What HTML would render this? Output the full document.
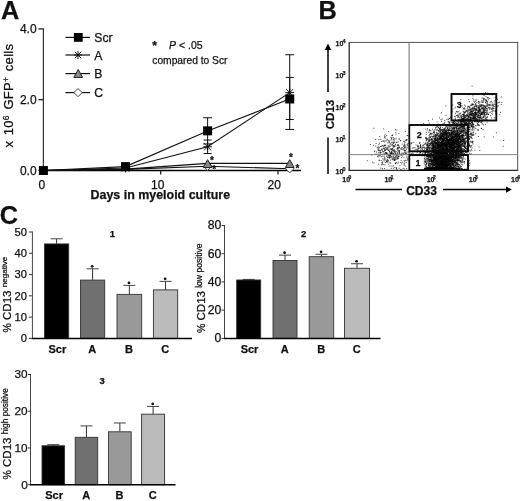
<!DOCTYPE html>
<html><head><meta charset="utf-8"><title>Figure</title>
<style>
html,body{margin:0;padding:0;background:#fff;}
body{width:520px;height:501px;overflow:hidden;font-family:"Liberation Sans",sans-serif;}
svg text{font-family:"Liberation Sans",sans-serif;stroke:#111;stroke-width:0.25px;}
</style></head><body>
<svg width="520" height="501" viewBox="0 0 520 501" font-family="Liberation Sans, sans-serif" style="display:block;filter:grayscale(1)">
<text x="1" y="19" font-size="25.3" font-weight="bold" fill="#111" stroke="#111" stroke-width="0.25" >A</text>
<line x1="43.4" y1="28.5" x2="43.4" y2="171.0" stroke="#333" stroke-width="1.2"/>
<line x1="42.9" y1="170.5" x2="301" y2="170.5" stroke="#000" stroke-width="1.5"/>
<line x1="38.4" y1="28.900000000000006" x2="43.4" y2="28.900000000000006" stroke="#111" stroke-width="1.2"/>
<text x="36.6" y="33.300000000000004" font-size="12" text-anchor="end" fill="#111" stroke="#111" stroke-width="0.25" >4.0</text>
<line x1="38.4" y1="99.7" x2="43.4" y2="99.7" stroke="#111" stroke-width="1.2"/>
<text x="36.6" y="104.10000000000001" font-size="12" text-anchor="end" fill="#111" stroke="#111" stroke-width="0.25" >2.0</text>
<line x1="38.4" y1="170.5" x2="43.4" y2="170.5" stroke="#111" stroke-width="1.2"/>
<text x="36.6" y="174.9" font-size="12" text-anchor="end" fill="#111" stroke="#111" stroke-width="0.25" >0.0</text>
<line x1="43.4" y1="170.5" x2="43.4" y2="174.5" stroke="#111" stroke-width="1.2"/>
<text x="41.9" y="188.8" font-size="12" text-anchor="middle" fill="#111" stroke="#111" stroke-width="0.25" >0</text>
<line x1="160.70000000000002" y1="170.5" x2="160.70000000000002" y2="174.5" stroke="#111" stroke-width="1.2"/>
<text x="157.70000000000002" y="188.8" font-size="12" text-anchor="middle" fill="#111" stroke="#111" stroke-width="0.25" >10</text>
<line x1="278.0" y1="170.5" x2="278.0" y2="174.5" stroke="#111" stroke-width="1.2"/>
<text x="274.2" y="188.8" font-size="12" text-anchor="middle" fill="#111" stroke="#111" stroke-width="0.25" >20</text>
<text x="160.3" y="198.7" font-size="12.45" font-weight="bold" text-anchor="middle" fill="#111" stroke="#111" stroke-width="0.25" >Days in myeloid culture</text>
<text transform="translate(13 147.5) rotate(-90)" font-size="13" letter-spacing="0.3" word-spacing="1.6" fill="#111">x 10<tspan dy="-4.5" font-size="8.5">6</tspan><tspan dy="4.5"> GFP</tspan><tspan dy="-4.5" font-size="8.5">+</tspan><tspan dy="4.5"> cells</tspan></text>
<line x1="65.4" y1="37.4" x2="90" y2="37.4" stroke="#111" stroke-width="1.2"/>
<rect x="73.89999999999999" y="33.0" width="8.8" height="8.8" fill="#000"/>
<text x="94.3" y="41.9" font-size="12.2" fill="#111" stroke="#111" stroke-width="0.25" >Scr</text>
<line x1="65.4" y1="55" x2="90" y2="55" stroke="#111" stroke-width="1.2"/>
<line x1="74" y1="55" x2="82" y2="55" stroke="#111" stroke-width="1"/>
<line x1="78" y1="51" x2="78" y2="59" stroke="#111" stroke-width="1"/>
<line x1="74.8" y1="51.8" x2="81.2" y2="58.2" stroke="#111" stroke-width="1"/>
<line x1="74.8" y1="58.2" x2="81.2" y2="51.8" stroke="#111" stroke-width="1"/>
<text x="94.3" y="59.5" font-size="12.2" fill="#111" stroke="#111" stroke-width="0.25" >A</text>
<line x1="65.4" y1="73.6" x2="90" y2="73.6" stroke="#111" stroke-width="1.2"/>
<polygon points="78.2,69.49999999999999 82.60000000000001,77.41999999999999 73.8,77.41999999999999" fill="#888" stroke="#222" stroke-width="1"/>
<text x="94.3" y="78.1" font-size="12.2" fill="#111" stroke="#111" stroke-width="0.25" >B</text>
<line x1="65.4" y1="92.6" x2="90" y2="92.6" stroke="#111" stroke-width="1.2"/>
<polygon points="78,88.46 82.14,92.6 78,96.74 73.86,92.6" fill="#fff" stroke="#444" stroke-width="1"/>
<text x="94.3" y="97.1" font-size="12.2" fill="#111" stroke="#111" stroke-width="0.25" >C</text>
<text x="152.3" y="50" font-size="12" font-weight="bold" fill="#111" stroke="#111" stroke-width="0.25" >*</text>
<text x="169" y="48.7" font-size="10.5" fill="#111"><tspan font-style="italic">P</tspan> &lt; .05</text>
<text x="152.3" y="63.7" font-size="10.25" fill="#111" stroke="#111" stroke-width="0.25" >compared to Scr</text>
<line x1="207.62" y1="117.754" x2="207.62" y2="143.95" stroke="#111" stroke-width="1"/>
<line x1="203.12" y1="117.754" x2="212.12" y2="117.754" stroke="#111" stroke-width="1"/>
<line x1="203.12" y1="143.95" x2="212.12" y2="143.95" stroke="#111" stroke-width="1"/>
<line x1="289.73" y1="54.742000000000004" x2="289.73" y2="129.436" stroke="#111" stroke-width="1"/>
<line x1="285.23" y1="54.742000000000004" x2="294.23" y2="54.742000000000004" stroke="#111" stroke-width="1"/>
<line x1="285.23" y1="129.436" x2="294.23" y2="129.436" stroke="#111" stroke-width="1"/>
<line x1="207.62" y1="140.056" x2="207.62" y2="153.508" stroke="#111" stroke-width="1"/>
<line x1="203.62" y1="140.056" x2="211.62" y2="140.056" stroke="#111" stroke-width="1"/>
<line x1="203.62" y1="153.508" x2="211.62" y2="153.508" stroke="#111" stroke-width="1"/>
<line x1="289.73" y1="77.39800000000001" x2="289.73" y2="119.524" stroke="#111" stroke-width="1"/>
<line x1="285.73" y1="77.39800000000001" x2="293.73" y2="77.39800000000001" stroke="#111" stroke-width="1"/>
<line x1="285.73" y1="119.524" x2="293.73" y2="119.524" stroke="#111" stroke-width="1"/>
<polyline points="43.4,170.5 125.5,169.4 207.6,166.3 289.7,168.7" fill="none" stroke="#111" stroke-width="1.1"/>
<polyline points="43.4,170.5 125.5,169.1 207.6,163.4 289.7,163.4" fill="none" stroke="#111" stroke-width="1.1"/>
<polyline points="43.4,170.5 125.5,168.0 207.6,146.8 289.7,92.6" fill="none" stroke="#111" stroke-width="1.1"/>
<polyline points="43.4,170.5 125.5,166.6 207.6,130.9 289.7,99.0" fill="none" stroke="#111" stroke-width="1.1"/>
<polygon points="207.62,162.11200000000002 211.76,166.252 207.62,170.392 203.48000000000002,166.252" fill="#fff" stroke="#444" stroke-width="1"/>
<polygon points="289.73,164.59 293.87,168.73 289.73,172.86999999999998 285.59000000000003,168.73" fill="#fff" stroke="#444" stroke-width="1"/>
<polygon points="207.62,159.61999999999998 212.02,167.54 203.22,167.54" fill="#888" stroke="#222" stroke-width="1"/>
<polygon points="289.73,159.61999999999998 294.13,167.54 285.33000000000004,167.54" fill="#888" stroke="#222" stroke-width="1"/>
<line x1="121.10999999999999" y1="168.022" x2="129.91" y2="168.022" stroke="#111" stroke-width="1"/>
<line x1="125.50999999999999" y1="163.62199999999999" x2="125.50999999999999" y2="172.422" stroke="#111" stroke-width="1"/>
<line x1="121.99" y1="164.50199999999998" x2="129.03" y2="171.542" stroke="#111" stroke-width="1"/>
<line x1="121.99" y1="171.542" x2="129.03" y2="164.50199999999998" stroke="#111" stroke-width="1"/>
<line x1="203.22" y1="146.782" x2="212.02" y2="146.782" stroke="#111" stroke-width="1"/>
<line x1="207.62" y1="142.382" x2="207.62" y2="151.18200000000002" stroke="#111" stroke-width="1"/>
<line x1="204.1" y1="143.262" x2="211.14000000000001" y2="150.30200000000002" stroke="#111" stroke-width="1"/>
<line x1="204.1" y1="150.30200000000002" x2="211.14000000000001" y2="143.262" stroke="#111" stroke-width="1"/>
<line x1="285.33000000000004" y1="92.61999999999999" x2="294.13" y2="92.61999999999999" stroke="#111" stroke-width="1"/>
<line x1="289.73" y1="88.21999999999998" x2="289.73" y2="97.02" stroke="#111" stroke-width="1"/>
<line x1="286.21000000000004" y1="89.1" x2="293.25" y2="96.13999999999999" stroke="#111" stroke-width="1"/>
<line x1="286.21000000000004" y1="96.13999999999999" x2="293.25" y2="89.1" stroke="#111" stroke-width="1"/>
<rect x="38.9" y="166.0" width="9.0" height="9.0" fill="#000"/>
<rect x="121.00999999999999" y="162.106" width="9.0" height="9.0" fill="#000"/>
<rect x="203.12" y="126.352" width="9.0" height="9.0" fill="#000"/>
<rect x="285.23" y="94.492" width="9.0" height="9.0" fill="#000"/>
<text x="211.92000000000002" y="164.3" font-size="10" font-weight="bold" text-anchor="middle" fill="#111" stroke="#111" stroke-width="0.25" >*</text>
<text x="214.12" y="172.5" font-size="10" font-weight="bold" text-anchor="middle" fill="#111" stroke="#111" stroke-width="0.25" >*</text>
<text x="291" y="161.2" font-size="10" font-weight="bold" text-anchor="middle" fill="#111" stroke="#111" stroke-width="0.25" >*</text>
<text x="297.5" y="171.7" font-size="10" font-weight="bold" text-anchor="middle" fill="#111" stroke="#111" stroke-width="0.25" >*</text>
<text x="318.6" y="19" font-size="25.3" font-weight="bold" fill="#111" stroke="#111" stroke-width="0.25" >B</text>
<path d="M439.7 166.0h1M440.0 158.1h1M433.6 159.4h1M452.0 164.5h1M451.3 162.9h1M445.6 162.6h1M427.0 168.7h1M446.6 165.5h1M426.8 145.3h1M434.0 157.0h1M444.7 160.4h1M446.7 154.7h1M444.8 164.6h1M436.0 168.7h1M447.0 169.2h1M436.4 154.3h1M438.9 160.2h1M447.7 163.1h1M438.0 152.1h1M437.3 169.9h1M434.7 163.7h1M445.8 146.7h1M442.4 168.9h1M423.9 158.9h1M441.0 153.3h1M446.5 160.2h1M428.8 169.8h1M448.0 169.5h1M455.0 163.8h1M443.1 148.6h1M447.5 154.9h1M437.9 149.2h1M433.3 156.4h1M453.6 141.1h1M428.9 164.0h1M455.0 165.8h1M424.9 138.0h1M445.2 153.8h1M431.9 168.2h1M451.9 162.0h1M444.2 165.0h1M456.3 166.1h1M446.7 166.0h1M427.9 169.6h1M450.6 165.6h1M424.2 155.9h1M449.6 143.4h1M440.3 168.1h1M430.2 169.7h1M447.0 159.3h1M444.9 167.0h1M443.1 169.9h1M436.0 157.4h1M451.4 160.8h1M434.1 169.9h1M455.2 156.1h1M429.6 160.4h1M440.7 158.2h1M454.6 150.6h1M453.3 148.4h1M434.9 167.4h1M452.2 168.6h1M445.1 162.2h1M443.4 166.4h1M440.4 163.7h1M447.2 160.7h1M448.9 166.0h1M460.1 163.1h1M438.2 157.7h1M441.9 168.3h1M439.0 164.8h1M458.5 135.8h1M431.9 163.8h1M445.6 163.1h1M438.1 167.4h1M444.5 155.9h1M463.9 163.2h1M437.0 160.3h1M440.0 160.5h1M417.4 157.7h1M451.1 149.4h1M441.4 168.2h1M449.7 169.5h1M426.7 158.5h1M438.9 167.1h1M451.8 135.0h1M451.8 146.7h1M448.1 146.5h1M443.6 169.3h1M440.7 162.9h1M449.2 162.0h1M441.2 169.3h1M451.4 157.7h1M466.7 148.8h1M450.2 158.0h1M443.2 167.6h1M444.0 167.0h1M428.3 147.4h1M447.5 151.6h1M432.8 147.5h1M453.4 167.5h1M455.3 151.4h1M442.0 150.2h1M448.9 168.7h1M434.0 169.4h1M450.9 158.8h1M424.3 169.1h1M441.1 155.3h1M445.6 164.7h1M455.5 150.6h1M452.2 168.7h1M455.1 158.6h1M435.3 169.4h1M443.0 162.1h1M454.8 157.8h1M421.3 158.4h1M425.3 169.7h1M444.9 155.1h1M441.9 168.9h1M442.7 168.7h1M441.4 168.7h1M455.4 170.0h1M436.0 169.1h1M425.1 151.6h1M424.3 168.3h1M430.9 161.5h1M440.3 160.8h1M436.7 163.5h1M458.1 160.6h1M446.8 168.8h1M440.2 149.1h1M437.0 168.6h1M427.2 156.1h1M451.1 168.0h1M442.1 168.6h1M443.5 149.7h1M427.9 155.7h1M450.3 155.2h1M433.9 154.1h1M428.2 160.6h1M431.4 165.0h1M420.8 165.2h1M436.2 142.9h1M448.5 158.0h1M421.9 153.8h1M444.6 156.5h1M449.0 167.7h1M448.0 163.8h1M454.0 166.6h1M446.1 141.0h1M450.1 168.0h1M439.3 156.7h1M459.5 143.4h1M446.2 169.6h1M433.7 168.0h1M459.0 159.0h1M447.1 169.3h1M433.8 160.6h1M444.6 168.7h1M441.7 159.2h1M432.9 158.1h1M450.0 161.5h1M434.3 153.4h1M466.0 169.2h1M447.7 136.1h1M447.6 165.3h1M457.2 164.3h1M441.4 166.0h1M424.5 169.7h1M444.9 154.2h1M453.9 168.2h1M429.4 155.3h1M444.6 162.6h1M438.4 151.9h1M461.1 168.8h1M431.3 148.8h1M457.3 168.3h1M458.4 167.8h1M434.2 163.9h1M422.6 154.9h1M441.5 166.0h1M435.5 160.2h1M446.1 164.4h1M447.7 162.7h1M439.1 168.6h1M442.4 153.1h1M436.4 161.3h1M441.0 162.5h1M442.0 162.7h1M440.8 149.1h1M445.8 168.7h1M445.9 159.0h1M446.0 151.6h1M424.9 162.5h1M433.6 168.5h1M432.2 136.6h1M432.6 169.3h1M438.6 148.2h1M435.1 166.3h1M446.5 162.4h1M455.4 167.0h1M441.8 166.7h1M456.9 169.4h1M451.2 150.2h1M440.7 168.0h1M439.3 168.6h1M447.4 169.3h1M440.1 169.5h1M453.2 158.4h1M442.8 169.0h1M438.9 169.5h1M450.8 160.6h1M431.5 163.3h1M445.2 168.7h1M449.0 160.9h1M449.7 165.7h1M443.9 161.4h1M439.8 167.6h1M432.5 155.5h1M442.0 147.1h1M438.1 142.1h1M435.9 166.7h1M447.1 160.2h1M439.9 147.7h1M458.5 165.0h1M451.8 152.1h1M440.3 143.8h1M449.0 168.4h1M424.9 161.4h1M447.7 144.0h1M425.6 151.8h1M436.3 148.0h1M442.3 163.4h1M447.7 167.4h1M455.5 169.5h1M430.2 156.8h1M432.5 151.3h1M441.3 161.1h1M446.4 145.7h1M430.9 161.4h1M440.2 158.1h1M441.4 153.8h1M448.3 164.0h1M441.2 154.7h1M440.4 135.3h1M433.2 161.8h1M428.5 163.6h1M443.3 147.9h1M439.7 158.1h1M446.1 166.6h1M441.7 152.9h1M440.7 160.4h1M448.6 163.4h1M435.5 148.5h1M438.6 154.2h1M432.0 160.4h1M437.6 162.2h1M446.7 156.8h1M462.9 156.8h1M451.9 161.6h1M452.0 137.9h1M435.2 163.7h1M447.4 168.5h1M444.9 168.9h1M448.9 168.7h1M446.6 159.3h1M446.6 150.5h1M452.6 150.8h1M444.2 169.8h1M440.0 161.3h1M452.5 160.7h1M434.7 163.8h1M447.2 167.5h1M435.0 168.9h1M457.0 160.4h1M444.4 156.8h1M454.7 153.6h1M448.1 156.1h1M435.8 168.1h1M454.0 160.3h1M435.9 169.0h1M441.6 164.0h1M455.7 169.8h1M437.3 168.7h1M442.0 168.5h1M436.2 160.9h1M426.3 168.4h1M454.3 148.8h1M428.5 146.3h1M452.6 156.1h1M441.5 158.1h1M440.9 150.7h1M442.2 147.3h1M441.4 164.0h1M446.2 158.6h1M433.9 162.9h1M437.6 169.2h1M448.9 159.5h1M437.8 154.6h1M433.6 158.1h1M444.7 165.8h1M447.1 169.1h1M435.7 161.5h1M467.2 142.0h1M437.3 162.9h1M443.4 164.8h1M439.9 164.6h1M442.5 168.3h1M425.0 153.5h1M442.0 151.2h1M432.6 167.5h1M436.2 167.3h1M448.7 163.6h1M446.6 159.8h1M429.3 161.4h1M446.1 155.8h1M441.1 168.2h1M434.1 167.5h1M458.8 154.9h1M443.3 159.5h1M455.9 163.3h1M450.1 154.0h1M441.9 160.9h1M426.0 168.8h1M450.1 144.0h1M448.7 159.4h1M446.0 164.3h1M428.5 159.7h1M455.4 154.8h1M432.8 148.6h1M431.0 164.8h1M457.2 164.3h1M444.2 168.9h1M437.3 154.9h1M446.8 166.0h1M432.9 150.4h1M444.6 163.2h1M430.2 159.7h1M437.1 165.6h1M440.9 160.2h1M438.8 168.0h1M454.5 156.9h1M449.6 153.4h1M442.6 168.1h1M455.6 156.7h1M441.3 162.9h1M428.5 161.9h1M435.9 164.8h1M431.8 142.8h1M442.3 163.5h1M437.1 168.3h1M439.5 155.4h1M446.3 145.9h1M435.9 161.1h1M449.6 159.1h1M444.8 154.6h1M444.7 168.6h1M435.8 169.3h1M436.2 161.5h1M443.6 169.9h1M430.9 141.7h1M447.5 168.3h1M447.6 168.6h1M443.8 163.3h1M450.4 164.1h1M457.0 148.5h1M438.6 128.5h1M449.3 157.1h1M450.3 169.6h1M441.9 158.6h1M437.5 153.3h1M436.3 167.4h1M442.3 161.6h1M440.4 168.6h1M446.4 159.4h1M448.0 159.2h1M431.6 168.7h1M446.2 151.7h1M451.7 163.8h1M427.9 168.3h1M445.0 169.3h1M443.8 159.5h1M428.1 169.9h1M442.3 158.3h1M445.2 161.6h1M448.1 157.2h1M441.7 140.7h1M438.2 167.6h1M454.0 156.9h1M440.9 169.0h1M439.1 168.1h1M457.1 160.6h1M453.0 153.7h1M443.9 160.2h1M443.0 169.3h1M463.5 153.6h1M436.8 166.0h1M432.5 166.2h1M447.1 158.1h1M446.8 146.0h1M448.8 146.0h1M435.7 156.1h1M438.4 169.3h1M442.7 157.2h1M446.9 169.3h1M442.1 164.5h1M453.2 163.0h1M430.4 169.5h1M461.9 141.1h1M441.6 165.0h1M450.7 166.9h1M439.6 151.1h1M442.9 168.3h1M432.2 151.8h1M441.8 142.6h1M439.7 157.0h1M446.1 154.1h1M434.1 157.7h1M441.6 154.7h1M442.1 168.1h1M452.7 169.1h1M434.9 157.4h1M419.7 168.9h1M435.5 161.0h1M446.7 147.9h1M446.2 160.5h1M425.6 164.6h1M452.8 142.7h1M449.3 162.6h1M446.3 165.0h1M453.7 158.3h1M449.9 156.7h1M448.6 152.9h1M441.0 169.8h1M446.0 159.3h1M431.7 154.0h1M443.7 168.9h1M445.8 165.8h1M441.6 168.7h1M438.5 156.0h1M450.0 161.2h1M439.5 155.7h1M439.7 167.0h1M445.2 149.4h1M445.8 162.5h1M433.0 168.8h1M439.5 158.0h1M449.2 169.8h1M435.8 165.5h1M434.1 169.3h1M437.6 169.5h1M436.2 169.0h1M462.0 135.8h1M438.1 166.0h1M441.2 154.7h1M461.4 160.7h1M427.2 168.9h1M426.5 169.8h1M436.8 162.6h1M453.3 161.5h1M429.5 145.6h1M452.6 167.5h1M434.7 168.0h1M446.5 166.9h1M421.7 159.2h1M450.1 167.5h1M449.9 137.3h1M443.5 165.6h1M465.0 150.7h1M439.0 161.5h1M450.0 156.4h1M452.3 153.0h1M444.4 155.9h1M443.4 154.4h1M427.6 169.2h1M444.7 155.6h1M443.8 168.1h1M433.2 160.4h1M446.9 165.7h1M439.0 141.2h1M453.2 163.5h1M442.1 158.4h1M444.4 156.8h1M432.8 154.5h1M436.6 155.5h1M431.6 167.6h1M430.2 167.9h1M432.9 164.8h1M454.4 162.3h1M435.4 161.8h1M443.3 144.5h1M436.5 162.8h1M437.8 162.0h1M448.6 167.9h1M450.2 166.2h1M439.4 161.0h1M439.6 158.2h1M440.4 144.7h1M439.0 160.9h1M433.2 161.2h1M446.6 159.2h1M460.7 135.3h1M440.1 143.8h1M450.8 169.9h1M419.5 163.4h1M446.7 157.9h1M447.0 139.5h1M449.7 164.1h1M442.2 155.4h1M447.7 156.1h1M444.0 156.1h1M421.8 161.8h1M443.8 168.1h1M434.1 161.1h1M447.6 162.1h1M453.2 168.5h1M433.8 143.2h1M449.7 168.2h1M450.3 168.3h1M436.4 154.5h1M450.0 151.9h1M425.7 152.4h1M464.4 169.1h1M435.8 154.4h1M444.1 153.8h1M453.8 159.6h1M432.2 169.3h1M436.8 163.4h1M441.9 158.0h1M444.9 154.3h1M425.4 140.9h1M430.6 154.4h1M441.8 161.5h1M447.0 161.9h1M434.9 154.7h1M422.9 160.4h1M446.4 165.8h1M440.9 159.4h1M450.4 160.7h1M448.6 166.2h1M443.9 168.8h1M436.8 157.9h1M434.7 153.8h1M456.0 169.4h1M442.2 166.4h1M452.6 168.1h1M452.8 148.4h1M436.2 165.6h1M454.9 161.3h1M434.3 158.0h1M436.1 153.2h1M455.5 154.4h1M442.2 169.5h1M452.7 163.6h1M436.5 165.2h1M456.6 166.1h1M453.4 161.3h1M446.6 158.8h1M445.8 168.2h1M429.1 161.1h1M444.2 155.5h1M439.2 168.6h1M460.0 166.0h1M444.9 146.1h1M459.3 160.8h1M441.7 150.4h1M441.5 150.6h1M442.6 165.4h1M442.3 163.6h1M434.3 168.7h1M436.1 144.1h1M440.3 153.8h1M432.9 158.1h1M444.6 149.6h1M440.8 169.0h1M448.1 159.2h1M443.1 159.8h1M441.6 168.0h1M441.2 138.2h1M441.8 152.6h1M447.9 154.9h1M443.3 169.1h1M432.6 150.8h1M429.3 138.9h1M425.1 165.4h1M436.3 143.6h1M428.7 167.6h1M435.0 157.9h1M445.0 168.4h1M459.5 168.5h1M443.3 162.7h1M458.2 169.4h1M439.2 165.5h1M444.6 161.4h1M437.5 148.7h1M437.2 146.6h1M453.0 165.5h1M431.1 169.4h1M450.0 142.5h1M458.6 167.8h1M460.6 148.3h1M446.8 164.8h1M443.8 162.5h1M451.5 146.3h1M430.8 148.4h1M437.0 155.5h1M445.3 163.4h1M442.3 154.6h1M438.0 169.2h1M448.9 161.6h1M439.1 169.9h1M436.7 167.4h1M452.4 157.9h1M449.4 150.0h1M451.1 162.4h1M427.7 168.1h1M434.0 169.2h1M435.9 159.8h1M444.5 157.7h1M444.3 155.6h1M448.0 160.7h1M443.9 134.8h1M452.5 160.8h1M426.0 162.8h1M446.2 169.8h1M432.3 168.7h1M440.6 169.3h1M440.7 167.5h1M438.7 150.6h1M451.9 169.1h1M455.8 168.4h1M436.8 145.5h1M436.1 154.9h1M434.7 166.9h1M445.0 158.3h1M443.6 159.5h1M443.9 168.0h1M450.6 154.0h1M428.4 169.3h1M443.0 169.6h1M427.2 158.6h1M442.2 147.3h1M437.4 168.1h1M451.7 169.5h1M434.2 148.1h1M446.7 169.5h1M443.7 148.6h1M449.0 168.1h1M447.0 156.1h1M444.7 168.4h1M437.0 143.8h1M445.0 165.4h1M442.1 169.4h1M436.7 160.5h1M439.3 166.6h1M456.4 157.9h1M460.5 168.2h1M449.1 166.2h1M457.9 158.4h1M441.0 151.0h1M446.3 169.1h1M446.8 164.8h1M440.2 162.7h1M429.2 168.9h1M438.3 150.7h1M435.2 153.5h1M449.7 169.4h1M429.8 168.1h1M450.0 155.1h1M428.6 154.6h1M436.3 164.6h1M438.8 141.9h1M444.1 146.3h1M450.1 149.1h1M435.8 153.2h1M437.1 168.8h1M449.7 166.3h1M444.9 146.2h1M437.3 156.0h1M433.2 166.3h1M435.3 154.6h1M432.6 142.0h1M447.4 169.7h1M443.6 151.7h1M417.7 163.9h1M452.9 163.2h1M450.3 168.6h1M452.1 156.3h1M451.5 167.9h1M428.2 157.9h1M429.2 160.6h1M447.2 150.6h1M423.5 170.0h1M445.4 168.0h1M430.1 168.5h1M460.7 169.6h1M440.1 163.7h1M440.6 169.1h1M451.3 161.3h1M429.8 168.7h1M437.8 167.2h1M444.4 168.2h1M452.2 156.2h1M445.1 168.5h1M437.2 165.4h1M452.7 168.4h1M446.7 148.2h1M430.7 163.9h1M445.5 168.8h1M434.2 169.6h1M448.9 144.8h1M434.6 163.0h1M437.6 159.8h1M446.2 153.1h1M446.2 154.7h1M437.1 166.4h1M436.8 164.0h1M456.4 160.5h1M440.7 168.0h1M438.7 168.7h1M430.5 167.5h1M437.4 153.7h1M457.9 152.1h1M457.8 166.4h1M455.1 151.0h1M452.8 168.8h1M441.0 159.8h1M464.1 161.5h1M438.2 155.2h1M446.0 163.9h1M443.6 169.7h1M439.0 165.6h1M455.1 150.8h1M451.3 169.9h1M429.8 151.2h1M432.7 144.0h1M446.1 143.2h1M446.5 168.9h1M427.5 158.8h1M424.7 169.3h1M435.4 158.8h1M442.5 166.1h1M438.9 161.3h1M437.1 162.3h1M431.4 162.2h1M424.6 157.3h1M459.2 160.8h1M430.7 164.0h1M433.2 145.8h1M435.4 168.3h1M445.5 159.9h1M433.7 151.2h1M454.1 162.7h1M433.4 141.4h1M429.7 168.2h1M431.7 160.8h1M443.9 159.4h1M439.5 148.1h1M432.5 169.3h1M435.2 169.4h1M426.8 159.2h1M444.3 168.7h1M431.9 167.2h1M445.5 153.8h1M446.3 152.3h1M434.8 161.2h1M417.6 161.2h1M433.0 147.6h1M438.2 168.4h1M438.4 169.8h1M431.6 149.1h1M456.0 164.0h1M450.5 152.7h1M449.2 163.1h1M447.8 160.9h1M452.9 154.3h1M433.3 147.4h1M452.4 153.4h1M432.6 152.6h1M438.0 149.1h1M439.4 155.2h1M437.0 152.2h1M442.3 156.6h1M443.0 163.3h1M445.1 140.1h1M437.2 153.7h1M449.0 145.7h1M435.6 158.6h1M439.0 168.2h1M438.0 168.2h1M428.8 144.5h1M453.0 164.6h1M446.4 161.9h1M446.4 149.2h1M450.5 155.5h1M450.9 161.4h1M424.2 149.7h1M452.1 159.2h1M438.4 163.5h1M438.2 156.0h1M442.9 162.3h1M455.7 160.7h1M458.9 169.4h1M457.4 168.6h1M443.2 162.2h1M440.7 154.1h1M441.4 155.0h1M456.8 165.3h1M438.0 143.0h1M441.5 157.1h1M432.2 150.7h1M421.7 167.5h1M441.4 168.5h1M441.7 159.6h1M455.0 161.6h1M443.5 157.4h1M436.6 169.1h1M451.0 168.2h1M438.9 161.5h1M434.1 169.9h1M429.5 167.0h1M451.9 169.4h1M433.5 169.8h1M435.6 154.2h1M430.1 168.3h1M456.8 154.6h1M435.2 158.1h1M464.6 169.3h1M437.1 144.2h1M435.9 168.5h1M458.8 157.6h1M435.8 156.5h1M425.0 169.5h1M432.2 168.7h1M426.6 149.8h1M444.6 153.6h1M449.0 160.7h1M431.4 167.5h1M449.6 142.4h1M458.4 164.8h1M448.8 143.0h1M435.5 158.0h1M451.7 146.6h1M434.0 142.2h1M439.8 164.4h1M426.8 156.2h1M446.6 169.0h1M448.0 157.8h1M431.4 152.7h1M436.0 162.7h1M441.6 168.9h1M444.6 150.7h1M455.9 169.3h1M442.9 154.1h1M425.2 152.2h1M450.2 152.9h1M430.1 163.5h1M444.2 166.6h1M447.9 169.2h1M434.4 168.9h1M433.1 168.1h1M443.6 163.2h1M450.7 160.4h1M452.0 168.8h1M443.2 155.6h1M435.2 156.4h1M440.2 160.9h1M468.8 165.6h1M448.9 152.5h1M435.6 158.3h1M443.7 151.1h1M456.5 154.9h1M451.7 138.3h1M441.9 163.6h1M443.7 166.6h1M444.5 162.4h1M425.0 155.1h1M420.9 168.1h1M444.8 159.0h1M434.6 155.9h1M458.6 168.9h1M441.5 169.4h1M427.7 143.4h1M437.7 152.9h1M437.0 163.1h1M469.2 153.3h1M442.4 163.6h1M441.7 169.3h1M458.0 148.4h1M443.5 158.4h1M445.2 146.3h1M426.2 139.9h1M446.7 162.6h1M442.7 138.5h1M438.6 154.0h1M429.3 153.0h1M448.3 165.8h1M441.8 165.9h1M436.6 162.0h1M442.4 166.2h1M441.4 159.7h1M440.8 154.9h1M462.1 164.8h1M445.9 169.7h1M454.6 145.6h1M448.3 168.6h1M459.0 168.7h1M448.9 149.5h1M434.2 164.0h1M446.5 151.1h1M438.5 157.4h1M442.5 164.2h1M439.4 149.4h1M453.2 168.4h1M441.0 169.5h1M446.0 167.0h1M446.3 153.5h1M447.2 168.8h1M433.9 169.2h1M460.8 169.6h1M459.9 167.1h1M439.0 155.5h1M434.7 162.5h1M441.7 167.4h1M423.8 169.9h1M462.5 159.7h1M448.1 165.2h1M444.5 158.9h1M440.9 153.2h1M443.6 160.7h1M444.9 152.7h1M442.4 161.4h1M447.4 150.6h1M445.8 169.9h1M447.4 157.2h1M437.6 159.0h1M448.6 168.5h1M440.6 155.0h1M445.4 162.8h1M433.8 154.4h1M441.1 167.4h1M431.3 151.9h1M446.5 149.1h1M443.0 164.3h1M441.0 151.4h1M441.5 157.9h1M445.0 152.9h1M451.8 144.6h1M440.4 161.2h1M450.7 154.8h1M446.9 155.4h1M448.6 169.7h1M438.4 165.4h1M433.7 169.4h1M452.9 160.8h1M431.8 165.4h1M452.3 169.0h1M449.3 143.2h1M435.9 169.6h1M431.0 168.8h1M458.9 167.3h1M452.1 157.3h1M431.0 160.6h1M440.2 160.6h1M448.3 159.3h1M443.7 164.9h1M442.0 169.1h1M446.0 161.6h1M440.1 155.2h1M454.1 161.8h1M432.3 156.2h1M440.8 156.8h1M451.8 149.5h1M446.4 162.1h1M431.4 162.0h1M441.2 165.8h1M437.9 164.1h1M427.0 151.5h1M449.1 169.6h1M441.9 155.3h1M451.7 140.6h1M434.8 167.8h1M447.9 150.9h1M425.0 168.6h1M443.4 152.4h1M442.5 168.7h1M418.7 168.1h1M448.7 140.9h1M448.9 143.7h1M452.3 164.2h1M462.3 154.1h1M442.0 169.3h1M436.2 154.6h1M438.7 160.5h1M432.3 166.1h1M446.9 161.4h1M457.3 157.1h1M453.8 155.2h1M448.8 142.3h1M443.8 159.2h1M437.5 155.4h1M438.9 154.3h1M422.3 156.4h1M437.1 156.3h1M432.5 160.2h1M449.1 158.3h1M437.6 168.4h1M450.8 169.3h1M452.4 157.3h1M440.8 168.8h1M437.0 160.1h1M445.4 164.4h1M439.5 168.9h1M440.4 168.0h1M451.6 166.7h1M448.6 149.6h1M430.2 155.8h1M446.3 169.9h1M431.0 164.5h1M434.3 154.5h1M439.5 167.7h1M443.9 169.4h1M433.1 169.1h1M450.4 161.2h1M446.3 155.4h1M432.2 157.7h1M436.2 169.9h1M437.6 169.8h1M443.8 163.9h1M448.7 153.3h1M450.2 164.1h1M428.4 167.4h1M447.0 165.0h1M456.3 156.3h1M446.6 167.9h1M433.9 168.4h1M428.9 149.4h1M446.7 150.4h1M441.0 145.4h1M442.6 150.2h1M445.1 146.3h1M446.0 158.3h1M442.6 160.3h1M443.2 148.4h1M418.9 162.5h1M433.6 157.1h1M445.8 142.0h1M435.1 155.6h1M432.5 164.6h1M440.7 153.3h1M433.1 169.1h1M436.1 166.9h1M446.0 142.8h1M432.2 161.5h1M445.1 168.2h1M449.2 169.8h1M438.6 159.2h1M449.0 156.6h1M451.5 145.4h1M447.9 159.0h1M424.3 168.9h1M444.8 161.1h1M432.3 157.1h1M455.6 152.4h1M410.8 154.5h1M431.2 160.3h1M438.5 152.5h1M434.4 169.5h1M429.0 168.9h1M437.1 150.9h1M449.1 166.0h1M432.6 168.6h1M425.4 153.1h1M452.1 158.0h1M430.3 166.5h1M450.3 160.4h1M425.7 158.6h1M445.8 168.1h1M458.7 157.7h1M437.7 160.9h1M452.9 151.5h1M453.7 134.3h1M449.2 154.2h1M446.1 167.3h1M431.4 160.7h1M444.2 166.5h1M433.6 152.0h1M424.7 169.2h1M440.3 159.0h1M428.5 169.5h1M437.2 169.1h1M449.7 160.8h1M448.5 150.1h1M439.1 155.7h1M430.6 161.8h1M440.7 169.4h1M411.8 156.2h1M433.7 157.0h1M445.8 164.6h1M442.3 156.5h1M446.5 164.2h1M425.4 159.4h1M429.6 150.4h1M443.3 161.5h1M443.0 152.6h1M440.2 152.4h1M445.4 167.4h1M457.8 168.1h1M434.8 157.0h1M433.6 164.3h1M459.8 166.8h1M422.2 150.1h1M430.4 166.5h1M442.0 163.8h1M458.0 152.3h1M434.4 169.1h1M445.1 153.4h1M423.7 147.5h1M420.0 162.8h1M442.4 169.7h1M440.7 154.5h1M435.3 168.5h1M426.1 163.5h1M442.2 166.8h1M438.4 165.9h1M449.3 159.2h1M437.9 159.4h1M433.3 159.5h1M439.3 163.1h1M454.0 169.7h1M438.0 166.9h1M444.7 168.1h1M442.2 163.5h1M437.8 153.8h1M449.8 168.5h1M448.0 164.8h1M444.4 156.6h1M426.0 168.1h1M443.8 155.6h1M433.3 168.4h1M425.8 168.2h1M447.8 169.0h1M435.5 161.1h1M437.4 162.7h1M440.1 154.0h1M451.7 153.0h1M437.4 166.5h1M437.2 157.1h1M445.2 157.3h1M430.8 160.6h1M440.0 168.5h1M432.1 168.4h1M434.9 158.0h1M439.1 163.7h1M449.8 168.4h1M436.3 168.8h1M451.0 168.2h1M435.2 168.2h1M441.0 164.4h1M439.6 167.4h1M452.0 168.5h1M440.2 169.2h1M455.1 151.4h1M455.3 147.6h1M446.9 166.4h1M455.3 162.9h1M437.7 153.7h1M430.7 168.9h1M439.9 154.3h1M446.8 153.5h1M438.1 156.9h1M456.9 169.3h1M440.6 146.2h1M444.5 161.6h1M445.1 166.2h1M439.1 168.3h1M449.5 162.6h1M438.3 156.6h1M448.2 150.2h1M440.6 154.0h1M429.5 167.4h1M441.8 161.4h1M449.9 146.4h1M441.4 163.8h1M449.5 150.3h1M448.4 162.7h1M454.2 168.1h1M446.9 169.2h1M442.0 157.0h1M438.9 152.2h1M441.7 143.2h1M441.2 165.1h1M450.9 157.2h1M454.5 154.2h1M440.8 143.2h1M435.1 153.9h1M455.1 165.2h1M432.3 166.5h1M446.2 158.6h1M442.2 158.2h1M437.2 144.8h1M441.2 168.2h1M454.6 157.8h1M435.4 159.4h1M449.9 163.8h1M436.9 164.6h1M440.2 165.9h1M438.4 147.6h1M442.5 168.0h1M432.3 160.5h1M449.7 157.1h1M436.3 168.4h1M449.3 168.6h1M433.7 169.3h1M427.5 157.0h1M448.5 169.4h1M433.9 155.3h1M443.7 143.1h1M447.6 165.9h1M438.1 166.2h1M448.8 163.5h1M446.6 169.4h1M437.8 162.7h1M437.4 168.6h1M438.4 165.6h1M443.2 161.5h1M457.0 159.4h1M454.4 167.9h1M453.5 158.9h1M450.1 167.5h1M436.7 163.8h1M440.9 160.7h1M453.3 153.8h1M427.4 145.8h1M438.1 155.3h1M442.1 166.2h1M457.3 163.0h1M446.0 154.1h1M447.0 169.1h1M453.6 142.5h1M449.7 169.6h1M449.2 146.9h1M439.3 166.5h1M445.6 153.4h1M434.3 169.7h1M430.4 168.4h1M442.2 163.7h1M430.4 156.2h1M448.0 147.2h1M459.9 147.2h1M431.4 162.0h1M446.2 167.5h1M438.8 159.3h1M440.0 155.9h1M419.7 169.6h1M444.2 162.3h1M436.6 163.6h1M441.9 160.3h1M451.6 144.8h1M444.2 151.2h1M439.3 169.7h1M432.6 160.6h1M436.9 168.9h1M433.5 146.1h1M446.4 157.5h1M439.2 169.9h1M434.3 158.0h1M443.3 164.7h1M437.5 169.2h1M461.4 156.3h1M458.2 140.9h1M454.2 157.2h1M443.2 157.8h1M436.5 149.6h1M438.6 169.6h1M451.9 157.3h1M437.4 154.8h1M431.6 168.3h1M447.7 161.8h1M437.8 151.9h1M453.4 167.5h1M433.8 168.9h1M432.4 167.4h1M433.7 157.7h1M446.3 164.7h1M450.7 152.9h1M455.6 169.0h1M441.9 165.2h1M435.3 160.0h1M430.6 162.4h1M443.7 169.1h1M450.2 168.0h1M438.9 159.1h1M439.1 163.2h1M425.3 168.9h1M428.5 157.0h1M442.2 156.3h1M456.4 159.4h1M455.6 170.0h1M437.7 164.9h1M453.2 157.4h1M442.8 155.9h1M442.5 157.8h1M442.7 168.3h1M454.0 161.6h1M443.7 168.7h1M439.5 151.5h1M451.6 152.0h1M450.0 151.8h1M457.8 150.7h1M449.3 168.1h1M433.7 170.0h1M434.9 145.3h1M448.2 167.1h1M440.2 138.1h1M441.5 158.2h1M438.7 158.5h1M426.5 156.7h1M457.6 168.9h1M438.9 154.7h1M445.4 168.4h1M448.2 150.0h1M443.4 162.2h1M454.4 168.3h1M446.5 168.1h1M438.6 168.2h1M438.3 164.8h1M449.9 152.3h1M435.9 145.3h1M443.4 160.4h1M439.2 165.7h1M423.7 161.8h1M442.8 158.5h1M448.9 168.2h1M438.1 152.6h1M436.8 162.1h1M447.1 152.9h1M450.6 151.2h1M449.1 164.5h1M446.0 169.7h1M439.7 159.6h1M446.1 168.6h1M430.4 164.1h1M435.6 167.1h1M453.8 160.8h1M441.1 162.7h1M416.5 169.4h1M446.8 162.2h1M438.6 154.5h1M440.5 168.0h1M441.1 168.0h1M419.8 158.0h1M444.4 160.8h1M427.7 155.7h1M452.8 148.7h1M433.4 151.5h1M437.2 167.1h1M447.1 142.2h1M454.6 154.9h1M436.9 168.7h1M441.3 149.7h1M436.5 154.7h1M433.3 158.4h1M449.6 163.8h1M430.1 168.2h1M433.4 162.5h1M442.3 167.9h1M439.2 165.3h1M460.2 160.9h1M432.6 164.5h1M435.1 158.0h1M443.6 164.0h1M439.5 168.9h1M440.3 149.2h1M449.6 157.3h1M452.5 154.5h1M446.9 163.6h1M418.7 148.6h1M432.3 169.5h1M425.7 169.1h1M451.4 165.0h1M447.8 156.2h1M441.9 163.1h1M445.6 167.2h1M440.2 154.7h1M437.1 165.0h1M427.6 150.3h1M438.4 156.2h1M439.7 136.9h1M439.1 158.9h1M448.7 142.6h1M439.4 165.5h1M446.2 169.8h1M451.1 151.0h1M447.5 157.7h1M435.1 169.1h1M436.6 153.5h1M438.5 153.4h1M450.7 164.0h1M454.1 164.1h1M436.7 168.0h1M436.3 157.1h1M440.5 161.4h1M452.3 154.9h1M445.0 160.6h1M431.1 151.6h1M440.1 164.8h1M444.8 165.2h1M442.4 156.9h1M445.7 151.6h1M430.4 158.6h1M429.6 157.0h1M435.5 156.3h1M441.6 153.7h1M438.3 145.6h1M443.3 152.9h1M445.5 135.0h1M435.0 163.6h1M420.8 158.8h1M442.8 161.9h1M429.0 163.8h1M443.3 152.0h1M448.5 160.2h1M442.2 156.9h1M446.8 161.6h1M451.9 164.6h1M436.6 159.2h1M450.0 157.2h1M445.3 165.6h1M440.4 139.7h1M443.1 162.9h1M443.2 154.0h1M452.5 159.2h1M436.6 154.7h1M445.1 150.8h1M433.3 168.6h1M453.4 169.1h1M453.9 165.8h1M427.3 169.4h1M452.8 164.9h1M425.0 169.6h1M453.9 155.9h1M443.1 168.1h1M441.3 169.1h1M442.7 167.3h1M442.7 147.4h1M433.3 169.4h1M444.4 169.0h1M451.9 168.9h1M446.8 155.3h1M442.2 143.3h1M440.4 169.4h1M423.1 163.8h1M449.2 169.2h1M433.9 155.4h1M425.6 152.5h1M446.7 168.8h1M432.0 169.2h1M445.7 156.2h1M461.2 136.8h1M441.4 163.0h1M460.6 169.0h1M461.8 161.2h1M450.6 169.0h1M446.5 164.1h1M440.4 157.3h1M431.3 168.3h1M438.1 142.0h1M444.3 160.6h1M443.5 168.2h1M441.1 158.6h1M435.5 161.1h1M438.2 163.1h1M469.3 163.2h1M434.5 168.8h1M449.6 168.1h1M448.3 168.2h1M447.9 168.5h1M450.8 169.4h1M437.6 161.2h1M435.6 169.7h1M449.3 156.3h1M447.1 169.4h1M452.8 150.1h1M441.2 166.9h1M441.7 164.6h1M452.3 163.5h1M432.4 168.1h1M441.1 162.1h1M437.0 148.5h1M431.1 158.3h1M432.6 136.4h1M452.1 149.7h1M435.6 166.2h1M420.9 169.7h1M435.3 167.5h1M437.8 164.0h1M442.9 160.9h1M426.0 148.3h1M441.6 168.5h1M437.2 166.2h1M443.4 165.4h1M450.7 146.7h1M444.4 159.2h1M439.3 153.3h1M435.1 151.8h1M432.4 168.2h1M456.9 160.3h1M448.5 151.6h1M417.6 145.4h1M443.2 168.7h1M441.6 151.8h1M439.9 151.9h1M429.8 159.5h1M438.5 153.7h1M434.2 152.8h1M444.1 169.6h1M440.2 169.7h1M427.8 164.3h1M431.9 160.0h1M442.9 166.1h1M451.9 155.3h1M431.1 159.8h1M444.6 154.4h1M449.8 168.5h1M429.5 165.0h1M450.9 142.8h1M443.8 158.8h1M429.5 168.9h1M443.9 156.5h1M445.9 166.7h1M448.7 166.0h1M445.6 149.9h1M438.3 162.4h1M417.7 169.7h1M438.7 151.4h1M426.0 164.1h1M442.3 155.6h1M438.3 153.0h1M435.4 160.4h1M436.4 167.6h1M440.7 162.3h1M445.6 168.0h1M447.3 162.8h1M440.6 153.6h1M439.0 167.5h1M444.0 157.3h1M430.3 147.4h1M444.8 168.5h1M445.3 148.1h1M440.1 163.2h1M433.9 164.6h1M440.2 153.4h1M431.1 169.1h1M445.1 152.6h1M433.1 168.1h1M447.2 157.9h1M456.0 157.6h1M432.7 168.0h1M440.3 164.3h1M442.3 151.7h1M431.6 159.8h1M454.3 151.1h1M453.9 162.4h1M432.3 164.0h1M447.0 152.4h1M423.3 165.3h1M432.3 165.6h1M425.3 160.6h1M434.9 147.7h1M439.9 162.7h1M437.1 150.4h1M443.9 144.8h1M446.7 165.3h1M456.7 168.4h1M445.1 163.3h1M442.2 148.8h1M454.8 165.2h1M439.5 150.6h1M455.0 165.2h1M431.6 167.7h1M458.6 159.9h1M445.5 157.0h1M436.5 168.4h1M468.9 160.7h1M440.9 168.4h1M439.3 167.9h1M449.2 151.3h1M432.6 160.8h1M449.3 163.2h1M452.8 147.7h1M446.3 155.0h1M442.9 163.9h1M433.5 159.3h1M431.8 164.0h1M434.6 156.8h1M443.9 154.9h1M452.0 154.6h1M449.4 163.2h1M433.0 159.5h1M434.7 158.1h1M439.6 168.1h1M438.3 168.1h1M445.9 148.8h1M421.8 168.3h1M424.6 168.5h1M451.0 164.1h1M440.2 158.8h1M444.3 158.1h1M437.3 157.8h1M452.2 154.8h1M445.3 150.2h1M435.8 148.7h1M440.3 167.4h1M444.7 156.3h1M447.3 157.5h1M445.2 163.3h1M446.7 138.0h1M430.7 168.7h1M441.1 169.7h1M440.0 156.0h1M455.0 165.4h1M458.5 164.8h1M440.2 167.7h1M435.1 157.3h1M437.2 159.2h1M448.8 156.2h1M444.8 156.3h1M449.7 135.3h1M440.2 162.6h1M432.6 169.3h1M443.9 168.9h1M450.4 166.4h1M440.7 151.1h1M440.1 156.9h1M444.2 156.6h1M468.6 144.9h1M452.2 156.2h1M439.9 168.7h1M442.0 149.9h1M445.6 159.0h1M424.1 163.8h1M432.8 154.7h1M446.2 163.5h1M439.5 169.7h1M445.6 155.2h1M444.1 159.8h1M422.8 147.6h1M429.9 169.5h1M440.4 158.6h1M437.1 168.5h1M442.2 168.1h1M448.8 169.0h1M441.0 164.5h1M438.2 159.7h1M427.0 156.5h1M433.7 155.5h1M452.6 162.8h1M452.6 168.3h1M450.0 168.1h1M436.7 168.6h1M439.2 156.3h1M452.4 168.2h1M433.5 168.2h1M449.2 152.9h1M444.4 164.3h1M445.3 157.6h1M430.9 161.9h1M449.5 167.8h1M447.7 169.6h1M433.4 161.1h1M445.0 169.2h1M443.4 165.7h1M443.2 168.7h1M423.1 161.8h1M463.5 162.0h1M426.1 163.1h1M429.6 155.4h1M443.9 168.4h1M446.0 166.9h1M450.8 162.4h1M434.6 160.5h1M444.9 158.3h1M436.2 158.0h1M429.0 152.3h1M441.2 157.7h1M442.3 168.3h1M444.6 160.6h1M431.8 151.7h1M445.3 152.9h1M445.7 151.0h1M443.2 160.3h1M450.6 157.0h1M438.8 163.4h1M442.5 169.8h1M439.8 156.2h1M439.2 165.5h1M444.0 167.2h1M430.0 168.6h1M457.9 159.9h1M431.5 163.0h1M445.6 140.4h1M442.1 147.5h1M446.0 169.9h1M451.0 146.8h1M454.0 168.6h1M438.9 165.7h1M455.1 157.3h1M441.9 155.9h1M452.0 140.8h1M454.3 151.5h1M450.0 145.7h1M433.9 156.0h1M449.2 145.8h1M447.2 154.9h1M452.8 157.6h1M446.2 159.2h1M457.5 156.9h1M441.8 169.4h1M442.7 167.2h1M435.6 163.2h1M422.4 163.0h1M436.4 147.6h1M429.7 169.9h1M445.7 147.0h1M457.7 153.8h1M438.8 163.4h1M432.2 146.8h1M435.5 169.0h1M450.2 146.1h1M452.4 160.8h1M446.3 161.2h1M445.6 151.7h1M434.1 155.0h1M438.8 166.8h1M431.5 169.7h1M436.5 155.9h1M448.1 164.6h1M439.1 151.4h1M433.3 146.9h1M451.9 168.7h1M458.2 164.7h1M444.9 167.8h1M450.2 158.2h1M445.1 169.2h1M427.3 148.9h1M433.7 168.3h1M452.3 157.4h1M447.8 160.3h1M444.6 155.9h1M441.8 161.0h1M451.8 168.4h1M426.3 166.7h1M442.0 169.4h1M451.2 167.6h1M449.0 152.0h1M427.2 168.0h1M452.5 151.7h1M453.2 166.5h1M420.7 169.8h1M433.4 169.8h1M436.1 154.5h1M428.6 159.7h1M450.8 154.4h1M425.9 169.0h1M458.0 166.5h1M437.3 150.2h1M427.8 166.9h1M453.3 150.7h1M442.0 158.5h1M439.8 165.7h1M460.1 154.2h1M449.4 169.0h1M439.5 159.8h1M430.4 168.3h1M437.4 155.3h1M442.6 153.1h1M433.0 158.8h1M454.9 158.4h1M446.6 147.3h1M425.1 169.9h1M438.5 147.1h1M441.1 166.6h1M427.0 153.7h1M444.3 152.4h1M448.9 169.4h1M445.8 156.9h1M441.6 155.2h1M440.9 164.0h1M439.4 169.6h1M464.5 154.8h1M445.0 168.4h1M447.6 158.5h1M437.8 169.5h1M447.4 165.4h1M435.0 167.2h1M448.9 158.9h1M447.6 169.1h1M425.7 167.4h1M431.8 149.0h1M440.0 166.1h1M442.5 150.3h1M429.5 156.6h1M442.1 153.4h1M428.9 168.4h1M434.7 160.0h1M437.2 155.9h1M442.3 158.2h1M447.4 149.8h1M429.1 168.7h1M441.3 168.1h1M452.3 165.5h1M442.3 146.7h1M428.1 169.5h1M447.9 165.9h1M427.5 142.2h1M432.8 150.6h1M443.4 151.5h1M455.8 154.6h1M437.1 169.2h1M444.9 152.6h1M449.2 169.2h1M431.3 159.3h1M432.6 143.6h1M447.5 167.1h1M450.5 164.5h1M424.4 161.7h1M436.2 150.5h1M432.3 168.6h1M439.4 168.5h1M446.1 143.2h1M449.8 168.9h1M442.3 149.8h1M457.5 148.1h1M441.3 143.5h1M431.0 145.9h1M451.5 169.8h1M438.5 148.7h1M441.5 164.5h1M428.6 151.0h1M441.1 167.5h1M442.7 165.1h1M431.1 138.6h1M444.7 152.4h1M440.9 157.6h1M446.2 153.6h1M454.7 160.6h1M446.6 166.6h1M451.1 164.3h1M426.6 156.0h1M458.4 164.5h1M446.9 165.1h1M436.4 155.0h1M436.3 169.3h1M445.2 170.0h1M446.4 169.1h1M446.0 149.8h1M457.3 163.3h1M452.5 162.4h1M439.1 162.7h1M432.1 150.4h1M434.2 156.5h1M430.0 160.7h1M444.7 169.5h1M458.2 159.7h1M449.8 158.5h1M445.5 160.5h1M437.2 162.0h1M428.9 165.8h1M439.4 151.0h1M438.8 166.3h1M436.0 165.7h1M447.0 169.4h1M432.4 160.5h1M446.5 169.3h1M444.3 167.9h1M429.0 156.2h1M456.7 157.6h1M461.2 153.2h1M439.5 146.2h1M447.6 163.2h1M459.9 161.6h1M439.8 147.9h1M441.3 168.3h1M448.6 169.8h1M449.7 160.2h1M447.4 162.3h1M430.2 169.8h1M445.3 151.0h1M445.4 163.5h1M450.9 169.7h1M415.0 167.6h1M455.6 151.4h1M425.5 164.5h1M445.0 164.1h1M432.1 157.1h1M443.7 167.9h1M461.5 162.7h1M436.6 139.1h1M451.6 159.3h1M441.0 151.8h1M448.5 143.8h1M443.0 162.1h1M444.7 169.1h1M441.1 161.9h1M449.6 146.0h1M439.4 161.8h1M450.5 153.0h1M449.2 164.2h1M428.7 147.8h1M429.2 163.0h1M443.8 167.7h1M449.3 155.4h1M451.6 168.2h1M446.2 165.3h1M430.5 165.0h1M432.8 150.3h1M438.9 162.5h1M441.5 157.9h1M433.1 163.2h1M435.4 148.1h1M442.8 169.1h1M438.4 151.2h1M454.4 168.1h1M439.4 159.1h1M443.9 168.5h1M443.2 169.5h1M446.0 143.6h1M432.1 149.9h1M445.9 161.8h1M458.0 157.6h1M444.8 161.6h1M443.2 169.7h1M444.6 168.9h1M453.6 154.6h1M448.1 157.1h1M443.0 162.4h1M442.2 156.6h1M456.0 157.8h1M448.3 168.3h1M447.6 169.6h1M454.5 168.5h1M457.4 146.7h1M459.6 160.3h1M426.3 155.8h1M429.5 161.5h1M428.6 152.2h1M444.7 162.3h1M434.8 159.2h1M441.1 161.8h1M441.9 158.9h1M449.9 145.4h1M437.6 162.5h1M438.4 156.0h1M438.1 163.2h1M453.2 158.7h1M439.6 164.5h1M439.8 142.8h1M444.4 157.3h1M436.9 167.2h1M442.4 155.6h1M422.4 145.7h1M442.1 159.9h1M445.9 162.9h1M437.7 149.2h1M432.2 160.2h1M431.7 168.7h1M430.1 144.6h1M440.3 144.3h1M456.6 150.8h1M441.5 158.7h1M434.6 144.6h1M425.3 169.3h1M451.2 168.1h1M428.8 167.0h1M441.9 169.0h1M437.4 168.1h1M450.1 166.3h1M455.0 158.7h1M455.9 153.6h1M457.0 134.1h1M442.1 153.4h1M442.0 168.1h1M448.5 161.6h1M457.3 146.2h1M434.7 169.7h1M445.0 141.2h1M445.1 149.6h1M455.3 168.4h1M437.1 168.8h1M434.5 169.2h1M447.2 159.5h1M429.2 159.0h1M421.4 156.7h1M425.3 169.0h1M433.3 138.4h1M447.3 164.2h1M437.4 168.2h1M449.0 161.3h1M436.2 133.3h1M446.3 169.0h1M436.7 147.9h1M441.6 145.2h1M442.1 168.3h1M455.6 162.8h1M443.8 168.0h1M454.6 157.3h1M430.9 154.1h1M430.7 153.2h1M440.9 164.3h1M443.4 161.6h1M438.8 165.2h1M450.0 167.8h1M455.5 157.5h1M439.7 168.9h1M443.8 164.8h1M439.0 169.0h1M438.4 151.6h1M441.5 156.8h1M449.5 157.0h1M443.1 158.9h1M445.1 154.9h1M451.9 147.0h1M438.5 154.5h1M447.8 161.1h1M446.4 157.6h1M435.5 150.7h1M439.0 156.1h1M444.5 164.2h1M450.8 159.5h1M435.3 151.3h1M442.6 164.4h1M459.5 161.8h1M457.8 170.0h1M432.6 168.5h1M452.2 169.8h1M441.9 168.2h1M437.7 160.6h1M442.2 170.0h1M440.1 168.9h1M442.6 154.2h1M444.2 167.1h1M435.6 167.4h1M435.6 153.0h1M444.0 158.7h1M433.2 146.0h1M442.2 163.3h1M437.9 163.0h1M428.3 165.5h1M445.7 163.4h1M436.5 162.0h1M443.2 169.5h1M444.5 163.3h1M435.5 168.6h1M452.6 155.8h1M447.7 163.6h1M441.6 148.8h1M457.8 142.5h1M444.7 157.3h1M452.3 156.4h1M442.4 166.8h1M446.1 155.9h1M448.1 164.4h1M450.9 155.7h1M441.6 157.3h1M434.5 163.8h1M445.7 168.7h1M439.1 164.8h1M452.3 159.4h1M442.6 162.2h1M435.8 152.0h1M452.0 162.1h1M441.3 149.3h1M443.1 168.5h1M431.7 153.1h1M452.0 168.4h1M455.9 155.0h1M447.4 153.6h1M446.7 157.3h1M443.8 168.0h1M445.0 158.6h1M442.5 163.5h1M437.4 163.2h1M447.4 169.8h1M423.5 150.7h1M430.9 169.5h1M463.8 161.7h1M443.1 169.0h1M420.2 160.5h1M414.1 163.9h1M437.5 156.7h1M445.0 155.3h1M451.9 160.4h1M445.4 168.1h1M438.0 169.2h1M434.6 169.6h1M450.6 161.9h1M450.9 169.0h1M454.3 160.4h1M441.5 169.4h1M428.9 156.0h1M446.3 166.1h1M458.6 169.8h1M444.9 165.0h1M430.2 159.9h1M444.3 158.8h1M442.5 166.7h1M433.5 156.1h1M426.2 168.4h1M432.6 145.5h1M448.9 158.6h1M450.6 157.1h1M460.9 166.7h1M443.3 162.0h1M440.2 168.7h1M459.8 156.1h1M432.3 167.1h1M451.5 146.5h1M435.8 152.0h1M447.0 165.5h1M435.5 150.8h1M448.1 141.4h1M447.7 159.2h1M459.1 169.4h1M436.9 158.7h1M439.5 154.3h1M442.7 169.1h1M428.6 159.6h1M455.3 167.2h1M434.8 153.8h1M434.4 146.4h1M452.2 161.1h1M435.8 147.9h1M438.6 156.4h1M457.3 155.9h1M443.0 168.3h1M447.9 159.0h1M422.7 169.8h1M447.3 156.7h1M441.2 152.1h1M434.0 147.6h1M446.4 165.6h1M443.5 168.2h1M446.7 161.9h1M434.2 166.9h1M452.5 166.3h1M453.0 156.0h1M433.3 169.3h1M436.8 163.5h1M440.3 161.3h1M439.6 156.1h1M426.2 169.8h1M443.8 143.0h1M434.0 150.9h1M435.4 137.6h1M447.1 168.3h1M439.8 168.0h1M447.3 149.1h1M452.8 144.7h1M436.9 157.9h1M453.1 161.5h1M440.9 153.6h1M442.8 161.4h1M448.4 169.1h1M448.5 160.8h1M440.7 168.8h1M443.8 160.8h1M457.8 169.9h1M447.0 159.7h1M436.4 169.1h1M438.0 169.2h1M435.1 162.3h1M445.5 162.2h1M444.1 164.4h1M432.1 151.2h1M440.7 168.6h1M440.9 152.5h1M436.2 161.6h1M452.4 155.2h1M446.9 162.5h1M438.9 152.4h1M440.7 154.4h1M446.7 144.4h1M451.9 167.5h1M447.1 169.5h1M447.3 144.9h1M442.5 165.1h1M436.0 150.8h1M445.8 165.5h1M438.3 159.0h1M437.5 156.0h1M441.5 168.0h1M427.9 158.6h1M456.2 163.2h1M443.4 168.7h1M433.2 150.3h1M427.4 148.3h1M444.2 168.7h1M438.3 154.9h1M445.5 166.5h1M444.3 143.3h1M437.2 137.8h1M444.1 153.0h1M436.2 169.3h1M453.6 164.8h1M444.4 162.5h1M436.9 160.8h1M458.8 152.0h1M436.2 162.8h1M449.8 168.3h1M433.5 160.2h1M439.7 149.7h1M442.7 156.5h1M450.1 164.6h1M435.2 162.1h1M438.9 155.3h1M437.7 169.0h1M438.4 145.4h1M435.2 168.8h1M460.8 150.3h1M438.9 158.1h1M429.7 165.4h1M441.6 163.6h1M461.6 157.5h1M448.9 168.3h1M436.4 155.8h1M455.6 166.9h1M443.3 150.8h1M449.7 165.5h1M461.2 169.1h1M449.0 163.1h1M442.5 155.9h1M444.7 163.1h1M447.7 169.3h1M444.7 155.8h1M449.1 169.9h1M434.7 165.3h1M446.8 165.7h1M446.4 159.9h1M441.1 169.9h1M457.2 147.3h1M419.8 166.2h1M436.1 156.5h1M428.1 165.0h1M441.5 156.1h1M449.9 168.2h1M454.9 168.0h1M438.4 167.3h1M441.7 168.8h1M447.1 160.4h1M446.8 154.1h1M448.9 169.7h1M438.8 166.3h1M427.4 169.6h1M449.7 151.2h1M457.2 161.2h1M426.9 149.2h1M449.6 158.1h1M451.7 146.2h1M441.1 169.4h1M436.1 167.6h1M438.9 164.3h1M444.8 169.9h1M431.2 168.8h1M453.5 150.0h1M442.7 169.3h1M451.2 133.2h1M439.9 145.4h1M444.7 154.2h1M437.1 153.5h1M444.6 156.6h1M434.1 159.3h1M445.6 152.9h1M451.7 145.2h1M445.6 157.2h1M455.8 154.3h1M436.2 148.9h1M459.4 165.8h1M432.5 158.4h1M433.6 169.4h1M445.7 142.0h1M443.8 169.3h1M442.0 165.4h1M441.0 163.0h1M443.9 154.4h1M445.0 162.4h1M441.7 154.7h1M433.1 163.7h1M449.2 138.3h1M437.3 169.3h1M450.0 154.0h1M453.8 151.3h1M435.1 168.3h1M438.2 159.2h1M427.6 152.4h1M431.7 160.3h1M425.9 168.9h1M438.9 155.6h1M436.5 168.2h1M455.4 156.5h1M456.1 168.0h1M453.7 163.1h1M429.0 167.9h1M438.4 163.0h1M425.5 159.3h1M444.0 152.2h1M444.6 169.4h1M444.0 154.6h1M462.9 140.0h1M433.9 165.2h1M436.8 140.1h1M444.3 168.6h1M435.0 169.9h1M446.4 168.5h1M428.6 161.7h1M456.0 168.5h1M453.6 160.4h1M443.6 155.1h1M451.6 154.1h1M443.1 141.9h1M428.8 168.4h1M442.5 163.0h1M422.7 161.7h1M460.2 146.2h1M421.1 160.6h1M437.3 159.3h1M431.0 149.0h1M431.2 167.5h1M441.6 168.6h1M432.5 167.0h1M438.1 162.0h1M450.2 160.9h1M438.9 145.7h1M442.6 168.2h1M436.4 160.7h1M426.4 149.4h1M445.5 169.3h1M439.3 145.6h1M438.7 146.7h1M439.6 168.4h1M444.6 159.4h1M451.1 157.0h1M444.9 162.7h1M445.9 147.1h1M448.3 168.9h1M421.9 136.8h1M434.1 169.8h1M442.2 167.3h1M446.9 169.0h1M436.4 155.8h1M445.3 166.5h1M447.1 163.9h1M437.7 168.6h1M446.2 168.6h1M419.5 168.9h1M420.4 164.1h1M436.1 162.4h1M437.8 158.3h1M443.7 164.1h1M434.9 137.7h1M435.1 166.4h1M434.5 165.4h1M438.7 152.4h1M452.4 168.8h1M441.1 160.6h1M450.5 148.1h1M434.3 169.1h1M450.0 156.0h1M435.1 164.6h1M429.5 157.0h1M439.9 138.0h1M447.3 167.9h1M451.5 147.0h1M430.6 154.0h1M430.4 169.1h1M433.3 158.5h1M443.8 165.2h1M454.9 150.1h1M449.8 162.0h1M431.6 163.0h1M429.5 169.0h1M435.5 168.8h1M453.6 154.6h1M434.0 162.7h1M432.6 168.3h1M443.6 153.7h1M435.9 168.2h1M429.0 169.3h1M435.0 159.5h1M433.7 168.9h1M449.4 169.2h1M447.8 161.5h1M457.2 166.5h1M445.9 166.2h1M448.6 163.3h1M440.5 146.0h1M460.4 147.7h1M422.7 155.3h1M459.3 169.7h1M436.6 163.8h1M441.8 142.2h1M439.0 163.9h1M452.5 149.1h1M421.8 147.2h1M445.0 161.6h1M443.3 162.3h1M438.7 148.2h1M446.1 164.4h1M447.2 168.6h1M430.9 139.4h1M426.0 170.0h1M433.8 165.2h1M441.9 167.9h1M470.9 154.6h1M440.5 155.4h1M444.2 165.8h1M433.3 168.2h1M452.3 164.7h1M441.0 158.8h1M427.2 168.0h1M433.2 156.7h1M451.0 151.8h1M437.3 169.4h1M458.7 153.6h1M451.9 154.3h1M445.5 165.4h1M431.8 169.9h1M458.2 160.6h1M444.4 149.8h1M458.1 160.7h1M430.5 168.9h1M428.8 155.2h1M422.8 169.7h1M461.9 153.9h1M436.1 155.8h1M436.9 166.5h1M455.1 150.7h1M446.0 143.7h1M455.7 159.4h1M435.7 168.5h1M441.0 169.1h1M451.7 169.4h1M434.8 161.9h1M445.3 159.0h1M455.7 153.5h1M451.0 169.0h1M424.4 152.7h1M433.9 156.2h1M445.5 159.2h1M442.7 156.6h1M441.3 165.6h1M448.7 153.2h1M441.0 153.8h1M440.4 147.5h1M450.6 166.9h1M440.9 154.6h1M437.9 154.9h1M428.1 168.1h1M471.6 147.8h1M431.5 167.0h1M447.5 145.8h1M424.7 167.1h1M424.1 168.7h1M437.5 162.0h1M442.0 155.7h1M440.7 158.2h1M453.2 159.5h1M441.7 156.0h1M436.3 154.3h1M442.1 169.3h1M452.0 162.7h1M457.0 168.1h1M443.9 159.3h1M432.1 163.9h1M439.2 146.1h1M430.4 169.5h1M443.9 165.6h1M443.8 156.5h1M446.2 169.8h1M439.2 166.0h1M451.2 155.9h1M443.5 153.9h1M447.4 157.2h1M452.3 153.2h1M457.2 157.3h1M434.4 152.8h1M448.0 152.6h1M458.2 168.5h1M446.7 147.3h1M441.8 154.1h1M425.7 165.9h1M461.8 154.9h1M449.3 168.4h1M433.4 158.2h1M444.4 165.4h1M431.7 163.6h1M441.0 168.4h1M427.6 156.4h1M437.5 158.2h1M448.5 154.7h1M466.6 153.0h1M449.6 169.2h1M450.7 158.6h1M434.5 159.0h1M448.0 161.8h1M447.2 166.2h1M434.0 152.5h1M455.0 155.7h1M427.7 168.6h1M434.5 152.5h1M450.7 149.8h1M434.2 169.6h1M434.6 169.5h1M442.9 168.1h1M443.2 161.5h1M436.2 159.2h1M437.5 161.0h1M448.9 148.6h1M433.7 141.6h1M455.5 159.6h1M441.9 160.5h1M451.0 163.6h1M449.7 159.0h1M440.9 160.5h1M425.2 168.3h1M427.8 152.3h1M448.0 161.2h1M449.3 168.1h1M458.8 168.9h1M440.0 168.6h1M434.1 160.6h1M451.0 158.5h1M440.9 157.7h1M454.3 136.9h1M453.5 169.3h1M441.3 166.4h1M433.3 169.2h1M469.5 150.8h1M454.6 159.8h1M439.0 156.5h1M440.3 149.2h1M429.8 168.1h1M441.8 166.3h1M444.8 165.4h1M428.3 152.7h1M447.7 168.5h1M431.7 156.1h1M432.4 167.7h1M445.1 161.1h1M436.2 164.6h1M442.3 153.9h1M445.0 154.5h1M450.6 166.5h1M435.8 166.9h1M442.6 154.3h1M433.8 145.7h1M431.8 164.8h1M452.9 154.5h1M443.4 164.2h1M449.0 164.8h1M453.0 167.7h1M435.1 165.1h1M420.9 160.4h1M442.2 166.5h1M439.3 169.0h1M453.9 152.4h1M437.1 163.7h1M446.4 162.1h1M449.5 149.4h1M449.0 168.1h1M452.0 164.5h1M439.9 164.9h1M441.3 146.0h1M436.6 160.9h1M437.4 152.4h1M439.9 157.6h1M442.6 160.5h1M443.5 169.7h1M443.2 164.8h1M431.0 133.6h1M438.4 167.6h1M438.9 155.2h1M430.8 169.2h1M437.3 163.6h1M452.2 165.5h1M462.2 158.7h1M450.6 167.1h1M436.1 161.8h1M436.9 151.5h1M444.7 153.5h1M457.1 153.2h1M437.1 162.1h1M437.3 161.8h1M436.5 147.8h1M420.3 149.9h1M455.7 164.5h1M443.4 156.5h1M440.7 163.9h1M429.5 154.1h1M434.0 168.2h1M432.5 168.1h1M437.8 168.4h1M441.3 161.3h1M454.2 168.7h1M450.5 150.4h1M452.2 168.2h1M441.1 156.5h1M432.2 169.5h1M444.6 160.9h1M430.9 168.6h1M449.9 160.4h1M455.3 151.3h1M449.9 151.1h1M454.7 157.7h1M453.0 156.5h1M445.6 169.8h1M433.9 162.3h1M434.5 169.5h1M436.6 157.7h1M440.2 169.1h1M432.6 161.3h1M439.0 155.9h1M434.9 159.9h1M443.8 146.2h1M444.1 149.7h1M442.1 170.0h1M433.3 160.8h1M439.7 169.1h1M437.7 144.3h1M427.5 163.4h1M444.3 169.6h1M437.2 167.6h1M432.4 169.2h1M441.4 154.6h1M443.6 168.7h1M434.4 149.6h1M432.9 150.5h1M441.5 164.4h1M440.5 162.9h1M452.7 157.7h1M430.7 139.9h1M444.2 154.4h1M439.8 165.0h1M446.2 145.9h1M433.4 162.2h1M440.7 168.6h1M437.5 141.6h1M452.5 144.9h1M433.3 165.2h1M432.5 168.2h1M444.1 166.0h1M438.1 168.1h1M446.9 153.9h1M453.3 144.4h1M436.7 164.0h1M443.2 151.8h1M456.2 169.4h1M433.6 165.0h1M436.3 157.2h1M450.9 161.7h1M441.0 162.0h1M431.4 169.3h1M435.2 169.2h1M437.9 156.9h1M455.4 162.1h1M436.2 156.2h1M447.4 169.5h1M447.5 157.0h1M431.9 155.2h1M440.9 163.4h1M436.1 168.3h1M433.4 154.7h1M446.5 165.3h1M438.5 168.4h1M429.3 168.7h1M461.7 168.7h1M443.1 169.4h1M442.5 169.4h1M440.2 162.9h1M446.7 144.2h1M440.1 168.5h1M415.7 166.0h1M450.3 163.7h1M443.8 169.8h1M445.0 142.9h1M433.5 158.6h1M443.3 156.7h1M441.1 168.0h1M415.6 169.7h1M450.4 166.3h1M442.1 161.6h1M445.3 163.1h1M435.5 168.8h1M434.6 161.0h1M438.8 150.3h1M447.4 160.1h1M431.5 160.8h1M429.6 169.6h1M446.6 168.5h1M436.9 168.0h1M433.3 153.4h1M441.2 164.9h1M450.3 158.0h1M451.9 168.2h1M434.1 159.7h1M433.8 169.7h1M437.1 168.1h1M450.2 158.2h1M437.6 164.5h1M435.0 149.4h1M433.3 164.7h1M443.7 169.0h1M425.6 166.6h1M431.7 169.8h1M448.2 161.9h1M455.2 156.8h1M437.3 151.3h1M436.1 162.4h1M448.0 168.9h1M439.6 154.2h1M439.0 157.1h1M437.8 157.4h1M434.2 160.9h1M437.4 159.6h1M429.6 163.0h1M447.1 166.8h1M437.1 150.5h1M430.4 150.6h1M436.3 158.4h1M426.1 168.1h1M428.2 155.3h1M435.6 169.1h1M458.4 156.8h1M439.6 157.4h1M440.2 159.5h1M464.0 149.6h1M441.0 153.6h1M445.2 155.9h1M447.1 150.6h1M460.8 162.0h1M426.2 168.4h1M437.8 150.4h1M445.9 155.9h1M448.6 155.5h1M450.0 162.0h1M445.2 162.3h1M438.8 157.8h1M446.0 167.4h1M438.4 169.5h1M457.1 149.5h1M451.7 159.8h1M444.1 153.5h1M456.7 152.5h1M441.3 154.3h1M459.2 168.7h1M430.3 157.4h1M445.2 156.8h1M438.9 151.1h1M444.2 150.7h1M449.4 168.7h1M439.1 168.3h1M445.3 154.6h1M438.9 152.2h1M443.0 167.5h1M450.3 158.0h1M431.4 160.9h1M456.9 162.9h1M441.4 141.7h1M438.2 166.3h1M433.6 168.2h1M437.0 153.2h1M436.9 160.4h1M450.9 155.3h1M426.2 161.1h1M446.6 168.3h1M432.0 168.7h1M448.0 164.9h1M435.2 153.2h1M433.5 168.5h1M443.9 168.3h1M458.1 160.4h1M441.6 168.3h1M430.4 157.5h1M438.7 157.7h1M443.3 153.2h1M452.3 147.8h1M434.8 145.7h1M429.6 167.2h1M447.6 158.9h1M449.5 166.4h1M436.9 160.9h1M445.3 169.0h1M438.1 164.7h1M446.8 168.1h1M445.8 168.1h1M432.6 159.1h1M424.9 161.5h1M462.6 162.2h1M442.8 163.5h1M443.3 148.7h1M435.9 159.8h1M443.5 153.0h1M441.1 154.3h1M430.3 155.6h1M434.9 169.2h1M453.9 165.8h1M440.1 156.0h1M428.1 156.9h1M455.8 169.6h1M444.0 158.7h1M442.0 165.0h1M441.9 165.0h1M435.2 161.8h1M438.9 169.6h1M431.0 168.8h1M441.2 156.4h1M442.2 162.2h1M439.9 165.1h1M436.9 145.7h1M448.2 160.5h1M456.7 163.9h1M424.3 168.9h1M435.9 166.5h1M461.6 169.2h1M432.3 160.7h1M427.8 168.0h1M447.0 151.3h1M446.0 169.0h1M449.1 154.5h1M435.9 151.0h1M430.6 164.6h1M442.4 169.6h1M444.4 158.0h1M429.4 169.2h1M443.5 160.7h1M433.1 151.9h1M447.6 151.8h1M447.2 166.6h1M438.6 146.3h1M445.6 168.8h1M434.7 149.8h1M451.6 161.9h1M436.5 168.5h1M439.6 165.4h1M438.4 154.3h1M443.9 153.1h1M426.3 156.9h1M452.9 168.6h1M461.2 169.2h1M456.3 162.6h1M438.2 165.6h1M433.6 168.3h1M438.0 163.7h1M434.5 160.3h1M450.7 158.6h1M436.1 164.0h1M449.8 159.0h1M431.7 147.3h1M430.2 169.8h1M441.2 165.5h1M451.5 163.2h1M446.3 156.2h1M427.8 167.6h1M441.2 166.4h1M432.6 160.3h1M459.8 152.4h1M442.9 169.6h1M440.0 162.4h1M423.2 169.2h1M438.1 169.0h1M441.2 157.7h1M445.8 158.7h1M437.5 168.5h1M450.7 161.7h1M449.1 168.3h1M447.1 161.3h1M442.6 164.8h1M447.0 164.1h1M437.1 160.7h1M446.0 151.9h1M441.9 168.0h1M443.5 158.4h1M441.8 156.7h1M450.7 157.2h1M427.3 150.9h1M444.6 162.9h1M437.8 149.4h1M440.7 153.5h1M436.2 161.4h1M435.2 164.3h1M435.5 157.2h1M440.0 169.4h1M455.9 169.0h1M435.5 161.5h1M450.1 168.1h1M427.7 161.4h1M435.5 168.3h1M447.6 156.0h1M460.9 157.6h1M463.5 158.5h1M441.3 168.5h1M437.4 157.1h1M455.0 160.1h1M446.2 149.5h1M457.8 169.2h1M445.1 167.4h1M437.6 157.1h1M428.2 165.2h1M452.9 168.3h1M450.1 167.2h1M433.9 149.8h1M447.6 162.4h1M450.7 158.2h1M434.2 165.6h1M437.1 146.6h1M436.6 153.5h1M432.2 156.7h1M450.4 169.5h1M457.2 156.6h1M452.1 160.0h1M445.5 154.8h1M441.3 146.0h1M457.8 153.4h1M447.2 155.6h1M444.4 150.4h1M438.7 169.4h1M447.2 143.3h1M449.5 148.9h1M444.5 165.7h1M436.3 158.6h1M439.8 164.9h1M450.1 168.3h1M444.9 169.6h1M433.7 168.3h1M439.7 168.2h1M440.9 162.0h1M433.9 165.1h1M459.8 161.6h1M441.8 161.2h1M448.3 159.0h1M442.0 163.1h1M453.5 169.1h1M432.7 156.0h1M442.2 168.8h1M450.5 158.8h1M460.7 158.7h1M454.4 168.9h1M456.1 162.2h1M447.1 147.1h1M426.3 156.5h1M448.3 169.9h1M441.1 169.1h1M447.1 168.9h1M428.0 154.4h1M433.6 152.2h1M456.5 152.1h1M434.7 158.0h1M449.8 156.6h1M448.5 165.8h1M436.4 140.2h1M433.9 150.3h1M456.4 153.9h1M432.6 165.0h1M442.5 152.7h1M451.7 168.9h1M444.5 154.2h1M434.3 143.1h1M445.4 164.5h1M433.9 161.8h1M470.9 149.4h1M426.9 167.4h1M438.2 156.9h1M447.5 159.7h1M450.8 165.3h1M452.2 161.7h1M423.0 169.8h1M427.0 169.3h1M444.2 148.5h1M442.6 169.0h1M433.0 162.0h1M435.5 152.4h1M436.6 169.0h1M448.1 160.5h1M441.3 162.3h1M444.5 162.6h1M426.8 169.1h1M434.4 138.0h1M448.2 149.9h1M440.7 160.3h1M436.8 166.2h1M439.6 158.7h1M433.6 159.0h1M432.8 162.0h1M453.7 168.2h1M445.8 148.6h1M451.1 169.1h1M460.2 139.8h1M442.1 158.1h1M451.6 150.8h1M438.6 169.2h1M455.3 125.9h1M445.2 155.6h1M438.6 150.0h1M446.0 131.6h1M438.5 154.5h1M457.2 137.4h1M456.6 136.6h1M447.6 143.6h1M432.1 148.5h1M441.0 121.3h1M436.4 138.0h1M436.4 136.9h1M437.9 124.2h1M454.2 143.5h1M447.6 141.5h1M445.7 141.8h1M433.7 132.6h1M445.8 152.6h1M447.4 157.4h1M430.9 143.6h1M438.6 155.3h1M462.5 137.4h1M452.6 141.0h1M434.7 144.4h1M434.2 158.6h1M451.1 153.4h1M448.7 122.9h1M453.3 143.8h1M420.4 148.1h1M455.4 157.2h1M434.4 152.1h1M448.4 142.1h1M442.1 148.9h1M451.0 148.9h1M440.8 133.4h1M458.6 153.3h1M439.2 144.5h1M453.3 128.0h1M450.2 164.0h1M447.8 137.7h1M466.1 141.4h1M447.2 140.1h1M446.9 128.5h1M431.8 133.2h1M454.3 142.0h1M456.9 125.1h1M438.8 157.2h1M436.8 129.2h1M437.3 142.1h1M444.9 155.1h1M458.7 155.5h1M451.0 139.0h1M439.9 132.1h1M458.1 153.0h1M445.9 136.3h1M452.0 147.3h1M446.6 133.9h1M447.5 138.9h1M452.6 148.1h1M449.5 139.8h1M460.7 148.6h1M458.1 149.5h1M451.8 146.5h1M434.0 129.9h1M435.3 150.5h1M454.4 144.4h1M445.9 159.6h1M440.9 129.3h1M429.0 143.3h1M452.2 149.4h1M442.7 151.3h1M444.5 137.9h1M441.1 151.0h1M454.8 133.2h1M434.8 146.4h1M466.9 131.2h1M432.1 149.2h1M450.2 138.1h1M444.7 148.2h1M427.0 146.1h1M451.2 151.1h1M457.0 141.9h1M430.2 157.4h1M452.9 137.6h1M455.7 151.5h1M443.6 124.1h1M440.2 138.2h1M436.4 144.4h1M433.9 148.8h1M464.4 131.4h1M455.7 138.1h1M450.6 142.2h1M458.2 136.2h1M452.5 136.4h1M447.4 143.6h1M456.2 129.1h1M431.1 157.7h1M449.0 158.0h1M434.4 147.2h1M451.2 158.3h1M444.5 140.3h1M452.4 142.2h1M437.3 151.5h1M425.4 137.9h1M459.0 137.9h1M441.7 147.6h1M456.5 147.0h1M435.1 140.4h1M455.8 141.6h1M438.5 152.3h1M456.7 161.1h1M434.0 139.4h1M437.9 147.9h1M440.1 154.1h1M417.4 155.8h1M438.4 142.5h1M450.8 145.0h1M434.6 158.1h1M450.9 139.0h1M447.1 134.3h1M432.4 143.1h1M448.7 144.4h1M437.1 133.2h1M427.8 159.8h1M448.8 136.7h1M457.2 147.0h1M440.8 139.3h1M456.7 145.3h1M461.8 144.9h1M439.0 139.7h1M437.8 147.1h1M447.6 148.8h1M449.6 134.4h1M442.9 136.2h1M449.9 132.1h1M439.1 137.4h1M438.7 142.6h1M460.5 139.8h1M430.3 143.3h1M452.7 147.7h1M447.5 160.7h1M456.4 143.3h1M457.4 131.0h1M443.3 136.8h1M446.8 157.6h1M439.9 158.2h1M434.6 157.5h1M427.7 139.0h1M455.2 141.9h1M446.5 143.7h1M446.9 142.2h1M435.0 142.8h1M446.1 136.2h1M449.8 158.4h1M428.2 141.5h1M442.1 144.5h1M446.0 137.7h1M444.7 144.1h1M444.1 157.3h1M446.3 131.2h1M429.0 151.1h1M441.5 139.2h1M431.2 143.1h1M444.1 138.3h1M441.4 152.0h1M453.0 147.6h1M443.2 132.6h1M452.9 155.8h1M458.0 152.3h1M447.8 146.8h1M444.9 154.7h1M442.3 162.7h1M452.9 140.2h1M445.0 130.3h1M437.5 142.4h1M470.0 133.8h1M454.4 143.5h1M442.0 149.7h1M424.7 154.7h1M464.7 144.0h1M444.4 145.5h1M451.8 138.9h1M446.2 148.1h1M441.4 147.8h1M448.4 149.7h1M434.9 140.7h1M440.7 154.8h1M447.5 129.6h1M432.0 162.2h1M448.5 132.5h1M435.7 146.4h1M459.5 156.0h1M441.3 141.9h1M464.6 133.1h1M460.9 144.8h1M446.0 154.9h1M449.9 136.2h1M429.5 146.1h1M450.2 155.0h1M418.4 158.9h1M451.3 156.1h1M453.1 144.8h1M449.4 146.8h1M438.6 143.9h1M446.3 140.0h1M430.1 133.6h1M450.1 147.8h1M446.1 133.9h1M453.7 139.5h1M423.8 160.1h1M429.8 165.2h1M450.4 139.5h1M421.0 141.1h1M460.1 153.7h1M447.6 129.0h1M441.1 142.1h1M449.7 142.3h1M448.5 129.6h1M438.4 157.2h1M430.2 153.8h1M468.5 146.5h1M430.8 156.5h1M426.1 149.3h1M440.8 155.1h1M457.0 144.1h1M463.3 150.1h1M440.1 136.2h1M470.1 137.3h1M449.2 142.5h1M440.2 130.9h1M443.5 143.2h1M455.0 138.3h1M429.1 136.9h1M444.6 146.2h1M452.4 139.8h1M450.5 144.5h1M462.2 141.3h1M446.5 148.7h1M457.4 134.5h1M440.2 142.3h1M423.3 158.0h1M455.9 142.8h1M479.3 150.5h1M465.6 154.8h1M454.2 130.7h1M460.6 145.6h1M432.8 146.0h1M452.7 151.4h1M446.8 139.3h1M452.8 136.5h1M444.2 150.6h1M430.3 149.1h1M425.0 138.6h1M432.4 144.8h1M452.3 142.6h1M454.3 143.6h1M442.9 148.5h1M442.6 145.5h1M455.6 137.7h1M456.8 133.0h1M442.8 129.4h1M439.6 158.3h1M448.6 154.4h1M430.0 137.3h1M449.8 150.5h1M453.5 128.5h1M450.2 142.7h1M446.2 147.9h1M442.1 129.8h1M434.1 133.0h1M431.6 144.6h1M458.3 136.2h1M437.2 135.1h1M427.4 146.8h1M440.0 142.6h1M435.2 149.4h1M432.7 150.3h1M438.2 151.6h1M435.9 149.0h1M449.5 142.7h1M461.7 143.4h1M435.9 151.1h1M436.6 140.4h1M445.1 145.5h1M462.4 126.8h1M442.4 154.0h1M443.4 147.0h1M460.6 131.4h1M445.5 150.8h1M439.0 129.7h1M434.8 147.0h1M446.9 159.6h1M458.6 129.0h1M455.6 150.5h1M461.6 140.6h1M439.3 146.0h1M460.8 147.3h1M462.4 148.5h1M439.0 136.1h1M463.9 128.5h1M441.4 141.7h1M435.7 140.3h1M445.1 164.4h1M444.3 139.6h1M446.3 151.9h1M436.7 141.6h1M427.1 152.3h1M452.0 156.0h1M432.7 164.3h1M453.9 140.5h1M441.0 141.8h1M432.6 152.2h1M438.8 138.6h1M450.3 144.3h1M439.0 142.7h1M440.0 156.2h1M455.3 136.4h1M444.6 155.9h1M442.1 159.7h1M449.6 149.2h1M423.7 154.0h1M448.5 148.6h1M449.9 147.9h1M439.8 152.4h1M445.6 134.9h1M434.6 146.7h1M448.4 124.6h1M423.9 155.8h1M444.9 168.6h1M429.3 143.9h1M438.9 149.6h1M459.4 156.0h1M434.7 156.0h1M432.5 148.3h1M446.8 149.1h1M436.8 156.6h1M444.3 143.9h1M442.3 135.2h1M452.4 145.9h1M449.7 159.5h1M436.1 142.7h1M445.1 151.4h1M443.2 152.3h1M449.7 128.2h1M438.0 127.4h1M442.1 140.8h1M451.0 144.7h1M444.3 155.0h1M451.1 132.6h1M437.9 147.7h1M462.5 140.0h1M443.3 146.5h1M453.0 142.2h1M448.0 140.0h1M439.4 137.9h1M451.8 138.3h1M450.6 146.8h1M455.0 119.5h1M435.1 134.7h1M443.3 151.2h1M471.0 154.0h1M458.9 145.5h1M441.0 149.1h1M422.7 154.9h1M445.1 149.3h1M434.4 135.9h1M438.4 144.5h1M448.6 140.5h1M448.6 149.4h1M433.1 144.7h1M429.0 141.3h1M454.3 136.6h1M464.1 145.9h1M454.1 143.7h1M453.9 152.3h1M446.1 139.3h1M439.4 161.4h1M443.1 140.3h1M437.7 130.4h1M439.9 147.5h1M440.0 138.1h1M449.2 147.4h1M440.5 147.2h1M435.0 152.7h1M434.9 142.4h1M446.4 140.2h1M433.3 163.7h1M460.6 126.9h1M446.2 132.9h1M448.2 132.3h1M451.0 147.8h1M462.5 152.2h1M440.3 152.8h1M440.3 143.6h1M439.9 129.4h1M451.2 125.6h1M442.6 148.9h1M446.2 130.2h1M438.3 150.8h1M456.3 156.4h1M426.4 150.4h1M440.1 151.3h1M427.7 145.0h1M452.3 137.5h1M441.3 136.0h1M456.4 131.0h1M435.6 142.3h1M441.8 162.7h1M447.8 136.4h1M451.0 146.2h1M447.9 143.1h1M449.7 133.2h1M432.7 141.9h1M433.7 151.5h1M464.9 152.2h1M449.6 146.3h1M438.0 133.6h1M450.6 130.5h1M448.1 142.4h1M452.7 143.4h1M446.1 138.8h1M427.3 143.3h1M452.1 152.1h1M459.1 133.6h1M435.4 151.3h1M440.3 166.9h1M448.2 130.4h1M439.3 158.3h1M426.3 147.7h1M430.8 159.7h1M440.4 135.7h1M427.5 140.1h1M418.8 143.3h1M467.4 142.0h1M442.3 134.3h1M448.5 139.5h1M436.3 157.1h1M449.5 135.7h1M460.2 141.6h1M450.2 144.6h1M457.1 147.8h1M441.4 150.7h1M441.0 145.7h1M461.8 132.6h1M434.4 141.9h1M439.9 155.9h1M428.7 166.0h1M461.3 138.0h1M446.9 140.6h1M451.9 148.9h1M452.7 149.6h1M464.8 140.0h1M452.2 141.5h1M445.4 145.9h1M444.5 147.1h1M436.3 143.8h1M438.8 134.7h1M437.7 140.6h1M443.5 130.7h1M442.4 134.5h1M436.6 146.7h1M456.4 145.0h1M440.0 140.8h1M458.8 128.1h1M456.7 129.5h1M438.5 145.2h1M442.7 158.7h1M450.1 142.9h1M454.8 143.1h1M436.7 154.8h1M460.4 153.1h1M432.9 162.1h1M440.7 151.2h1M457.3 163.1h1M428.4 137.3h1M457.1 146.7h1M441.8 119.0h1M449.5 141.8h1M418.2 168.2h1M419.3 142.5h1M444.9 146.0h1M452.8 140.7h1M435.8 142.1h1M423.4 137.1h1M465.3 135.4h1M444.2 160.6h1M455.8 143.7h1M452.6 140.7h1M435.7 153.9h1M446.4 157.7h1M442.3 141.1h1M448.5 141.9h1M441.8 136.6h1M447.6 146.5h1M463.8 141.4h1M426.9 150.4h1M468.6 137.1h1M436.8 143.6h1M415.6 144.9h1M443.1 131.1h1M450.9 135.6h1M426.0 140.2h1M451.5 159.9h1M457.9 144.0h1M439.7 142.4h1M455.0 138.2h1M449.3 151.9h1M435.7 140.1h1M449.6 143.5h1M443.7 139.6h1M444.3 160.2h1M459.0 128.2h1M445.5 144.7h1M445.4 131.9h1M443.7 145.5h1M438.0 147.6h1M419.9 134.1h1M446.0 147.3h1M443.3 140.2h1M446.9 153.2h1M454.3 142.1h1M440.2 153.9h1M450.6 151.0h1M442.1 136.9h1M446.9 138.3h1M456.8 149.9h1M422.5 152.7h1M458.7 151.3h1M440.1 137.1h1M455.0 151.5h1M445.6 133.9h1M429.3 148.4h1M436.5 139.2h1M449.6 152.6h1M423.7 140.9h1M458.4 141.9h1M441.5 150.0h1M433.3 134.9h1M445.2 157.6h1M455.5 142.6h1M455.4 139.1h1M432.8 131.0h1M447.8 151.5h1M448.8 143.2h1M440.9 154.0h1M444.5 131.5h1M459.1 136.5h1M449.0 143.5h1M455.9 144.8h1M457.6 144.2h1M440.3 140.2h1M451.7 135.9h1M454.6 140.7h1M435.4 137.6h1M443.5 159.6h1M453.0 143.1h1M435.7 161.8h1M442.1 144.4h1M440.6 156.2h1M446.8 139.8h1M446.9 135.0h1M434.1 144.0h1M415.3 158.1h1M465.5 131.7h1M443.5 130.4h1M446.8 145.6h1M452.6 131.4h1M438.8 139.2h1M442.5 164.3h1M442.9 143.9h1M439.8 151.6h1M471.4 150.7h1M460.8 132.6h1M455.9 142.8h1M457.9 151.6h1M451.8 128.5h1M446.4 139.5h1M449.6 143.7h1M455.8 128.6h1M437.4 144.3h1M448.3 140.0h1M444.7 144.5h1M455.8 141.6h1M447.5 127.8h1M418.0 134.7h1M448.7 123.4h1M449.2 142.6h1M445.0 137.6h1M440.7 151.8h1M448.7 143.3h1M440.0 146.5h1M457.3 142.3h1M441.2 134.2h1M446.0 135.9h1M430.2 153.5h1M438.6 127.0h1M437.6 161.0h1M443.9 132.6h1M433.6 151.7h1M449.2 145.3h1M443.0 148.5h1M460.9 146.2h1M443.3 132.0h1M449.6 157.1h1M451.7 132.2h1M446.9 155.1h1M438.4 149.2h1M457.5 156.7h1M428.6 130.8h1M448.9 149.7h1M441.3 144.3h1M440.8 155.0h1M422.1 149.2h1M431.8 139.8h1M429.2 138.1h1M444.8 144.3h1M463.5 139.7h1M448.6 146.6h1M447.7 156.5h1M446.4 145.1h1M443.8 144.2h1M444.4 152.8h1M445.2 144.6h1M444.5 150.7h1M440.1 152.9h1M439.1 150.8h1M464.9 143.5h1M444.1 133.8h1M452.7 143.1h1M454.4 137.0h1M450.4 159.1h1M449.2 140.6h1M431.5 145.7h1M451.8 148.4h1M433.4 136.5h1M434.9 136.4h1M442.1 146.7h1M464.9 143.2h1M460.1 127.6h1M461.0 149.0h1M449.6 150.6h1M451.4 160.0h1M453.3 127.7h1M426.9 160.5h1M444.1 155.7h1M441.5 138.7h1M441.4 147.2h1M446.9 138.3h1M450.6 148.7h1M435.5 135.4h1M424.7 143.9h1M445.1 137.9h1M438.8 143.6h1M445.3 149.0h1M453.6 146.7h1M456.6 134.0h1M451.3 146.5h1M434.2 139.4h1M449.6 144.1h1M432.0 140.8h1M460.8 149.4h1M445.8 155.7h1M435.6 143.7h1M454.9 139.8h1M433.4 150.6h1M461.6 119.6h1M446.6 132.8h1M441.9 132.0h1M472.0 134.6h1M445.5 137.7h1M434.7 141.3h1M447.2 159.1h1M448.0 157.4h1M433.9 146.1h1M440.5 130.8h1M483.7 136.9h1M447.5 137.0h1M439.0 135.7h1M455.6 139.1h1M443.5 145.8h1M432.3 147.7h1M443.2 148.1h1M441.0 144.9h1M450.4 151.8h1M437.8 153.5h1M434.8 143.7h1M446.4 145.1h1M419.1 138.7h1M443.1 152.4h1M437.7 158.2h1M426.3 147.1h1M450.6 143.4h1M447.7 151.9h1M436.6 150.3h1M456.0 140.5h1M421.0 136.6h1M436.1 135.8h1M449.5 136.3h1M470.7 145.7h1M431.5 143.2h1M460.9 147.9h1M434.4 154.5h1M440.1 164.1h1M439.3 150.0h1M450.9 139.3h1M443.4 154.4h1M450.2 142.8h1M449.6 158.8h1M454.7 146.9h1M448.4 129.8h1M446.4 139.5h1M452.6 137.7h1M449.7 134.2h1M454.3 136.4h1M444.7 149.1h1M441.6 144.5h1M456.0 158.1h1M426.3 138.5h1M452.0 151.4h1M440.1 145.5h1M443.0 164.3h1M442.9 133.8h1M428.9 134.8h1M458.5 138.8h1M465.2 147.0h1M449.0 149.2h1M453.2 151.0h1M434.9 140.4h1M439.3 145.6h1M442.4 133.5h1M437.8 160.6h1M467.0 133.6h1M449.0 143.2h1M436.2 151.4h1M444.3 158.8h1M449.7 140.7h1M417.5 146.6h1M453.8 136.6h1M454.2 148.8h1M426.7 144.6h1M448.3 150.2h1M446.6 143.7h1M441.4 141.9h1M445.0 134.7h1M451.7 140.3h1M450.4 138.9h1M449.3 144.6h1M454.2 146.9h1M454.7 141.3h1M444.4 141.8h1M432.0 144.6h1M456.3 149.3h1M436.2 147.8h1M452.8 131.1h1M448.6 146.4h1M452.8 145.3h1M426.9 128.6h1M465.6 137.9h1M458.2 153.4h1M445.9 133.8h1M459.2 141.8h1M450.4 147.5h1M454.9 151.6h1M430.3 133.5h1M446.5 143.9h1M453.1 141.8h1M443.1 162.0h1M459.3 152.3h1M455.8 135.7h1M444.1 143.5h1M433.6 137.8h1M446.7 133.1h1M450.6 147.4h1M442.6 141.3h1M451.2 147.4h1M448.8 132.8h1M428.2 164.1h1M438.2 141.7h1M426.1 139.4h1M437.4 152.0h1M417.6 135.2h1M440.7 140.2h1M437.0 141.2h1M428.6 148.4h1M457.4 143.7h1M439.4 155.8h1M450.1 134.3h1M439.1 139.4h1M444.5 154.7h1M437.7 143.7h1M446.2 133.4h1M440.1 150.0h1M456.7 126.1h1M452.3 140.5h1M458.4 147.7h1M465.4 144.1h1M440.9 137.2h1M430.2 150.8h1M450.4 150.5h1M448.6 130.4h1M440.8 142.4h1M446.7 150.5h1M459.7 144.6h1M423.6 137.8h1M422.9 140.2h1M432.6 147.7h1M442.7 154.0h1M456.2 138.6h1M454.8 142.9h1M449.7 155.2h1M433.1 144.9h1M461.0 135.3h1M447.2 144.9h1M440.7 133.1h1M437.9 136.3h1M456.2 144.7h1M452.3 132.7h1M450.2 144.6h1M455.9 136.3h1M453.4 154.9h1M463.7 133.5h1M433.4 132.7h1M455.0 147.9h1M448.5 136.0h1M458.0 156.3h1M444.6 143.0h1M457.3 146.8h1M459.0 138.7h1M448.5 140.6h1M439.1 142.2h1M442.1 148.8h1M441.9 145.0h1M436.6 134.4h1M459.8 133.5h1M463.8 149.8h1M421.3 141.5h1M440.7 144.7h1M443.2 139.0h1M458.0 141.2h1M455.0 136.7h1M437.9 156.5h1M442.1 134.8h1M443.2 153.4h1M443.3 138.0h1M451.6 151.7h1M442.9 141.5h1M441.2 168.0h1M443.1 159.5h1M443.5 147.7h1M423.9 148.3h1M445.6 141.2h1M440.8 132.7h1M429.6 147.4h1M438.4 144.1h1M443.1 139.8h1M437.5 161.1h1M433.6 141.0h1M442.0 134.4h1M435.1 152.8h1M454.7 143.9h1M478.6 146.9h1M457.8 135.3h1M456.3 157.2h1M441.1 160.2h1M436.7 135.2h1M444.6 137.0h1M451.6 133.5h1M445.9 126.9h1M444.7 153.2h1M442.3 147.1h1M456.3 133.0h1M431.8 146.4h1M447.9 141.3h1M435.0 155.8h1M433.0 143.3h1M444.6 150.4h1M440.4 137.5h1M465.9 134.0h1M453.3 141.6h1M440.1 144.3h1M442.4 147.0h1M418.7 147.2h1M445.8 135.5h1M441.0 164.8h1M464.2 147.1h1M447.4 141.0h1M459.4 138.3h1M436.5 151.1h1M435.0 138.4h1M460.0 128.1h1M444.4 145.1h1M447.7 131.0h1M442.7 141.4h1M465.0 150.2h1M437.2 152.6h1M451.8 142.1h1M442.5 141.9h1M429.1 140.6h1M454.7 155.3h1M464.3 138.3h1M451.4 122.3h1M442.3 133.4h1M453.6 128.5h1M434.2 135.8h1M449.2 150.7h1M435.5 160.9h1M446.7 136.5h1M448.7 143.4h1M453.7 145.9h1M467.7 151.2h1M438.4 151.7h1M452.9 134.3h1M437.3 138.0h1M419.5 152.8h1M442.8 155.0h1M439.3 145.4h1M452.6 151.4h1M448.4 134.5h1M467.9 148.6h1M459.2 156.2h1M459.6 145.7h1M450.0 148.9h1M429.5 153.1h1M435.0 149.0h1M434.6 151.6h1M440.0 166.2h1M447.0 148.2h1M435.7 142.7h1M444.5 141.6h1M440.6 137.0h1M453.0 139.7h1M436.6 148.3h1M436.7 143.6h1M439.8 136.7h1M442.7 137.2h1M432.1 148.7h1M442.0 131.7h1M441.0 146.1h1M449.5 146.7h1M447.7 148.8h1M440.0 137.7h1M451.4 139.6h1M445.2 149.6h1M454.8 153.4h1M438.0 141.7h1M450.8 130.8h1M432.1 150.9h1M438.7 136.8h1M453.4 147.5h1M454.6 139.9h1M442.1 141.4h1M448.2 126.0h1M437.9 151.1h1M437.0 144.5h1M446.4 148.3h1M440.2 134.8h1M470.9 134.5h1M462.8 126.5h1M446.2 142.2h1M464.7 159.1h1M455.2 133.9h1M436.8 138.6h1M439.8 146.9h1M437.0 142.9h1M460.3 154.5h1M425.9 138.2h1M441.2 155.7h1M441.7 161.0h1M448.9 155.9h1M436.2 142.5h1M455.6 147.6h1M425.8 144.1h1M447.0 149.2h1M438.5 159.9h1M446.7 156.3h1M449.3 144.2h1M441.8 134.3h1M454.0 149.4h1M454.7 139.5h1M434.7 142.1h1M441.9 144.3h1M455.2 134.8h1M440.1 150.6h1M454.4 161.9h1M450.5 136.0h1M434.4 138.6h1M445.8 146.1h1M444.4 138.8h1M443.2 143.6h1M451.2 143.9h1M436.8 135.0h1M460.4 141.3h1M443.3 144.0h1M456.7 139.8h1M446.9 141.7h1M451.1 134.5h1M447.2 152.6h1M457.3 147.8h1M448.2 157.2h1M452.4 155.1h1M432.8 136.1h1M453.4 140.6h1M440.7 136.4h1M460.4 131.7h1M446.2 131.8h1M443.3 163.6h1M470.2 136.5h1M434.7 159.4h1M436.3 129.8h1M448.7 134.2h1M430.2 155.6h1M437.6 135.8h1M446.9 142.1h1M456.7 143.3h1M461.5 151.7h1M463.5 151.3h1M445.9 148.6h1M445.4 130.6h1M433.0 151.9h1M420.8 140.0h1M431.9 145.2h1M434.5 147.5h1M443.1 140.2h1M436.4 126.0h1M445.9 132.8h1M442.1 147.6h1M455.9 148.7h1M460.4 129.8h1M452.1 156.6h1M449.2 133.9h1M449.2 139.0h1M438.5 154.0h1M443.3 134.6h1M438.2 161.8h1M436.5 150.9h1M447.0 153.8h1M442.3 136.2h1M438.6 136.0h1M471.8 142.2h1M441.9 155.3h1M451.9 141.6h1M451.6 145.5h1M456.7 156.7h1M441.9 144.1h1M443.3 154.8h1M449.1 150.2h1M454.4 137.3h1M446.5 155.7h1M454.7 149.8h1M442.3 141.3h1M436.4 142.8h1M444.5 131.8h1M457.1 135.9h1M447.7 148.8h1M439.5 129.2h1M455.1 146.2h1M442.6 154.1h1M454.4 134.6h1M444.3 129.0h1M442.5 156.5h1M436.6 152.2h1M429.7 143.5h1M454.8 157.5h1M449.8 149.9h1M462.8 120.7h1M427.7 162.5h1M470.5 145.9h1M445.8 146.2h1M445.5 138.7h1M445.0 142.9h1M452.0 149.0h1M455.2 147.8h1M435.2 157.3h1M417.8 148.5h1M448.6 139.0h1M464.3 132.1h1M433.2 141.2h1M449.5 150.3h1M446.3 149.6h1M438.0 139.7h1M446.5 132.3h1M447.1 140.4h1M452.2 134.4h1M439.8 139.8h1M441.4 135.9h1M442.5 132.7h1M450.7 149.1h1M445.0 142.4h1M436.1 136.9h1M442.9 136.5h1M433.2 147.0h1M445.0 140.5h1M436.9 144.6h1M438.1 141.2h1M447.1 149.9h1M452.9 137.8h1M457.5 132.5h1M443.4 155.4h1M469.4 142.0h1M441.5 141.3h1M432.8 144.3h1M440.9 138.1h1M457.4 135.7h1M462.4 149.0h1M451.7 138.1h1M440.0 127.5h1M448.0 141.3h1M449.1 137.7h1M450.1 130.5h1M422.9 150.9h1M456.1 115.5h1M458.2 139.3h1M443.5 131.0h1M435.0 151.4h1M437.7 144.6h1M443.6 161.3h1M454.2 131.5h1M440.3 134.8h1M431.1 139.9h1M456.4 143.0h1M452.0 142.0h1M440.9 145.3h1M444.4 160.7h1M463.4 144.9h1M451.3 126.1h1M443.9 164.7h1M437.0 152.0h1M457.5 139.0h1M442.9 140.4h1M453.2 143.2h1M460.4 152.2h1M445.0 166.4h1M442.0 139.2h1M442.8 136.7h1M440.9 143.9h1M454.2 129.2h1M430.9 139.2h1M442.1 148.3h1M437.2 158.0h1M439.8 142.8h1M445.7 154.0h1M448.2 143.8h1M439.6 146.2h1M449.2 140.5h1M444.9 128.2h1M439.8 154.9h1M459.5 141.5h1M423.2 162.6h1M443.4 166.4h1M441.0 153.2h1M438.9 156.6h1M456.9 133.3h1M458.2 167.0h1M442.9 133.9h1M447.9 140.2h1M430.0 136.9h1M447.6 130.5h1M456.1 146.5h1M443.3 156.3h1M435.8 151.1h1M431.4 143.0h1M451.6 138.5h1M444.0 149.7h1M460.5 153.2h1M449.8 141.2h1M430.5 160.7h1M464.1 123.0h1M453.9 142.5h1M452.3 145.8h1M443.2 144.2h1M444.7 154.1h1M442.5 139.6h1M451.7 148.7h1M449.5 145.9h1M460.0 151.7h1M447.3 141.9h1M451.8 127.0h1M439.8 138.6h1M446.8 140.4h1M470.0 147.2h1M449.2 162.9h1M445.1 141.2h1M457.6 149.6h1M454.5 153.2h1M441.4 138.8h1M437.8 145.8h1M455.2 133.6h1M439.7 133.1h1M465.3 148.3h1M447.3 133.2h1M434.7 139.7h1M445.4 133.0h1M442.8 154.8h1M445.2 144.8h1M424.0 144.4h1M443.6 138.2h1M431.1 145.2h1M434.8 140.6h1M429.0 145.3h1M454.3 135.5h1M448.4 130.4h1M450.9 147.9h1M441.2 152.2h1M436.2 145.5h1M462.1 141.6h1M433.8 155.4h1M450.5 140.9h1M426.8 130.0h1M429.8 158.8h1M448.1 136.2h1M456.7 155.2h1M436.6 149.3h1M428.5 149.4h1M463.4 129.4h1M445.7 138.4h1M444.2 144.9h1M447.9 151.4h1M450.3 152.4h1M455.3 152.2h1M438.3 148.4h1M441.3 137.2h1M464.8 144.0h1M445.6 125.7h1M442.8 151.0h1M443.0 139.5h1M459.9 139.4h1M441.7 143.6h1M442.7 153.4h1M450.8 142.6h1M441.5 142.5h1M462.1 139.1h1M451.7 129.5h1M448.3 149.5h1M457.9 145.1h1M450.9 146.0h1M455.8 160.4h1M447.1 136.7h1M451.1 142.3h1M451.5 149.9h1M446.6 140.0h1M448.2 132.8h1M447.9 135.9h1M449.6 144.5h1M442.9 133.8h1M445.6 138.0h1M443.7 150.2h1M454.7 131.6h1M454.5 154.6h1M456.4 144.9h1M444.2 159.2h1M441.9 131.2h1M446.0 146.4h1M434.7 134.8h1M465.0 142.4h1M452.9 137.9h1M429.9 144.4h1M458.6 136.5h1M427.1 144.8h1M442.3 144.5h1M434.6 142.6h1M439.6 152.4h1M446.6 151.4h1M444.6 125.5h1M425.5 151.2h1M453.9 150.5h1M444.4 128.6h1M440.2 148.1h1M459.0 139.2h1M439.5 138.0h1M455.3 150.2h1M426.8 156.9h1M435.9 132.4h1M429.1 139.7h1M468.4 163.2h1M432.6 139.8h1M446.7 147.4h1M440.3 130.8h1M441.0 138.6h1M427.1 147.6h1M430.4 130.8h1M460.4 150.2h1M459.7 143.2h1M441.0 143.8h1M431.4 152.2h1M447.8 141.0h1M426.3 145.4h1M461.5 154.5h1M453.9 139.8h1M446.5 148.6h1M447.1 152.8h1M438.4 124.7h1M420.8 139.2h1M431.2 151.5h1M455.9 142.6h1M450.5 144.0h1M446.9 139.7h1M441.1 154.9h1M442.4 144.0h1M457.1 151.0h1M441.2 146.7h1M435.0 146.4h1M448.3 143.6h1M446.8 146.9h1M419.7 140.1h1M445.9 139.6h1M435.4 143.2h1M461.3 139.9h1M438.6 140.7h1M433.2 149.7h1M435.2 153.2h1M454.3 147.8h1M455.6 141.9h1M427.4 145.7h1M451.5 129.7h1M432.8 155.1h1M449.5 155.1h1M451.8 143.7h1M449.4 150.8h1M444.8 142.2h1M448.3 140.8h1M469.4 134.2h1M429.9 134.7h1M455.7 139.1h1M446.7 141.9h1M447.9 131.0h1M446.0 138.9h1M456.1 148.0h1M432.4 137.2h1M450.9 153.6h1M452.9 141.7h1M456.3 122.0h1M439.7 136.2h1M434.7 150.2h1M447.9 146.1h1M443.8 149.6h1M453.0 138.0h1M454.6 134.7h1M462.9 130.4h1M442.2 134.9h1M445.5 155.4h1M437.5 160.4h1M459.4 145.5h1M439.2 152.6h1M416.2 141.0h1M454.9 142.4h1M470.3 134.9h1M431.7 143.8h1M451.0 158.1h1M427.3 147.7h1M457.9 136.5h1M440.5 134.0h1M452.9 150.2h1M451.1 145.4h1M455.2 141.6h1M452.4 150.2h1M458.3 146.8h1M446.0 150.0h1M429.4 130.6h1M461.6 143.1h1M434.4 140.3h1M443.6 144.8h1M437.4 153.7h1M427.8 169.4h1M434.1 159.9h1M451.9 128.4h1M432.7 146.1h1M447.9 139.9h1M445.3 145.4h1M433.5 146.0h1M468.3 135.4h1M434.8 151.1h1M458.9 151.3h1M438.7 144.2h1M447.2 141.9h1M449.2 152.9h1M450.7 143.2h1M443.1 159.9h1M432.5 163.1h1M452.7 143.8h1M437.5 161.0h1M457.6 150.4h1M466.5 125.5h1M446.2 141.2h1M437.7 145.6h1M450.6 147.9h1M443.7 132.6h1M450.9 148.6h1M466.9 149.4h1M445.3 133.9h1M473.2 134.5h1M447.2 150.3h1M450.3 155.0h1M434.5 139.3h1M446.9 132.9h1M438.8 156.9h1M448.2 142.7h1M439.3 145.2h1M444.8 134.6h1M453.3 131.7h1M458.4 139.3h1M421.6 133.4h1M448.1 136.0h1M463.9 153.7h1M466.9 149.0h1M459.1 136.9h1M458.6 138.4h1M444.6 132.1h1M445.7 147.5h1M444.5 134.3h1M454.5 150.8h1M444.2 151.0h1M455.4 134.0h1M444.8 127.6h1M434.4 149.1h1M436.0 148.6h1M448.9 125.3h1M440.1 158.0h1M445.3 145.1h1M437.8 130.8h1M428.6 168.5h1M443.2 136.5h1M446.3 126.7h1M459.7 157.2h1M437.3 147.8h1M435.7 152.8h1M436.4 143.8h1M458.8 146.9h1M441.7 131.0h1M428.5 156.8h1M450.5 143.8h1M458.3 143.6h1M437.5 144.0h1M444.1 144.0h1M471.2 145.8h1M448.0 141.4h1M438.0 136.1h1M425.5 142.4h1M429.2 129.6h1M435.3 127.3h1M459.5 153.2h1M435.0 163.4h1M452.1 120.7h1M445.3 135.1h1M426.9 144.0h1M457.2 146.4h1M429.8 140.1h1M437.2 155.2h1M444.1 135.4h1M435.5 127.7h1M436.3 153.1h1M425.0 148.3h1M443.9 151.4h1M433.1 153.6h1M461.4 162.2h1M428.0 145.9h1M442.9 145.4h1M434.7 153.0h1M469.8 154.2h1M435.1 140.1h1M452.8 144.2h1M437.1 156.0h1M450.6 152.4h1M443.2 155.6h1M440.2 134.7h1M445.0 131.6h1M458.3 148.8h1M427.4 147.8h1M454.0 139.7h1M449.5 138.2h1M444.4 143.3h1M450.2 134.7h1M433.2 148.5h1M439.7 149.3h1M439.8 133.0h1M452.9 145.4h1M452.8 140.0h1M441.3 155.7h1M427.2 161.8h1M450.5 142.8h1M446.0 149.3h1M436.9 147.5h1M435.0 128.8h1M447.2 144.6h1M451.9 148.1h1M452.4 150.1h1M433.9 156.3h1M473.3 135.3h1M431.8 151.8h1M454.7 151.8h1M461.3 129.5h1M449.0 147.6h1M458.2 134.3h1M445.3 140.6h1M443.3 142.9h1M443.5 128.4h1M444.7 144.7h1M441.0 112.8h1M437.7 139.1h1M435.9 159.5h1M454.8 141.1h1M451.4 169.7h1M434.8 149.5h1M438.7 158.1h1M456.7 141.4h1M451.5 136.1h1M428.3 153.7h1M462.3 139.1h1M439.5 128.7h1M467.7 130.4h1M434.8 143.6h1M457.8 142.8h1M444.8 144.2h1M454.0 142.5h1M446.7 143.1h1M433.3 157.5h1M437.7 133.2h1M440.4 144.9h1M453.7 129.7h1M431.6 147.3h1M449.1 133.7h1M433.1 147.1h1M443.5 129.7h1M435.8 158.5h1M433.8 154.8h1M428.9 159.3h1M461.9 136.2h1M437.8 150.5h1M431.9 150.6h1M457.9 144.7h1M448.4 142.1h1M455.6 135.3h1M461.8 141.6h1M441.6 129.8h1M440.4 146.7h1M458.2 127.9h1M443.7 138.0h1M432.4 145.7h1M437.0 152.8h1M416.6 154.2h1M424.9 129.2h1M450.5 140.3h1M446.4 135.2h1M433.9 138.8h1M444.4 136.6h1M440.6 136.9h1M447.5 133.5h1M423.1 123.4h1M444.8 144.9h1M455.2 136.1h1M433.0 132.2h1M453.0 137.4h1M455.4 142.0h1M442.1 127.7h1M437.9 152.0h1M438.6 150.9h1M427.7 155.3h1M474.4 150.2h1M448.4 132.5h1M439.4 138.9h1M447.0 125.7h1M435.9 152.2h1M446.6 150.4h1M454.0 132.6h1M430.8 150.0h1M445.4 144.7h1M436.4 154.2h1M450.2 153.5h1M441.3 150.7h1M444.4 135.7h1M444.2 129.3h1M443.1 145.8h1M452.3 133.7h1M431.0 139.3h1M423.2 141.0h1M472.6 141.7h1M437.0 139.0h1M463.6 131.2h1M443.8 143.5h1M437.3 138.6h1M427.3 138.8h1M458.7 154.9h1M442.0 150.7h1M449.8 144.4h1M443.6 155.0h1M451.0 141.2h1M442.5 152.7h1M438.7 138.4h1M442.1 139.9h1M458.3 145.5h1M444.1 139.4h1M459.9 146.0h1M466.9 149.3h1M442.7 139.4h1M442.0 146.0h1M453.3 147.3h1M461.5 128.3h1M445.3 131.3h1M434.2 140.0h1M438.1 136.2h1M429.0 156.2h1M441.6 153.1h1M433.4 124.8h1M438.7 152.7h1M439.1 148.3h1M433.7 157.9h1M449.6 152.8h1M442.1 155.8h1M445.8 139.5h1M438.3 145.4h1M435.4 134.6h1M446.4 150.2h1M441.9 151.9h1M461.7 130.5h1M447.7 135.0h1M438.2 146.5h1M420.0 152.6h1M453.8 147.7h1M451.8 159.3h1M441.1 154.2h1M460.2 146.4h1M426.2 145.0h1M441.9 129.9h1M444.4 150.8h1M442.3 142.7h1M460.5 136.5h1M435.1 145.6h1M456.8 147.8h1M445.8 139.5h1M458.0 150.2h1M426.7 149.3h1M419.7 160.6h1M451.4 137.5h1M431.4 143.1h1M426.6 151.4h1M439.6 128.9h1M444.8 154.6h1M431.6 142.5h1M464.1 143.2h1M439.1 146.4h1M453.2 134.0h1M444.0 129.6h1M428.3 132.4h1M453.9 145.6h1M452.7 153.9h1M445.5 146.0h1M449.3 147.6h1M433.8 143.0h1M443.4 144.5h1M437.1 143.8h1M448.0 145.3h1M451.2 150.5h1M450.9 151.8h1M453.8 155.3h1M451.6 137.6h1M469.5 150.9h1M458.1 148.8h1M445.5 133.7h1M449.6 140.2h1M440.8 125.5h1M461.3 131.5h1M433.4 149.6h1M451.0 136.2h1M444.9 146.3h1M446.6 148.5h1M453.2 139.7h1M427.9 165.5h1M440.9 135.7h1M452.9 148.2h1M438.5 165.8h1M420.2 158.6h1M444.6 146.8h1M448.3 141.5h1M448.3 131.9h1M440.8 161.0h1M417.8 158.5h1M421.5 139.4h1M454.2 139.2h1M438.9 131.4h1M443.7 142.6h1M438.3 130.9h1M446.6 147.5h1M457.0 147.0h1M461.0 152.6h1M415.2 162.7h1M443.9 134.8h1M449.6 152.0h1M428.7 135.1h1M452.2 138.1h1M460.4 144.0h1M439.2 132.9h1M451.3 127.8h1M431.3 134.1h1M462.9 156.9h1M442.7 140.9h1M452.4 154.2h1M436.5 164.7h1M442.8 154.4h1M420.1 146.7h1M437.6 162.7h1M442.7 132.9h1M465.5 135.2h1M445.0 132.8h1M452.1 144.8h1M441.9 140.8h1M439.0 138.3h1M430.2 156.7h1M454.4 130.4h1M432.7 149.2h1M468.9 139.1h1M441.7 142.2h1M447.6 142.1h1M456.4 151.3h1M450.8 157.3h1M442.5 139.4h1M476.4 122.7h1M428.5 125.1h1M448.8 134.0h1M456.2 123.8h1M443.5 140.7h1M433.6 155.4h1M440.8 148.6h1M439.4 146.0h1M440.3 145.3h1M443.9 138.0h1M449.6 141.7h1M434.8 135.9h1M449.7 155.3h1M431.2 142.0h1M449.7 152.7h1M452.5 132.4h1M445.4 152.0h1M447.5 141.7h1M432.5 147.1h1M444.3 144.4h1M460.8 152.6h1M436.6 147.1h1M441.7 145.3h1M462.2 150.0h1M445.4 138.1h1M443.3 147.5h1M439.7 154.5h1M445.2 133.4h1M466.6 115.3h1M442.1 143.3h1M455.4 152.6h1M460.4 155.9h1M448.3 144.6h1M455.7 142.4h1M431.7 141.6h1M452.0 148.6h1M433.3 156.2h1M448.3 130.2h1M449.9 152.3h1M450.6 140.5h1M436.5 155.1h1M447.4 143.6h1M440.8 135.3h1M425.2 143.5h1M456.7 149.3h1M437.8 158.6h1M442.6 135.3h1M455.3 155.0h1M440.9 133.6h1M444.3 122.4h1M445.6 157.5h1M447.9 137.1h1M452.5 138.6h1M458.3 139.1h1M466.5 138.1h1M447.0 135.4h1M431.5 148.8h1M448.7 134.8h1M450.9 139.6h1M439.2 144.1h1M449.2 149.9h1M458.0 145.7h1M437.3 138.9h1M448.9 132.8h1M443.2 140.8h1M444.0 145.7h1M456.0 157.2h1M454.3 151.8h1M433.7 154.7h1M458.7 130.2h1M471.6 135.5h1M419.9 163.0h1M445.7 136.8h1M439.0 154.3h1M447.7 140.3h1M457.1 134.1h1M436.0 140.1h1M437.1 151.2h1M442.6 134.9h1M440.2 126.9h1M446.7 144.7h1M451.4 141.1h1M449.2 135.1h1M445.3 145.3h1M432.2 150.9h1M446.5 144.3h1M440.0 162.5h1M445.0 137.1h1M436.0 150.4h1M442.8 137.2h1M437.4 153.3h1M445.9 153.3h1M444.8 133.5h1M454.1 145.7h1M438.1 142.1h1M434.8 152.7h1M440.6 148.8h1M447.7 141.3h1M448.9 141.3h1M432.6 141.9h1M432.6 152.3h1M451.8 137.9h1M451.5 145.4h1M455.2 134.4h1M445.3 135.1h1M437.8 157.1h1M423.9 138.6h1M450.1 150.2h1M436.7 127.0h1M426.9 149.6h1M456.6 150.6h1M437.3 157.0h1M443.0 149.7h1M443.0 158.4h1M439.6 125.6h1M441.7 146.1h1M447.9 137.2h1M442.6 134.2h1M442.5 145.1h1M447.5 158.3h1M424.0 151.3h1M449.5 133.1h1M445.7 143.8h1M434.5 151.8h1M465.0 147.4h1M453.2 152.4h1M443.6 152.8h1M436.5 146.7h1M452.4 154.7h1M442.0 141.8h1M449.9 142.7h1M446.4 150.9h1M437.0 152.8h1M449.0 141.1h1M431.9 140.1h1M444.5 152.4h1M424.4 153.0h1M447.0 133.7h1M454.0 146.4h1M449.6 134.7h1M433.4 153.5h1M459.7 145.3h1M443.0 140.3h1M427.1 155.0h1M444.0 155.0h1M437.5 154.3h1M437.5 150.1h1M459.4 135.9h1M454.5 142.7h1M435.2 147.0h1M451.7 136.8h1M442.2 139.3h1M437.0 143.2h1M453.6 138.5h1M458.0 139.0h1M437.8 154.4h1M459.6 136.4h1M451.1 132.9h1M440.8 141.2h1M452.4 132.0h1M439.7 138.6h1M446.0 133.0h1M431.1 168.8h1M447.2 130.4h1M453.7 131.3h1M425.4 161.2h1M458.0 134.9h1M433.6 149.6h1M466.1 146.6h1M451.9 132.7h1M426.5 149.8h1M455.5 143.8h1M444.9 156.2h1M436.3 154.8h1M453.6 137.4h1M446.3 144.8h1M451.0 134.6h1M442.6 145.1h1M445.3 144.1h1M447.6 142.0h1M439.8 153.7h1M438.3 142.1h1M435.9 135.1h1M449.6 143.0h1M443.6 148.2h1M443.2 150.2h1M463.7 144.7h1M442.2 158.9h1M452.3 128.4h1M458.8 144.1h1M453.8 132.7h1M436.2 139.4h1M450.7 133.4h1M437.7 153.3h1M438.3 145.9h1M435.7 130.3h1M444.1 143.1h1M430.2 154.4h1M453.5 150.7h1M439.7 134.6h1M444.1 145.6h1M443.2 139.1h1M434.7 138.9h1M444.1 139.8h1M462.2 139.4h1M449.7 139.3h1M443.1 135.7h1M440.0 131.5h1M423.6 158.5h1M434.1 149.2h1M443.7 139.2h1M452.5 138.2h1M449.5 140.2h1M455.0 151.1h1M445.7 153.5h1M450.2 156.9h1M443.7 130.7h1M447.2 145.8h1M441.2 142.7h1M442.2 133.4h1M462.7 135.0h1M434.0 131.6h1M436.3 144.8h1M460.2 147.3h1M437.5 134.1h1M433.5 144.8h1M453.9 138.6h1M461.5 158.7h1M446.6 124.9h1M456.2 141.7h1M451.8 151.7h1M434.6 145.9h1M446.8 137.2h1M452.1 141.9h1M440.8 160.9h1M446.7 158.0h1M443.4 153.2h1M437.2 146.3h1M456.1 123.6h1M450.5 140.9h1M456.2 144.1h1M444.2 132.9h1M475.2 133.7h1M441.6 138.1h1M441.9 146.3h1M431.2 155.0h1M442.3 149.6h1M423.3 142.2h1M441.9 141.0h1M438.1 147.6h1M449.1 134.9h1M424.8 152.9h1M441.7 153.7h1M453.9 141.9h1M430.3 142.7h1M437.5 155.8h1M427.6 154.2h1M429.2 141.0h1M430.5 139.8h1M440.4 147.8h1M438.9 150.8h1M462.9 143.1h1M433.1 143.9h1M443.9 141.0h1M456.8 152.5h1M465.5 145.9h1M417.6 146.3h1M451.8 136.1h1M438.8 152.7h1M446.4 134.0h1M439.0 117.9h1M444.9 133.3h1M444.4 133.7h1M435.4 140.7h1M473.5 130.0h1M432.8 140.9h1M455.8 149.5h1M452.1 140.2h1M446.2 137.1h1M443.1 137.2h1M430.0 137.2h1M464.7 144.9h1M437.2 144.0h1M440.3 155.2h1M444.6 138.5h1M451.9 145.9h1M437.9 138.2h1M446.4 129.5h1M435.6 154.0h1M453.8 152.6h1M440.4 139.4h1M442.1 140.2h1M458.0 140.4h1M458.8 136.0h1M448.8 157.6h1M437.3 139.3h1M438.8 130.7h1M441.9 138.8h1M467.5 136.9h1M423.0 155.0h1M454.6 142.4h1M447.8 149.8h1M439.1 145.1h1M446.4 158.2h1M459.3 143.6h1M431.2 153.4h1M444.3 154.2h1M445.4 145.5h1M451.6 136.7h1M438.1 164.8h1M436.0 153.2h1M451.9 150.2h1M458.9 130.5h1M454.7 124.8h1M445.4 146.8h1M455.4 152.1h1M435.3 142.8h1M443.3 138.1h1M436.5 139.3h1M456.6 154.3h1M452.6 157.7h1M445.8 134.4h1M438.2 146.6h1M455.4 153.2h1M435.7 153.5h1M439.4 149.9h1M454.3 155.7h1M439.5 146.8h1M449.2 139.8h1M445.8 149.1h1M428.1 140.5h1M468.4 144.9h1M439.2 128.7h1M435.1 149.8h1M451.8 147.0h1M450.9 138.0h1M461.1 132.1h1M450.1 141.0h1M427.4 154.1h1M442.0 150.6h1M457.9 143.8h1M438.1 143.0h1M444.2 156.7h1M453.6 156.7h1M452.6 136.3h1M454.3 151.2h1M443.6 148.2h1M441.6 133.4h1M443.9 150.8h1M441.2 124.9h1M436.7 154.5h1M447.1 153.5h1M437.2 141.3h1M434.6 138.5h1M450.1 144.6h1M439.9 147.2h1M431.5 142.3h1M429.6 132.9h1M431.0 136.2h1M461.0 153.9h1M457.7 137.3h1M451.2 133.3h1M439.3 146.8h1M428.5 147.8h1M451.1 125.1h1M419.9 144.8h1M443.6 145.4h1M433.3 150.5h1M446.1 137.4h1M461.6 144.1h1M452.4 159.3h1M439.8 142.7h1M427.1 144.3h1M449.3 165.4h1M450.6 145.0h1M431.9 138.2h1M425.9 134.4h1M446.0 146.5h1M435.5 143.3h1M436.6 150.5h1M451.4 138.3h1M440.2 133.9h1M440.1 163.8h1M444.7 151.6h1M450.8 156.2h1M441.5 136.5h1M464.0 147.5h1M454.0 151.5h1M457.8 141.7h1M468.6 143.3h1M459.7 139.1h1M459.1 149.9h1M460.6 135.5h1M460.5 140.4h1M459.7 140.0h1M445.1 132.9h1M455.7 125.5h1M449.1 160.1h1M462.0 137.4h1M459.8 124.2h1M459.4 149.3h1M459.0 131.6h1M463.6 136.4h1M454.6 144.4h1M456.1 158.3h1M457.1 158.9h1M460.5 131.7h1M457.9 142.4h1M466.3 149.7h1M472.9 132.9h1M455.3 160.8h1M452.7 146.2h1M467.3 131.6h1M455.9 136.8h1M461.0 144.3h1M457.7 147.2h1M453.3 140.3h1M460.6 157.0h1M457.7 142.5h1M465.6 140.6h1M465.5 141.8h1M464.7 141.6h1M452.5 136.8h1M460.4 156.0h1M468.8 136.6h1M472.6 129.4h1M452.9 150.6h1M449.0 151.5h1M460.1 146.3h1M450.8 146.9h1M463.4 140.1h1M463.9 140.6h1M459.9 139.0h1M449.9 142.9h1M460.8 135.3h1M446.4 133.0h1M465.6 138.2h1M453.4 152.9h1M456.9 130.6h1M455.3 135.8h1M456.8 135.2h1M458.3 145.5h1M454.5 141.3h1M457.0 148.7h1M453.7 149.0h1M465.2 138.6h1M452.2 141.1h1M447.5 140.6h1M450.9 142.6h1M455.7 146.6h1M458.6 145.1h1M457.6 144.3h1M451.2 149.0h1M465.6 148.7h1M450.0 147.4h1M448.3 150.5h1M456.7 138.8h1M453.5 141.3h1M457.9 134.5h1M458.3 144.0h1M461.0 140.9h1M457.9 160.2h1M463.9 143.0h1M449.7 149.1h1M461.3 120.3h1M456.9 145.3h1M458.1 142.7h1M457.0 153.1h1M460.2 139.2h1M456.6 158.7h1M452.8 139.3h1M459.8 142.7h1M459.7 152.2h1M464.6 143.5h1M458.2 141.5h1M456.6 150.3h1M450.5 135.9h1M455.2 135.2h1M453.6 152.5h1M444.6 150.1h1M450.2 142.2h1M454.5 135.2h1M449.2 144.9h1M440.4 130.1h1M455.6 151.2h1M468.9 136.8h1M453.2 141.1h1M460.7 148.6h1M452.3 147.2h1M457.7 151.0h1M455.5 141.0h1M452.9 133.0h1M459.5 147.2h1M464.6 142.4h1M455.2 135.6h1M451.1 138.2h1M459.9 142.2h1M444.4 144.8h1M456.2 134.3h1M457.8 146.2h1M451.8 133.1h1M456.0 144.6h1M456.4 154.5h1M458.8 133.9h1M462.5 135.7h1M462.0 141.7h1M465.2 132.3h1M462.2 144.2h1M452.6 149.0h1M471.4 141.2h1M453.4 142.0h1M465.7 142.0h1M466.7 134.6h1M465.7 127.6h1M457.0 140.0h1M455.0 152.4h1M454.4 145.7h1M469.0 145.6h1M455.5 136.9h1M446.0 148.2h1M463.2 149.3h1M459.4 158.5h1M462.5 122.7h1M452.7 149.7h1M455.6 149.2h1M473.2 132.0h1M471.1 137.9h1M449.2 145.1h1M463.3 136.0h1M467.4 132.7h1M456.8 149.6h1M456.7 138.0h1M457.9 147.2h1M468.3 149.9h1M469.1 138.8h1M448.1 144.3h1M455.5 134.9h1M454.9 142.3h1M458.3 149.1h1M452.5 152.5h1M458.2 147.7h1M465.4 130.3h1M467.5 133.8h1M460.3 149.9h1M463.5 128.3h1M458.9 150.7h1M457.2 141.6h1M458.4 154.8h1M454.7 135.5h1M451.4 139.6h1M456.6 145.1h1M457.5 128.7h1M448.6 149.9h1M462.3 130.2h1M463.6 121.4h1M471.9 142.9h1M448.1 148.7h1M457.8 138.5h1M455.8 140.8h1M457.4 135.1h1M454.6 147.3h1M461.1 130.7h1M455.0 155.1h1M462.3 153.8h1M449.9 136.0h1M445.0 130.3h1M455.7 134.4h1M451.5 138.3h1M456.9 148.8h1M461.3 127.3h1M466.9 137.0h1M452.0 143.4h1M455.6 131.7h1M467.3 135.0h1M454.4 147.2h1M468.0 143.1h1M452.6 146.9h1M464.6 143.2h1M461.9 137.2h1M457.6 128.9h1M453.7 134.2h1M458.0 153.7h1M444.5 135.2h1M452.4 142.8h1M465.0 134.0h1M453.3 152.8h1M460.2 145.6h1M463.0 134.8h1M459.3 136.5h1M453.7 144.2h1M460.6 131.3h1M453.4 148.0h1M459.0 147.0h1M456.1 136.2h1M462.7 145.5h1M440.9 153.4h1M453.4 148.5h1M467.4 137.3h1M452.2 145.6h1M458.5 146.3h1M449.5 146.2h1M463.4 146.1h1M461.8 150.4h1M453.0 152.9h1M459.3 133.9h1M456.2 144.6h1M460.0 152.1h1M459.1 137.7h1M471.1 135.9h1M453.0 150.6h1M455.5 136.5h1M451.6 153.0h1M451.6 144.5h1M455.2 141.2h1M453.1 144.5h1M461.6 149.3h1M455.8 133.4h1M449.1 144.5h1M443.0 156.5h1M458.2 142.9h1M449.6 139.2h1M453.5 148.5h1M455.5 147.5h1M461.1 126.1h1M456.6 152.3h1M454.9 143.9h1M457.2 132.6h1M471.1 137.5h1M461.8 137.5h1M466.4 148.8h1M465.1 147.6h1M462.2 151.8h1M460.4 142.5h1M462.9 133.7h1M442.7 152.5h1M458.9 136.3h1M456.4 135.0h1M452.9 144.9h1M458.7 148.4h1M457.4 147.2h1M462.1 135.5h1M447.8 139.4h1M456.5 138.3h1M471.3 133.2h1M460.9 135.3h1M462.2 131.1h1M463.7 142.0h1M455.6 133.3h1M468.0 134.9h1M466.7 120.9h1M450.8 158.2h1M468.7 139.4h1M464.0 145.2h1M455.8 143.7h1M451.1 133.4h1M458.7 147.6h1M459.0 132.2h1M463.1 141.4h1M462.5 138.6h1M456.4 150.8h1M466.3 130.5h1M451.3 151.5h1M460.2 141.9h1M452.1 151.6h1M459.1 143.5h1M460.3 137.4h1M460.4 142.5h1M462.3 143.9h1M450.3 138.6h1M456.4 151.6h1M454.1 152.0h1M464.5 147.2h1M471.6 138.4h1M459.9 151.1h1M460.4 149.2h1M457.2 153.4h1M460.1 126.6h1M464.5 138.9h1M452.7 141.2h1M456.3 151.5h1M460.0 141.0h1M457.9 135.1h1M454.1 139.5h1M456.6 133.4h1M455.6 150.6h1M460.7 141.4h1M460.1 139.7h1M450.9 150.9h1M471.5 142.5h1M462.1 160.2h1M450.7 148.2h1M455.9 140.5h1M448.0 144.2h1M460.4 129.0h1M456.7 138.6h1M452.0 148.7h1M467.9 142.7h1M464.2 146.4h1M457.6 146.8h1M466.0 136.7h1M457.1 131.6h1M446.8 138.7h1M463.4 143.5h1M459.6 151.9h1M447.4 155.7h1M458.5 148.0h1M466.3 133.6h1M452.8 146.7h1M457.7 137.7h1M457.2 136.7h1M458.8 138.9h1M468.2 131.3h1M461.5 141.8h1M467.5 132.0h1M455.2 156.3h1M454.0 140.2h1M455.6 135.1h1M465.4 151.9h1M457.1 136.5h1M449.8 149.4h1M454.8 147.2h1M443.5 142.7h1M461.8 144.3h1M440.7 149.0h1M458.8 141.7h1M455.9 139.2h1M458.9 145.8h1M438.9 147.1h1M463.6 138.9h1M465.4 132.9h1M469.5 146.5h1M455.6 164.1h1M466.7 152.1h1M450.8 143.2h1M460.8 149.5h1M458.5 131.9h1M465.4 138.8h1M460.6 138.9h1M457.3 131.6h1M462.0 136.2h1M447.3 148.2h1M457.8 149.6h1M462.9 131.4h1M456.9 142.4h1M458.5 133.8h1M458.5 149.6h1M465.5 151.4h1M462.6 121.3h1M456.4 138.3h1M440.5 158.7h1M463.5 140.6h1M460.2 145.3h1M456.7 153.1h1M469.0 145.5h1M454.7 144.9h1M463.9 146.1h1M453.9 150.6h1M462.4 145.4h1M455.5 142.6h1M446.5 144.9h1M455.3 140.5h1M456.3 140.1h1M458.5 142.7h1M454.3 142.1h1M457.5 146.1h1M460.7 138.6h1M453.0 130.7h1M450.5 147.3h1M452.5 156.0h1M457.0 139.4h1M457.1 138.1h1M454.2 143.6h1M449.3 145.4h1M457.4 135.2h1M464.2 143.2h1M464.5 135.2h1M450.5 134.9h1M448.5 129.9h1M467.4 135.9h1M459.2 137.6h1M457.1 154.5h1M447.6 137.2h1M458.8 134.8h1M462.2 151.0h1M463.4 146.4h1M457.0 150.1h1M453.2 134.1h1M456.4 140.6h1M465.4 132.5h1M464.9 134.2h1M450.4 131.0h1M457.8 130.9h1M459.3 142.1h1M455.6 127.8h1M454.9 146.4h1M447.3 150.3h1M458.1 137.8h1M459.2 146.8h1M457.9 136.1h1M462.7 135.5h1M460.2 149.0h1M465.9 152.3h1M464.2 141.5h1M456.8 143.8h1M461.2 164.4h1M462.0 134.6h1M467.2 127.3h1M464.0 130.5h1M451.4 139.9h1M456.3 132.1h1M461.7 140.2h1M466.1 132.0h1M447.1 150.3h1M456.6 150.0h1M443.9 136.1h1M458.5 157.0h1M450.6 129.3h1M455.3 153.7h1M467.5 129.0h1M454.3 128.8h1M452.9 135.9h1M460.6 150.2h1M472.3 135.4h1M462.9 142.4h1M458.8 156.8h1M462.2 153.0h1M459.8 148.3h1M461.1 140.5h1M453.8 140.0h1M458.1 139.1h1M456.0 137.1h1M463.2 138.8h1M457.3 140.5h1M465.9 135.8h1M466.5 133.1h1M467.2 144.3h1M455.1 146.4h1M464.8 132.8h1M456.6 144.8h1M456.8 140.1h1M458.1 144.4h1M462.7 152.2h1M456.1 165.3h1M456.0 156.3h1M457.2 131.0h1M455.4 140.1h1M464.4 124.7h1M454.2 142.0h1M462.0 144.0h1M463.2 139.4h1M456.6 151.8h1M468.3 142.2h1M458.9 135.1h1M470.6 141.8h1M461.7 128.6h1M461.7 159.9h1M457.0 140.7h1M467.2 138.1h1M463.1 155.7h1M451.0 137.5h1M462.1 141.9h1M458.3 140.7h1M458.8 144.6h1M455.2 140.6h1M459.4 133.2h1M460.7 124.3h1M461.9 140.1h1M451.0 154.4h1M451.0 159.9h1M453.7 152.6h1M457.6 154.6h1M456.7 150.4h1M456.1 128.0h1M460.4 145.1h1M460.4 154.4h1M453.6 132.1h1M459.6 136.2h1M457.4 142.2h1M453.1 151.8h1M457.3 156.1h1M459.5 149.8h1M456.3 137.4h1M454.9 136.0h1M460.7 142.4h1M451.6 131.8h1M452.9 129.2h1M452.7 131.7h1M462.2 131.9h1M454.5 142.0h1M458.2 145.2h1M462.6 145.8h1M456.0 152.3h1M460.2 135.9h1M467.0 130.5h1M460.9 151.0h1M458.7 144.5h1M458.8 147.0h1M459.4 141.7h1M462.2 126.2h1M459.5 139.3h1M469.7 141.2h1M454.1 148.2h1M455.7 133.4h1M456.4 146.4h1M465.1 148.3h1M459.4 140.4h1M459.2 151.1h1M457.3 151.2h1M453.3 143.2h1M462.6 146.2h1M459.2 137.7h1M447.4 141.5h1M453.0 140.2h1M467.4 133.5h1M463.1 140.5h1M451.5 144.6h1M462.5 131.6h1M451.1 140.9h1M462.3 136.2h1M460.5 144.9h1M458.1 145.5h1M465.6 138.5h1M460.0 133.2h1M453.8 142.4h1M462.8 135.5h1M449.8 151.4h1M472.1 118.3h1M451.7 144.6h1M460.9 133.9h1M460.0 150.0h1M456.4 148.1h1M458.8 134.6h1M454.4 138.2h1M465.9 148.9h1M459.5 129.5h1M455.1 139.7h1M446.6 144.9h1M459.7 131.3h1M455.5 139.1h1M468.9 144.2h1M462.6 141.5h1M450.5 151.2h1M454.1 128.2h1M462.3 138.2h1M458.0 146.0h1M456.7 145.6h1M465.6 137.5h1M455.9 142.7h1M461.8 137.9h1M458.5 136.6h1M457.6 146.3h1M453.2 141.9h1M449.4 138.9h1M458.5 146.0h1M452.0 142.8h1M452.6 145.9h1M459.6 145.0h1M456.8 131.3h1M454.7 132.5h1M454.0 142.6h1M464.3 135.3h1M453.5 144.8h1M445.9 160.6h1M449.0 152.3h1M463.8 147.9h1M457.4 147.8h1M456.0 150.0h1M454.2 136.7h1M460.2 137.9h1M461.9 134.3h1M459.6 134.0h1M457.4 158.8h1M451.7 134.2h1M448.6 142.8h1M467.5 136.0h1M463.5 139.1h1M454.3 158.5h1M464.3 126.1h1M452.3 146.7h1M461.8 139.3h1M459.8 145.7h1M456.0 150.2h1M453.1 149.2h1M463.4 142.1h1M456.0 142.4h1M445.1 147.4h1M451.8 111.9h1M475.2 109.6h1M470.8 118.6h1M448.2 121.8h1M464.1 124.8h1M467.8 110.3h1M461.4 123.3h1M453.4 122.8h1M461.2 106.9h1M485.4 118.2h1M462.1 129.2h1M455.9 136.3h1M463.1 122.8h1M460.8 123.5h1M470.5 118.7h1M458.2 129.6h1M473.0 117.3h1M478.2 109.5h1M480.6 112.7h1M483.2 109.5h1M464.3 122.8h1M478.7 125.4h1M462.2 116.8h1M475.2 125.5h1M474.5 114.2h1M480.6 113.7h1M468.8 123.8h1M461.0 106.0h1M469.3 124.2h1M471.7 121.9h1M468.7 126.9h1M468.2 130.5h1M467.6 125.7h1M461.2 124.9h1M471.5 119.0h1M483.5 112.9h1M479.0 117.2h1M478.6 108.1h1M463.1 128.9h1M458.3 126.8h1M473.1 118.7h1M471.7 121.9h1M464.5 124.2h1M461.5 119.1h1M450.1 126.8h1M448.9 128.4h1M469.3 110.9h1M467.8 121.8h1M463.3 114.9h1M465.8 123.6h1M476.9 129.9h1M446.0 132.0h1M471.6 113.2h1M470.4 134.0h1M468.2 129.6h1M478.3 111.6h1M442.4 139.7h1M483.4 99.6h1M464.9 115.8h1M469.2 119.5h1M479.2 110.1h1M487.5 98.1h1M469.3 138.8h1M466.0 125.1h1M462.0 146.7h1M476.5 113.1h1M446.6 130.7h1M474.8 101.4h1M461.8 126.5h1M441.4 130.1h1M450.1 117.7h1M471.3 126.5h1M479.4 109.6h1M472.4 104.4h1M451.3 131.1h1M462.8 114.3h1M447.1 127.2h1M490.8 94.3h1M455.9 133.4h1M446.6 124.6h1M467.7 128.1h1M466.2 133.9h1M466.7 119.3h1M471.7 120.5h1M451.0 120.1h1M464.5 123.7h1M454.0 120.6h1M459.1 126.1h1M462.4 126.5h1M471.1 111.3h1M463.8 112.2h1M468.2 125.5h1M456.5 111.6h1M472.5 115.4h1M466.7 123.6h1M471.1 125.1h1M462.1 105.8h1M461.8 120.1h1M462.6 124.9h1M464.3 130.9h1M460.2 123.0h1M463.2 137.5h1M456.8 117.1h1M462.9 127.5h1M467.1 118.6h1M451.4 111.6h1M464.7 119.3h1M485.9 114.3h1M471.6 125.2h1M457.4 115.1h1M463.1 132.8h1M477.6 110.9h1M453.7 132.9h1M478.7 106.5h1M484.2 106.5h1M475.0 114.8h1M463.5 117.0h1M474.4 121.3h1M475.7 114.0h1M457.9 140.1h1M485.4 110.3h1M454.7 136.7h1M468.4 119.8h1M476.2 118.5h1M468.2 134.3h1M446.7 133.9h1M456.4 125.3h1M465.2 122.8h1M441.1 136.9h1M492.1 105.6h1M476.7 120.3h1M470.2 114.8h1M473.8 119.0h1M482.6 119.2h1M459.4 101.6h1M483.3 116.3h1M468.9 114.6h1M494.0 117.9h1M468.0 116.8h1M473.2 127.4h1M472.6 124.5h1M469.8 121.4h1M453.3 127.1h1M467.6 119.2h1M464.4 123.5h1M460.7 121.3h1M452.8 143.7h1M457.3 115.3h1M461.2 119.5h1M455.4 107.0h1M484.8 119.6h1M462.9 126.0h1M455.0 113.3h1M470.6 122.7h1M459.6 123.3h1M433.6 134.0h1M478.5 116.1h1M469.0 123.4h1M444.3 120.5h1M453.2 128.0h1M460.2 108.9h1M476.7 114.2h1M477.8 130.2h1M449.0 118.5h1M478.7 125.3h1M471.3 120.8h1M474.6 121.5h1M453.1 131.8h1M477.8 112.1h1M457.0 120.8h1M460.6 126.8h1M475.5 116.4h1M463.7 108.2h1M462.4 114.6h1M461.0 125.3h1M468.8 145.4h1M457.5 120.3h1M454.5 123.7h1M463.9 128.9h1M445.7 136.4h1M474.0 112.9h1M459.5 124.8h1M472.7 116.2h1M465.3 120.9h1M455.2 127.4h1M473.3 117.6h1M454.5 125.6h1M465.8 122.9h1M462.4 128.3h1M478.8 120.8h1M469.5 128.0h1M466.5 119.0h1M451.3 127.2h1M480.3 106.9h1M475.5 106.7h1M470.2 132.1h1M467.5 111.1h1M470.1 117.5h1M475.7 112.2h1M448.0 125.0h1M473.4 124.8h1M470.0 118.9h1M474.5 115.2h1M462.0 123.9h1M478.9 110.9h1M472.4 112.8h1M458.9 124.9h1M452.4 120.3h1M453.9 121.4h1M457.0 141.7h1M473.6 117.6h1M452.3 109.1h1M471.8 113.2h1M478.4 112.0h1M452.7 121.8h1M450.3 117.1h1M474.7 112.6h1M474.5 112.5h1M464.4 117.1h1M461.0 117.9h1M483.3 112.3h1M445.6 142.1h1M480.6 122.1h1M465.8 119.4h1M461.7 123.3h1M472.0 117.7h1M457.9 117.0h1M485.1 124.3h1M453.4 121.5h1M466.5 124.6h1M465.7 122.4h1M470.9 126.6h1M452.6 134.5h1M471.7 121.9h1M450.4 125.8h1M464.1 126.0h1M474.4 121.7h1M452.7 135.6h1M467.6 126.6h1M466.8 115.0h1M495.6 112.0h1M475.2 112.9h1M464.5 129.3h1M471.8 130.7h1M480.0 106.3h1M450.0 136.1h1M473.5 115.2h1M463.7 117.5h1M486.5 110.0h1M451.7 133.5h1M465.9 123.1h1M462.7 121.7h1M446.2 133.3h1M459.3 120.7h1M470.3 127.8h1M443.2 129.7h1M472.8 124.8h1M456.9 126.9h1M471.2 124.9h1M460.0 121.8h1M461.2 130.9h1M478.7 111.5h1M465.3 122.4h1M457.0 123.7h1M476.3 121.5h1M459.4 118.8h1M465.6 110.1h1M470.2 119.5h1M452.2 125.0h1M459.6 121.4h1M457.2 134.3h1M456.2 130.4h1M469.1 129.5h1M466.2 120.4h1M467.6 106.2h1M493.2 106.7h1M463.4 113.6h1M465.3 132.4h1M458.5 127.1h1M478.1 121.9h1M462.4 109.6h1M471.3 122.2h1M463.2 118.7h1M486.0 100.2h1M461.2 118.3h1M449.7 122.9h1M458.1 133.0h1M447.6 118.9h1M469.7 107.8h1M444.8 125.6h1M453.6 119.1h1M465.1 124.2h1M459.7 121.4h1M474.6 115.6h1M474.9 112.3h1M472.2 126.9h1M451.6 148.4h1M463.2 119.4h1M465.0 124.3h1M453.5 126.4h1M460.4 133.3h1M447.8 133.3h1M463.3 116.4h1M468.3 117.8h1M467.2 121.7h1M480.0 111.4h1M485.1 92.7h1M486.8 119.9h1M483.9 113.9h1M469.9 111.6h1M481.5 105.3h1M458.1 124.1h1M469.4 121.5h1M454.0 123.5h1M472.2 126.2h1M475.2 119.4h1M463.9 117.6h1M461.2 122.0h1M472.6 114.0h1M489.4 102.9h1M475.7 114.7h1M465.3 118.2h1M483.6 110.5h1M472.8 118.3h1M475.0 120.7h1M484.9 106.8h1M457.8 136.3h1M480.8 114.4h1M463.7 123.4h1M481.1 108.3h1M482.7 112.6h1M462.8 119.2h1M443.8 132.8h1M452.4 122.7h1M457.0 126.3h1M474.7 116.9h1M468.9 122.2h1M484.4 116.4h1M484.0 112.0h1M470.7 113.8h1M473.3 111.2h1M472.0 113.4h1M462.9 130.6h1M468.4 125.1h1M464.2 108.2h1M482.9 111.7h1M459.7 130.1h1M454.4 120.5h1M479.4 109.6h1M479.2 112.5h1M464.5 121.7h1M461.3 130.3h1M478.8 115.3h1M473.5 121.0h1M485.2 100.7h1M478.0 121.6h1M463.4 121.9h1M463.0 130.7h1M454.3 130.1h1M480.9 117.9h1M461.5 119.3h1M443.6 123.4h1M478.8 108.1h1M448.8 126.5h1M450.5 130.8h1M457.2 131.3h1M465.5 110.7h1M458.4 119.4h1M457.6 133.1h1M455.8 127.7h1M460.4 127.3h1M451.1 116.2h1M472.4 127.8h1M451.6 124.8h1M461.2 116.1h1M477.4 115.8h1M451.6 125.5h1M481.4 108.6h1M461.2 116.9h1M468.6 115.5h1M476.6 109.9h1M450.8 130.6h1M432.0 129.2h1M469.9 120.6h1M460.5 119.9h1M472.5 144.0h1M458.0 122.9h1M461.8 126.4h1M466.9 124.1h1M484.7 110.2h1M463.6 124.3h1M489.8 107.3h1M485.4 120.3h1M436.8 126.7h1M456.1 127.9h1M481.4 114.0h1M468.6 134.7h1M470.7 133.7h1M457.0 136.3h1M461.3 105.5h1M457.7 120.9h1M466.3 125.8h1M474.4 120.5h1M458.6 136.5h1M480.0 114.5h1M460.6 122.7h1M464.4 116.4h1M466.7 115.6h1M473.9 112.4h1M472.2 120.1h1M468.7 123.1h1M455.6 143.5h1M459.2 128.8h1M467.1 117.0h1M485.9 119.4h1M463.8 125.5h1M474.3 128.0h1M478.0 114.0h1M464.1 113.2h1M469.7 125.0h1M462.6 126.8h1M468.3 116.3h1M453.5 134.1h1M494.7 111.5h1M455.0 118.2h1M469.6 123.6h1M483.5 95.5h1M487.2 112.2h1M468.4 122.2h1M463.0 119.9h1M478.5 102.6h1M465.6 124.7h1M448.8 127.2h1M483.7 115.3h1M474.6 121.7h1M469.3 121.6h1M457.9 122.7h1M487.2 102.3h1M465.0 112.0h1M461.0 117.3h1M453.4 128.0h1M456.5 128.6h1M486.8 93.0h1M465.1 106.1h1M465.5 123.4h1M469.2 127.7h1M468.6 107.1h1M483.5 106.0h1M465.9 122.9h1M457.2 125.2h1M483.3 100.7h1M448.6 125.2h1M465.1 111.9h1M441.6 138.1h1M471.2 108.8h1M473.2 116.8h1M468.7 109.8h1M464.5 124.6h1M447.6 121.3h1M477.6 129.6h1M474.2 116.4h1M455.0 122.6h1M464.2 124.5h1M464.1 139.1h1M481.5 97.9h1M454.1 125.9h1M477.7 118.2h1M436.6 122.0h1M481.8 117.7h1M495.1 113.2h1M472.0 128.8h1M462.0 118.4h1M455.8 126.9h1M471.8 124.7h1M482.9 117.4h1M480.5 112.2h1M456.3 130.1h1M478.1 124.7h1M465.1 117.6h1M462.9 124.5h1M466.4 119.0h1M469.8 116.8h1M470.7 114.1h1M449.9 125.5h1M487.8 104.9h1M477.0 125.2h1M461.0 124.6h1M441.8 135.5h1M483.9 113.8h1M445.0 125.8h1M458.8 124.6h1M470.1 115.7h1M463.6 115.7h1M473.3 118.7h1M470.8 114.7h1M472.4 115.5h1M470.3 117.5h1M459.7 115.5h1M446.4 119.5h1M472.1 141.3h1M448.9 122.4h1M466.9 145.9h1M464.7 112.7h1M471.6 133.0h1M436.2 125.5h1M480.6 105.5h1M465.8 116.0h1M475.4 105.8h1M470.4 120.1h1M473.2 120.3h1M468.7 106.5h1M463.4 114.8h1M472.8 115.7h1M468.7 127.3h1M465.8 132.8h1M476.2 105.2h1M460.5 131.8h1M461.5 131.2h1M460.8 122.0h1M478.3 103.5h1M467.8 116.4h1M468.9 131.6h1M472.4 107.8h1M477.6 112.0h1M468.8 127.6h1M463.6 128.5h1M469.0 112.6h1M463.6 111.7h1M480.0 115.4h1M477.7 107.2h1M476.3 107.2h1M470.1 118.5h1M460.5 125.2h1M467.4 113.6h1M458.8 114.2h1M482.1 114.3h1M463.0 126.8h1M457.5 115.9h1M470.9 129.8h1M470.3 119.7h1M486.2 100.1h1M500.7 96.9h1M466.2 110.6h1M453.6 124.3h1M493.9 101.1h1M460.2 125.0h1M455.8 123.2h1M476.0 100.1h1M463.7 119.4h1M461.4 121.7h1M447.2 125.7h1M461.3 115.1h1M480.9 128.3h1M475.8 109.8h1M482.6 116.6h1M458.0 128.5h1M460.6 127.0h1M477.1 123.9h1M455.4 124.3h1M467.0 111.1h1M471.6 123.0h1M451.8 122.8h1M454.8 116.2h1M455.3 135.3h1M459.7 120.4h1M477.9 122.6h1M482.5 97.9h1M475.3 103.5h1M460.0 120.1h1M460.7 137.1h1M465.2 129.4h1M465.0 120.5h1M472.6 120.7h1M472.5 104.9h1M472.6 119.8h1M473.6 116.6h1M471.5 108.5h1M479.5 105.5h1M482.4 120.4h1M466.3 118.2h1M475.6 113.9h1M453.9 127.9h1M453.6 122.7h1M486.7 117.0h1M462.0 121.7h1M459.9 123.1h1M451.1 132.2h1M467.2 115.5h1M460.2 142.3h1M462.1 118.7h1M460.6 119.3h1M481.4 118.5h1M471.6 120.6h1M454.5 108.0h1M483.6 117.8h1M469.4 121.0h1M469.2 119.2h1M464.1 105.0h1M473.3 117.5h1M477.8 117.4h1M463.9 125.8h1M469.1 115.8h1M462.9 118.8h1M463.7 118.2h1M477.8 136.5h1M465.8 128.7h1M445.3 106.1h1M461.8 121.2h1M458.8 113.7h1M457.6 120.5h1M468.7 116.8h1M453.8 123.2h1M483.6 106.1h1M467.7 127.0h1M458.1 119.8h1M498.8 114.7h1M461.2 123.8h1M468.1 120.6h1M472.1 115.5h1M442.6 124.0h1M468.7 109.3h1M463.4 132.6h1M469.6 114.0h1M468.5 127.0h1M448.2 119.3h1M459.7 120.1h1M466.0 116.2h1M468.2 120.1h1M454.2 121.2h1M453.4 128.2h1M469.9 123.5h1M457.4 120.4h1M442.6 131.1h1M449.2 130.5h1M478.9 117.9h1M473.9 118.6h1M471.1 125.0h1M480.9 128.5h1M464.1 127.4h1M476.5 118.8h1M469.9 109.4h1M479.0 108.2h1M459.8 117.0h1M473.1 110.2h1M472.0 121.9h1M468.1 117.0h1M473.5 126.6h1M461.9 114.6h1M460.4 116.6h1M464.4 120.0h1M441.7 142.0h1M458.1 120.9h1M445.5 115.3h1M455.9 126.7h1M476.3 102.6h1M469.4 129.9h1M463.9 128.1h1M470.4 111.7h1M477.9 110.6h1M470.9 115.3h1M464.6 122.2h1M481.5 101.2h1M454.7 126.3h1M477.7 113.8h1M464.9 124.8h1M484.3 105.6h1M449.5 125.8h1M475.4 106.6h1M479.4 121.3h1M475.7 109.9h1M452.8 131.2h1M469.9 123.7h1M452.2 105.1h1M479.3 121.8h1M464.0 121.3h1M472.0 123.2h1M464.9 117.2h1M456.3 132.3h1M468.1 94.7h1M470.8 114.1h1M453.0 122.6h1M453.0 123.0h1M461.0 126.4h1M455.9 111.7h1M460.3 113.0h1M475.1 114.8h1M448.6 121.9h1M466.7 119.8h1M446.8 128.2h1M470.2 125.7h1M479.0 113.7h1M452.7 123.7h1M474.1 110.1h1M480.8 106.8h1M454.6 131.6h1M465.9 122.8h1M463.6 121.7h1M460.6 136.7h1M474.2 115.8h1M472.2 123.7h1M461.2 123.9h1M469.2 114.9h1M458.5 122.4h1M463.7 118.5h1M445.7 130.1h1M474.2 117.3h1M485.8 117.8h1M463.1 116.8h1M472.5 114.8h1M449.2 128.9h1M463.7 119.8h1M473.7 118.4h1M489.2 104.6h1M465.9 122.7h1M462.2 118.4h1M486.2 100.8h1M470.8 105.5h1M470.7 104.4h1M454.2 134.0h1M483.9 113.3h1M437.2 140.8h1M469.7 110.7h1M463.1 112.1h1M466.0 119.8h1M468.3 125.1h1M459.9 107.2h1M454.2 116.6h1M462.9 118.6h1M466.5 130.1h1M467.3 112.0h1M463.6 115.1h1M464.3 125.4h1M454.6 130.7h1M486.6 122.2h1M484.8 112.6h1M452.2 141.2h1M466.4 121.9h1M463.1 114.9h1M473.8 106.8h1M451.9 130.8h1M462.9 115.8h1M472.4 127.8h1M463.9 120.4h1M473.1 124.0h1M478.3 119.8h1M459.7 127.1h1M467.1 107.7h1M480.5 118.1h1M482.0 112.8h1M475.0 115.9h1M478.5 117.1h1M477.5 115.6h1M476.7 119.8h1M483.2 99.2h1M492.7 108.5h1M472.2 110.0h1M495.8 105.1h1M481.8 113.8h1M471.3 125.2h1M496.9 99.3h1M487.7 97.6h1M473.8 113.6h1M477.5 115.4h1M480.8 112.8h1M475.7 114.4h1M471.8 126.3h1M477.6 119.5h1M478.0 110.7h1M475.3 104.6h1M496.6 106.8h1M478.2 108.6h1M489.1 105.2h1M472.7 110.3h1M491.6 108.2h1M475.6 108.5h1M489.1 109.0h1M473.9 118.8h1M485.3 102.5h1M487.9 114.5h1M474.7 104.6h1M487.3 105.8h1M475.1 111.0h1M474.5 118.2h1M466.7 119.4h1M487.9 114.2h1M483.8 111.0h1M475.2 112.0h1M468.8 125.6h1M475.9 106.2h1M484.9 118.3h1M479.7 109.0h1M466.6 120.1h1M474.8 108.8h1M482.7 101.7h1M484.0 94.2h1M471.3 105.4h1M474.8 117.8h1M464.8 125.2h1M470.7 111.5h1M486.4 103.8h1M490.7 105.3h1M476.2 106.4h1M487.8 107.3h1M472.5 107.9h1M471.1 113.7h1M470.4 119.6h1M476.7 108.3h1M481.4 119.1h1M457.6 121.9h1M487.2 108.8h1M484.8 99.4h1M470.1 121.0h1M476.2 112.7h1M483.0 111.9h1M481.3 107.2h1M474.3 121.2h1M472.5 104.9h1M473.8 118.8h1M493.8 106.3h1M471.3 118.0h1M479.9 118.1h1M482.0 114.7h1M481.9 112.7h1M468.7 114.3h1M492.0 114.3h1M486.1 110.8h1M476.1 114.5h1M474.1 119.9h1M474.3 108.4h1M462.2 127.4h1M470.2 109.4h1M480.9 121.5h1M483.4 107.5h1M482.4 104.8h1M474.9 113.0h1M477.3 116.7h1M482.2 121.6h1M484.9 107.1h1M479.6 105.8h1M471.5 112.1h1M486.6 104.0h1M462.8 111.4h1M466.1 115.2h1M474.4 105.9h1M469.9 112.3h1M480.9 114.2h1M489.5 105.5h1M483.1 110.1h1M467.2 112.0h1M497.5 102.9h1M492.5 111.0h1M492.6 104.7h1M485.9 106.6h1M467.1 108.8h1M481.4 100.4h1M480.7 105.2h1M480.6 102.2h1M485.2 107.4h1M463.2 108.6h1M477.9 101.6h1M480.4 113.7h1M471.3 122.8h1M490.7 108.6h1M481.5 113.1h1M474.9 120.9h1M472.4 98.4h1M477.5 114.5h1M484.9 102.1h1M490.2 101.8h1M483.2 114.1h1M479.0 118.2h1M472.8 126.2h1M481.9 107.5h1M501.3 102.4h1M462.5 126.5h1M491.6 102.7h1M468.3 122.4h1M477.9 105.8h1M472.9 114.0h1M486.4 117.9h1M471.7 123.5h1M463.5 121.7h1M476.1 115.1h1M473.4 109.1h1M480.0 117.8h1M457.0 120.2h1M473.7 106.7h1M465.0 119.9h1M482.5 113.8h1M459.1 109.7h1M471.8 111.4h1M493.6 103.1h1M478.6 117.5h1M492.7 108.1h1M480.5 122.5h1M473.7 102.3h1M470.5 112.7h1M489.4 109.1h1M488.5 108.1h1M477.8 108.2h1M466.1 119.4h1M480.7 114.1h1M472.5 111.2h1M480.9 114.2h1M495.7 99.3h1M486.5 113.7h1M475.0 113.7h1M476.9 121.5h1M500.8 104.6h1M475.1 118.6h1M481.9 108.9h1M484.3 114.5h1M473.8 118.5h1M456.8 112.1h1M474.6 114.0h1M464.0 126.2h1M473.9 114.2h1M477.0 116.7h1M472.1 118.5h1M469.8 105.8h1M482.1 111.0h1M485.5 96.7h1M478.4 107.5h1M475.7 110.1h1M474.0 109.1h1M486.8 97.6h1M462.0 120.0h1M495.9 99.9h1M469.1 107.9h1M468.0 123.3h1M483.7 114.9h1M480.6 112.0h1M472.1 108.0h1M483.1 124.9h1M474.0 121.0h1M470.9 114.6h1M493.0 105.2h1M483.2 106.1h1M494.7 97.5h1M482.6 108.4h1M479.2 113.4h1M489.5 112.5h1M487.1 110.3h1M467.6 124.0h1M491.5 109.3h1M484.7 107.5h1M464.2 123.1h1M470.7 126.3h1M483.7 109.2h1M471.8 114.7h1M468.1 113.2h1M492.1 104.2h1M494.3 104.6h1M481.2 104.6h1M474.6 110.2h1M464.6 128.8h1M482.8 109.2h1M467.3 116.0h1M467.7 109.7h1M475.7 125.9h1M461.4 121.6h1M472.4 95.9h1M464.4 116.2h1M477.9 107.0h1M493.7 108.7h1M471.6 104.0h1M479.0 107.1h1M486.8 101.7h1M488.4 104.7h1M479.2 109.5h1M483.1 116.7h1M472.4 108.3h1M494.8 110.9h1M494.9 110.8h1M478.6 121.5h1M471.2 111.7h1M473.7 117.6h1M469.5 113.9h1M469.6 113.5h1M487.7 114.7h1M475.3 128.5h1M470.9 117.3h1M472.9 99.9h1M466.4 123.9h1M462.1 136.0h1M476.2 114.0h1M488.9 107.5h1M471.5 110.4h1M468.6 118.7h1M473.0 116.8h1M463.5 114.7h1M496.3 106.6h1M476.4 119.6h1M479.9 120.4h1M466.6 120.9h1M467.5 120.0h1M500.0 112.4h1M469.4 117.6h1M481.5 105.8h1M479.5 104.4h1M486.2 114.0h1M475.8 116.8h1M499.3 102.2h1M460.0 120.8h1M473.1 108.7h1M485.6 114.8h1M482.8 119.9h1M471.5 111.6h1M481.2 93.6h1M452.0 124.0h1M475.3 113.0h1M468.4 116.8h1M487.0 104.1h1M482.5 108.9h1M475.8 113.2h1M491.2 109.6h1M483.6 110.3h1M457.4 125.6h1M477.1 112.6h1M472.6 104.2h1M491.0 117.9h1M491.8 94.8h1M482.3 102.6h1M475.5 109.4h1M471.5 109.4h1M472.8 118.5h1M492.1 111.8h1M477.1 111.1h1M475.0 112.7h1M471.5 113.1h1M485.1 107.4h1M469.7 114.1h1M478.0 111.1h1M474.8 117.3h1M476.8 105.8h1M482.5 105.4h1M484.4 114.2h1M481.7 112.1h1M464.7 115.6h1M478.4 115.4h1M466.8 115.1h1M462.9 118.7h1M477.9 112.4h1M492.5 110.4h1M475.4 109.1h1M473.1 118.4h1M485.7 105.5h1M476.1 109.7h1M483.6 110.6h1M470.5 109.1h1M489.3 98.5h1M460.3 99.5h1M496.1 101.1h1M485.1 112.3h1M485.0 115.9h1M472.8 113.6h1M486.3 111.8h1M470.1 110.0h1M463.7 118.9h1M472.2 104.2h1M472.0 116.0h1M478.9 109.9h1M478.7 115.4h1M466.0 111.3h1M486.2 112.9h1M464.1 112.6h1M490.7 111.3h1M475.8 118.8h1M490.0 115.7h1M464.2 109.0h1M472.4 113.5h1M473.9 114.8h1M491.0 113.3h1M486.4 108.3h1M492.6 108.7h1M479.4 110.9h1M460.0 132.1h1M477.0 117.6h1M498.4 102.4h1M466.3 122.6h1M479.4 105.2h1M486.2 108.5h1M468.3 99.7h1M467.9 118.0h1M467.5 121.8h1M497.8 105.8h1M479.3 110.6h1M485.2 109.0h1M486.9 116.9h1M485.2 102.8h1M483.4 107.9h1M480.1 116.8h1M471.0 115.7h1M490.9 101.3h1M475.4 117.2h1M475.0 119.2h1M467.7 106.4h1M480.7 109.7h1M480.1 116.8h1M487.0 105.9h1M473.6 101.4h1M468.0 117.1h1M479.2 102.0h1M484.5 108.8h1M487.5 105.7h1M486.2 101.5h1M459.8 113.8h1M483.7 111.9h1M459.5 119.9h1M483.5 119.9h1M484.5 112.2h1M462.3 120.1h1M458.7 117.4h1M473.7 107.3h1M467.7 114.8h1M482.6 105.8h1M480.0 115.2h1M477.0 123.8h1M474.2 108.6h1M459.3 125.6h1M483.5 108.3h1M480.1 110.0h1M485.4 108.7h1M479.3 110.6h1M468.8 101.6h1M482.3 102.3h1M480.9 114.4h1M494.9 100.4h1M478.6 117.2h1M470.9 110.8h1M481.4 123.0h1M487.3 113.8h1M468.1 119.6h1M487.9 99.9h1M477.3 110.7h1M483.2 98.8h1M483.8 109.3h1M474.7 99.9h1M457.7 116.3h1M483.3 112.2h1M484.2 98.7h1M479.1 119.5h1M462.6 121.7h1M470.3 118.0h1M478.1 101.6h1M467.3 123.7h1M476.1 120.0h1M480.3 116.2h1M473.4 114.8h1M473.7 118.9h1M385.8 160.4h1M403.9 141.7h1M389.2 155.9h1M405.6 160.8h1M391.4 137.6h1M397.7 146.8h1M392.3 154.8h1M378.8 160.1h1M398.3 156.2h1M395.6 154.4h1M378.9 147.4h1M397.5 148.9h1M390.8 154.5h1M391.4 153.6h1M394.7 151.5h1M381.4 149.4h1M398.7 146.1h1M394.6 154.0h1M383.2 128.9h1M390.5 145.3h1M385.4 159.0h1M384.2 154.3h1M391.6 153.1h1M407.4 135.7h1M398.7 150.4h1M388.3 146.2h1M391.0 151.9h1M382.9 164.7h1M384.4 150.4h1M380.0 152.7h1M393.6 160.2h1M398.9 147.5h1M404.1 150.7h1M403.7 165.3h1M387.2 142.9h1M395.2 163.0h1M394.0 160.3h1M395.6 158.6h1M401.7 149.2h1M378.7 150.6h1M384.0 142.0h1M389.2 157.2h1M375.1 139.4h1M397.3 144.4h1M387.3 162.4h1M400.0 154.4h1M395.1 129.7h1M395.3 154.6h1M378.9 153.0h1M394.4 150.6h1M397.3 158.6h1M391.1 149.5h1M380.7 160.6h1M385.8 154.1h1M403.5 157.7h1M380.0 150.8h1M384.6 138.3h1M383.9 156.2h1M393.4 149.9h1M392.1 142.2h1M384.2 150.2h1M397.3 149.0h1M389.2 154.2h1M402.9 141.4h1M395.1 153.0h1M390.0 153.5h1M374.0 151.7h1M388.6 141.6h1M397.7 150.6h1M387.7 157.6h1M382.9 145.8h1M397.5 158.5h1M407.5 147.9h1M378.4 139.6h1M380.6 152.4h1M388.6 146.1h1M382.1 145.9h1M387.5 161.0h1M395.8 162.5h1M397.5 157.6h1M400.5 155.1h1M403.5 160.6h1M405.8 153.2h1M384.1 168.5h1M388.2 155.7h1M387.4 145.9h1M394.2 142.6h1M389.3 162.8h1M391.6 158.1h1M395.9 154.6h1M391.5 156.4h1M382.5 156.2h1M381.6 145.5h1M385.7 140.8h1M374.1 154.6h1M394.8 156.8h1M409.1 152.9h1M396.8 145.5h1M396.5 142.4h1M407.1 143.8h1M387.1 157.5h1M372.2 162.2h1M382.6 153.1h1M398.8 152.8h1M398.4 147.5h1M395.5 134.1h1M403.2 146.2h1M383.3 151.6h1M404.8 145.9h1M390.4 148.6h1M382.7 141.1h1M395.5 157.2h1M384.3 153.3h1M394.3 154.5h1M389.2 151.9h1M392.9 143.0h1M389.3 157.9h1M385.9 162.0h1M388.5 142.7h1M388.1 140.7h1M395.7 138.8h1M390.7 149.6h1M388.0 154.9h1M393.0 147.0h1M397.4 147.9h1M398.1 162.2h1M393.7 158.9h1M379.3 156.0h1M378.0 150.1h1M396.4 130.1h1M384.0 145.3h1M382.6 151.7h1M395.9 142.3h1M385.3 136.7h1M384.6 134.8h1M377.9 155.3h1M397.9 145.0h1M393.5 145.3h1M399.5 165.5h1M369.9 144.6h1M385.2 147.7h1M403.6 164.1h1M390.4 156.6h1M377.2 149.1h1M388.1 150.3h1M393.0 139.0h1M381.8 168.6h1M376.0 152.0h1M396.6 155.4h1M391.0 138.6h1M386.6 139.0h1M407.0 154.4h1M396.6 153.1h1M387.2 161.0h1M397.9 156.6h1M395.4 157.4h1M388.2 155.0h1M391.2 149.5h1M395.9 168.6h1M373.5 163.0h1M386.9 161.1h1M382.0 150.0h1M399.1 150.9h1M393.4 141.8h1M380.9 164.8h1M391.8 150.8h1M378.9 143.2h1M381.9 151.1h1M389.5 146.6h1M384.9 152.4h1M400.3 140.3h1M378.6 160.5h1M378.5 148.2h1M391.5 166.1h1M373.4 128.3h1M389.8 160.1h1M391.7 145.0h1M392.1 135.0h1M397.4 163.4h1M388.8 158.1h1M381.7 163.3h1M385.1 145.1h1M384.1 137.3h1M396.1 167.5h1M378.5 149.9h1M394.3 147.0h1M377.4 154.2h1M398.9 152.3h1M381.5 149.1h1M374.3 151.0h1M400.7 160.4h1M389.8 155.0h1M386.2 152.6h1M385.5 152.8h1M386.2 153.1h1M396.3 151.4h1M379.6 155.5h1M388.4 147.5h1M395.2 144.8h1M398.3 156.0h1M384.7 145.9h1M389.5 144.2h1M398.4 133.4h1M391.7 148.7h1M381.3 156.6h1M386.5 155.2h1M386.9 149.2h1M394.9 159.2h1M398.9 151.3h1M402.9 148.8h1M379.1 136.5h1M378.4 144.6h1M375.6 154.1h1M390.8 151.2h1M392.5 150.6h1M388.4 149.0h1M390.8 142.5h1M401.2 163.9h1M390.8 168.3h1M382.4 158.7h1M377.0 156.4h1M384.3 159.6h1M391.5 159.1h1M395.6 155.7h1M388.2 164.3h1M393.5 155.4h1M402.5 149.4h1M405.1 160.2h1M391.2 139.9h1M400.7 149.0h1M391.3 152.5h1M398.5 156.6h1M375.3 146.2h1M393.4 152.9h1M397.2 156.1h1M404.1 145.7h1M401.4 154.6h1M393.0 157.0h1M387.7 157.3h1M388.8 157.3h1M384.2 160.9h1M377.8 146.2h1M390.1 153.5h1M383.9 148.3h1M392.7 159.9h1M401.3 147.7h1M390.0 149.0h1M377.8 147.9h1M400.0 140.7h1M414.4 159.4h1M405.0 153.0h1M371.3 155.0h1M403.8 146.9h1M401.1 157.6h1M397.1 157.5h1M395.4 156.7h1M400.5 154.9h1M395.8 155.0h1M391.7 144.5h1M375.6 143.4h1M380.2 139.6h1M396.3 148.9h1M401.2 169.9h1M397.0 147.8h1M393.7 149.9h1M392.9 168.3h1M403.9 161.8h1M393.0 165.9h1M397.5 158.7h1M380.8 146.6h1M392.0 149.8h1M386.2 135.4h1M384.3 150.7h1M393.1 142.9h1M389.5 166.1h1M391.9 135.7h1M389.0 151.6h1M401.2 153.1h1M402.0 154.2h1M400.3 162.4h1M403.4 153.1h1M395.9 168.5h1M380.4 153.1h1M394.6 145.9h1M397.5 150.2h1M397.2 153.1h1M382.8 160.0h1M407.3 159.0h1M392.9 137.6h1M393.3 151.3h1M384.0 136.1h1M394.3 159.4h1M396.5 169.7h1M374.8 154.4h1M390.3 163.0h1M390.3 143.7h1M390.1 155.1h1M384.5 145.2h1M392.8 158.6h1M388.7 155.5h1M386.4 148.8h1M392.2 159.4h1M403.8 150.5h1M394.3 167.4h1M397.6 148.6h1M394.0 140.0h1M373.1 145.4h1M384.6 140.7h1M399.2 147.9h1M391.3 152.1h1M388.9 142.1h1M406.7 135.5h1M390.3 157.2h1M388.9 150.7h1M393.2 153.5h1M387.8 160.3h1M394.8 163.7h1M391.4 135.5h1M376.9 147.4h1M394.4 138.3h1M385.9 161.6h1M393.4 145.8h1M389.7 152.5h1M387.1 149.0h1M385.3 153.3h1M403.8 163.3h1M380.3 168.1h1M389.6 140.2h1M378.3 152.7h1M392.6 146.4h1M384.0 149.8h1M392.8 157.0h1M395.3 132.3h1M385.7 153.7h1M393.7 158.0h1M378.3 164.2h1M380.7 149.9h1M386.8 147.7h1M384.2 158.2h1M397.2 154.4h1M380.1 146.5h1M390.2 154.8h1M386.1 149.4h1M412.4 152.1h1M388.2 131.7h1M384.4 164.8h1M397.6 141.9h1M397.2 152.9h1M384.1 158.0h1M385.6 149.1h1M390.8 153.3h1M387.0 154.0h1M390.7 153.1h1M393.9 146.4h1M379.3 151.0h1M400.8 154.2h1M392.5 145.6h1M381.2 141.5h1M383.1 148.5h1M377.9 150.6h1M377.7 156.8h1M390.4 137.3h1M386.1 153.4h1M393.8 157.8h1M387.7 150.4h1M388.7 156.0h1M384.9 150.2h1M391.9 148.7h1M381.7 162.5h1M394.8 144.2h1M406.8 145.4h1M383.5 148.6h1M395.1 163.7h1M401.9 156.0h1M391.2 156.9h1M384.2 145.9h1M395.0 153.2h1M392.6 143.3h1M392.7 139.9h1M398.3 151.6h1M385.4 147.8h1M413.5 169.4h1M384.9 162.6h1M366.8 160.7h1M390.8 153.6h1M382.8 141.0h1M392.6 148.0h1M394.8 160.1h1M389.7 155.9h1M392.1 153.5h1M386.4 153.5h1M394.2 152.2h1M386.9 139.8h1M381.9 164.2h1M399.0 154.0h1M393.1 150.4h1M396.3 159.3h1M388.6 154.1h1M398.5 138.8h1M382.9 146.9h1M404.2 144.3h1M406.6 144.7h1M416.8 138.0h1M413.9 159.9h1M414.6 137.6h1M408.5 158.1h1M411.1 142.7h1M419.2 141.9h1M404.6 153.3h1M413.3 142.5h1M416.8 157.5h1M421.5 149.0h1M416.7 152.3h1M401.7 162.3h1M408.1 143.3h1M406.8 139.8h1M421.6 148.1h1M408.7 132.4h1M414.4 147.6h1M405.2 147.2h1M399.1 153.6h1M403.8 152.3h1M413.9 129.9h1M404.5 142.5h1M419.3 153.2h1M418.0 162.4h1M410.9 143.7h1M398.7 139.2h1M417.5 140.9h1M406.4 156.2h1M394.2 160.0h1M423.1 132.7h1M416.8 148.0h1M420.1 145.2h1M412.2 160.2h1M408.6 151.7h1M418.0 147.1h1M419.9 152.5h1M419.6 133.5h1M405.2 150.6h1M422.2 160.4h1M413.3 141.7h1M404.8 131.4h1M409.3 153.0h1M412.6 135.4h1M412.4 148.5h1M407.4 160.6h1M416.5 157.5h1M413.9 139.7h1M421.5 157.6h1M408.7 136.7h1M419.4 143.2h1M404.2 147.4h1M417.4 141.7h1M413.4 156.6h1M418.9 134.7h1M418.7 163.3h1M420.2 147.4h1M416.0 134.6h1M408.7 143.6h1M429.1 148.1h1M405.7 162.6h1M422.6 133.9h1M411.6 133.6h1M421.1 128.6h1M427.4 139.0h1M405.2 166.2h1M417.3 151.1h1M419.8 139.6h1M419.9 145.7h1M417.2 150.1h1M423.8 137.0h1M402.5 153.7h1M431.3 152.8h1M411.9 153.9h1M403.9 148.9h1M400.3 149.1h1M418.7 162.7h1M409.3 156.1h1M423.5 139.1h1M411.1 132.2h1M406.5 151.9h1M397.6 145.5h1M418.7 160.4h1M394.0 151.4h1M408.5 128.3h1M405.4 153.2h1M413.0 154.1h1M410.9 153.8h1M405.7 139.7h1M411.9 133.0h1M422.6 145.9h1M405.7 140.7h1M405.8 149.2h1M410.4 155.5h1M404.3 147.5h1M401.6 144.1h1M423.6 147.1h1M420.0 147.6h1M404.8 140.5h1M404.5 151.0h1M414.9 168.3h1M425.9 155.4h1M405.7 149.1h1M406.2 168.4h1M407.6 158.2h1M402.8 154.7h1M403.8 144.1h1M414.5 149.3h1M412.7 147.5h1M406.6 147.1h1M412.6 140.0h1M417.5 149.6h1M407.4 159.3h1M408.8 131.7h1M422.8 144.8h1M424.3 151.8h1M406.3 157.7h1M416.7 156.1h1M413.5 161.5h1M420.2 145.2h1M401.6 147.7h1M413.7 139.6h1M411.7 161.0h1M409.5 157.8h1M406.0 139.7h1M420.3 146.6h1M414.8 157.0h1M425.6 137.4h1M417.6 150.0h1M414.2 163.6h1M411.3 142.9h1M417.0 130.6h1M415.9 140.4h1M415.6 141.7h1M417.0 145.9h1M407.7 152.8h1M418.8 134.2h1M403.3 145.8h1M410.2 159.6h1M495.9 132.8h1M481.8 124.1h1M411.2 158.1h1M400.0 169.7h1M457.8 156.9h1M432.1 119.2h1M444.6 150.1h1M444.2 133.6h1M452.7 136.1h1M490.4 104.9h1M387.0 159.6h1M458.2 111.8h1M449.2 147.8h1M460.0 141.8h1M428.8 123.1h1M477.8 125.0h1M411.0 168.0h1M471.6 86.1h1M404.1 168.9h1M459.8 157.6h1M450.7 112.1h1M445.6 134.4h1M458.7 134.1h1M466.5 114.3h1M434.7 136.6h1M462.2 107.5h1M450.4 169.6h1M398.7 168.2h1M453.2 155.6h1M451.9 143.8h1M460.8 144.2h1M415.8 149.3h1M502.7 146.2h1M426.0 132.3h1M445.4 159.4h1M476.7 121.4h1M382.2 161.9h1M402.6 168.4h1M492.9 137.0h1M467.4 143.7h1M503.2 140.5h1M491.8 107.0h1M435.4 144.9h1M386.3 156.5h1M449.7 139.1h1M444.6 139.9h1M440.4 119.6h1M482.5 129.6h1M460.7 137.1h1M427.9 120.8h1M442.0 151.7h1M446.8 153.4h1M427.5 142.7h1M454.5 136.9h1M455.3 162.3h1M438.2 146.3h1M431.5 155.3h1M456.7 125.5h1" stroke="#000" stroke-width="1" stroke-opacity="0.72" fill="none"/>
<line x1="349.2" y1="41.9" x2="349.2" y2="171" stroke="#2a2a2a" stroke-width="1.3"/>
<line x1="348.6" y1="170.4" x2="518.2" y2="170.4" stroke="#2a2a2a" stroke-width="1.3"/>
<line x1="349" y1="42.4" x2="518.2" y2="42.4" stroke="#505050" stroke-width="1"/>
<line x1="517.7" y1="42" x2="517.7" y2="171" stroke="#505050" stroke-width="1"/>
<line x1="409.1" y1="42" x2="409.1" y2="170" stroke="#6a6a6a" stroke-width="1"/>
<line x1="349" y1="154.6" x2="518" y2="154.6" stroke="#858585" stroke-width="1"/>
<rect x="409.5" y="155" width="58.5" height="15" fill="none" stroke="#0a0a0a" stroke-width="1.9"/>
<rect x="409.5" y="125" width="58.5" height="26.30000000000001" fill="none" stroke="#0a0a0a" stroke-width="1.9"/>
<rect x="451.5" y="94" width="44.80000000000001" height="26.5" fill="none" stroke="#0a0a0a" stroke-width="1.9"/>
<rect x="410.4" y="156.3" width="13.400000000000034" height="12.799999999999983" fill="#fff"/>
<text x="418.1" y="166.3" font-size="9" font-weight="bold" text-anchor="middle" fill="#111" stroke="#111" stroke-width="0.25" >1</text>
<rect x="410.4" y="126.7" width="14.800000000000011" height="15.499999999999986" fill="#fff"/>
<text x="419.3" y="138.2" font-size="9" font-weight="bold" text-anchor="middle" fill="#111" stroke="#111" stroke-width="0.25" >2</text>
<rect x="456" y="101.5" width="6.5" height="8.5" fill="#fff"/>
<text x="459.3" y="108.3" font-size="9" font-weight="bold" text-anchor="middle" fill="#111" stroke="#111" stroke-width="0.25" >3</text>
<text x="345.6" y="174.3" font-size="7" font-weight="bold" text-anchor="end" fill="#222">10<tspan dy="-3" dx="-0.8" font-size="5.5">0</tspan></text>
<text x="351.3" y="182" font-size="7" font-weight="bold" text-anchor="end" fill="#222">10<tspan dy="-3" dx="-1.8" font-size="5.5">0</tspan></text>
<text x="345.6" y="142.3" font-size="7" font-weight="bold" text-anchor="end" fill="#222">10<tspan dy="-3" dx="-0.8" font-size="5.5">1</tspan></text>
<text x="393.5" y="182" font-size="7" font-weight="bold" text-anchor="end" fill="#222">10<tspan dy="-3" dx="-1.8" font-size="5.5">1</tspan></text>
<text x="345.6" y="110.3" font-size="7" font-weight="bold" text-anchor="end" fill="#222">10<tspan dy="-3" dx="-0.8" font-size="5.5">2</tspan></text>
<text x="435.7" y="182" font-size="7" font-weight="bold" text-anchor="end" fill="#222">10<tspan dy="-3" dx="-1.8" font-size="5.5">2</tspan></text>
<text x="345.6" y="78.3" font-size="7" font-weight="bold" text-anchor="end" fill="#222">10<tspan dy="-3" dx="-0.8" font-size="5.5">3</tspan></text>
<text x="477.90000000000003" y="182" font-size="7" font-weight="bold" text-anchor="end" fill="#222">10<tspan dy="-3" dx="-1.8" font-size="5.5">3</tspan></text>
<text x="345.6" y="46.3" font-size="7" font-weight="bold" text-anchor="end" fill="#222">10<tspan dy="-3" dx="-0.8" font-size="5.5">4</tspan></text>
<text x="520.0999999999999" y="182" font-size="7" font-weight="bold" text-anchor="end" fill="#222">10<tspan dy="-3" dx="-1.8" font-size="5.5">4</tspan></text>
<text transform="translate(333.5 114.5) rotate(-90)" font-size="11.6" font-weight="bold" text-anchor="middle" fill="#111">CD13</text>
<line x1="328" y1="49" x2="328" y2="92" stroke="#000" stroke-width="1.5"/>
<polygon points="328,43.5 324.8,50 331.2,50" fill="#000"/>
<line x1="328" y1="137.5" x2="328" y2="174" stroke="#000" stroke-width="1.5"/>
<text x="421.5" y="195" font-size="12" font-weight="bold" text-anchor="middle" fill="#111" stroke="#111" stroke-width="0.25" >CD33</text>
<line x1="355.5" y1="189.6" x2="402" y2="189.6" stroke="#000" stroke-width="1.5"/>
<line x1="443" y1="189.6" x2="507" y2="189.6" stroke="#000" stroke-width="1.5"/>
<polygon points="511.8,189.6 506,186.5 506,192.7" fill="#000"/>
<text x="-0.2" y="224.3" font-size="25.3" font-weight="bold" fill="#111" stroke="#111" stroke-width="0.25" >C</text>
<line x1="56.6" y1="243.9168" x2="56.6" y2="238.8096" stroke="#333" stroke-width="1"/>
<line x1="50.6" y1="238.8096" x2="62.6" y2="238.8096" stroke="#444" stroke-width="1"/>
<rect x="44.5" y="243.92" width="24.200000000000003" height="94.48" fill="#000" stroke="#333" stroke-width="0.9"/>
<line x1="92.6" y1="280.0928" x2="92.6" y2="268.8144" stroke="#333" stroke-width="1"/>
<line x1="86.6" y1="268.8144" x2="98.6" y2="268.8144" stroke="#444" stroke-width="1"/>
<circle cx="92.19999999999999" cy="266.31" r="1.35" fill="#111"/>
<rect x="80.5" y="280.09" width="24.200000000000003" height="58.31" fill="#707070" stroke="#333" stroke-width="0.9"/>
<line x1="129.35" y1="294.3504" x2="129.35" y2="285.4128" stroke="#333" stroke-width="1"/>
<line x1="123.35" y1="285.4128" x2="135.35" y2="285.4128" stroke="#444" stroke-width="1"/>
<circle cx="128.95" cy="282.91" r="1.35" fill="#111"/>
<rect x="117" y="294.35" width="24.69999999999999" height="44.05" fill="#999" stroke="#333" stroke-width="0.9"/>
<line x1="165.55" y1="289.8816" x2="165.55" y2="281.3696" stroke="#333" stroke-width="1"/>
<line x1="159.55" y1="281.3696" x2="171.55" y2="281.3696" stroke="#444" stroke-width="1"/>
<circle cx="165.15" cy="278.87" r="1.35" fill="#111"/>
<rect x="153.4" y="289.88" width="24.299999999999983" height="48.52" fill="#bbb" stroke="#333" stroke-width="0.9"/>
<line x1="32.4" y1="231.5" x2="32.4" y2="338.9" stroke="#444" stroke-width="1"/>
<line x1="31.9" y1="338.4" x2="192" y2="338.4" stroke="#000" stroke-width="1.5"/>
<line x1="28.9" y1="338.4" x2="32.4" y2="338.4" stroke="#333" stroke-width="1"/>
<text x="26.9" y="342.29999999999995" font-size="11.2" text-anchor="end" fill="#111" stroke="#111" stroke-width="0.25" >0</text>
<line x1="28.9" y1="317.12" x2="32.4" y2="317.12" stroke="#333" stroke-width="1"/>
<text x="26.9" y="321.02" font-size="11.2" text-anchor="end" fill="#111" stroke="#111" stroke-width="0.25" >10</text>
<line x1="28.9" y1="295.84" x2="32.4" y2="295.84" stroke="#333" stroke-width="1"/>
<text x="26.9" y="299.73999999999995" font-size="11.2" text-anchor="end" fill="#111" stroke="#111" stroke-width="0.25" >20</text>
<line x1="28.9" y1="274.56" x2="32.4" y2="274.56" stroke="#333" stroke-width="1"/>
<text x="26.9" y="278.46" font-size="11.2" text-anchor="end" fill="#111" stroke="#111" stroke-width="0.25" >30</text>
<line x1="28.9" y1="253.27999999999997" x2="32.4" y2="253.27999999999997" stroke="#333" stroke-width="1"/>
<text x="26.9" y="257.17999999999995" font-size="11.2" text-anchor="end" fill="#111" stroke="#111" stroke-width="0.25" >40</text>
<line x1="28.9" y1="232.0" x2="32.4" y2="232.0" stroke="#333" stroke-width="1"/>
<text x="26.9" y="235.9" font-size="11.2" text-anchor="end" fill="#111" stroke="#111" stroke-width="0.25" >50</text>
<text x="57.4" y="353" font-size="11" font-weight="bold" text-anchor="middle" fill="#111" stroke="#111" stroke-width="0.25" >Scr</text>
<text x="92.3" y="353" font-size="11" font-weight="bold" text-anchor="middle" fill="#111" stroke="#111" stroke-width="0.25" >A</text>
<text x="129.04999999999998" y="353" font-size="11" font-weight="bold" text-anchor="middle" fill="#111" stroke="#111" stroke-width="0.25" >B</text>
<text x="165.25" y="353" font-size="11" font-weight="bold" text-anchor="middle" fill="#111" stroke="#111" stroke-width="0.25" >C</text>
<text x="112.3" y="237" font-size="9.5" font-weight="bold" text-anchor="middle" fill="#111" stroke="#111" stroke-width="0.25" >1</text>
<text transform="translate(10.6 332.5) rotate(-90)" font-size="11.5" fill="#111"><tspan font-size="10.5">%</tspan> CD13 <tspan dy="-3.3" font-size="8.1">negative</tspan></text>
<line x1="248.7" y1="279.97425" x2="248.7" y2="279.40975" stroke="#333" stroke-width="1"/>
<line x1="242.7" y1="279.40975" x2="254.7" y2="279.40975" stroke="#444" stroke-width="1"/>
<rect x="236.7" y="279.97" width="24.0" height="58.43" fill="#000" stroke="#333" stroke-width="0.9"/>
<line x1="285.0" y1="260.499" x2="285.0" y2="255.13625" stroke="#333" stroke-width="1"/>
<line x1="279.0" y1="255.13625" x2="291.0" y2="255.13625" stroke="#444" stroke-width="1"/>
<circle cx="284.6" cy="252.64" r="1.35" fill="#111"/>
<rect x="273" y="260.50" width="24" height="77.90" fill="#707070" stroke="#333" stroke-width="0.9"/>
<line x1="321.45" y1="256.688625" x2="321.45" y2="254.28949999999998" stroke="#333" stroke-width="1"/>
<line x1="315.45" y1="254.28949999999998" x2="327.45" y2="254.28949999999998" stroke="#444" stroke-width="1"/>
<circle cx="321.05" cy="251.79" r="1.35" fill="#111"/>
<rect x="309.2" y="256.69" width="24.5" height="81.71" fill="#999" stroke="#333" stroke-width="0.9"/>
<line x1="357.0" y1="268.260875" x2="357.0" y2="263.744875" stroke="#333" stroke-width="1"/>
<line x1="351.0" y1="263.744875" x2="363.0" y2="263.744875" stroke="#444" stroke-width="1"/>
<circle cx="356.6" cy="261.24" r="1.35" fill="#111"/>
<rect x="344.5" y="268.26" width="25.0" height="70.14" fill="#bbb" stroke="#333" stroke-width="0.9"/>
<line x1="224.5" y1="225.0" x2="224.5" y2="338.9" stroke="#444" stroke-width="1"/>
<line x1="224.0" y1="338.4" x2="380.5" y2="338.4" stroke="#000" stroke-width="1.5"/>
<line x1="221.5" y1="338.4" x2="224.5" y2="338.4" stroke="#333" stroke-width="1"/>
<text x="221.2" y="342.29999999999995" font-size="12.2" text-anchor="end" fill="#111" stroke="#111" stroke-width="0.25" >0</text>
<line x1="221.5" y1="310.17499999999995" x2="224.5" y2="310.17499999999995" stroke="#333" stroke-width="1"/>
<text x="221.2" y="314.07499999999993" font-size="12.2" text-anchor="end" fill="#111" stroke="#111" stroke-width="0.25" >20</text>
<line x1="221.5" y1="281.95" x2="224.5" y2="281.95" stroke="#333" stroke-width="1"/>
<text x="221.2" y="285.84999999999997" font-size="12.2" text-anchor="end" fill="#111" stroke="#111" stroke-width="0.25" >40</text>
<line x1="221.5" y1="253.725" x2="224.5" y2="253.725" stroke="#333" stroke-width="1"/>
<text x="221.2" y="257.625" font-size="12.2" text-anchor="end" fill="#111" stroke="#111" stroke-width="0.25" >60</text>
<line x1="221.5" y1="225.5" x2="224.5" y2="225.5" stroke="#333" stroke-width="1"/>
<text x="221.2" y="229.4" font-size="12.2" text-anchor="end" fill="#111" stroke="#111" stroke-width="0.25" >80</text>
<text x="249.5" y="353" font-size="11" font-weight="bold" text-anchor="middle" fill="#111" stroke="#111" stroke-width="0.25" >Scr</text>
<text x="284.7" y="353" font-size="11" font-weight="bold" text-anchor="middle" fill="#111" stroke="#111" stroke-width="0.25" >A</text>
<text x="321.15" y="353" font-size="11" font-weight="bold" text-anchor="middle" fill="#111" stroke="#111" stroke-width="0.25" >B</text>
<text x="356.7" y="353" font-size="11" font-weight="bold" text-anchor="middle" fill="#111" stroke="#111" stroke-width="0.25" >C</text>
<text x="303.7" y="237" font-size="9.5" font-weight="bold" text-anchor="middle" fill="#111" stroke="#111" stroke-width="0.25" >2</text>
<text transform="translate(205 333) rotate(-90)" font-size="11.5" fill="#111"><tspan font-size="10.5">%</tspan> CD13 <tspan dy="-3.3" font-size="8.6">low positive</tspan></text>
<line x1="53.3" y1="445.76266666666663" x2="53.3" y2="444.66066666666666" stroke="#333" stroke-width="1"/>
<line x1="47.3" y1="444.66066666666666" x2="59.3" y2="444.66066666666666" stroke="#444" stroke-width="1"/>
<rect x="42" y="445.76" width="22.599999999999994" height="38.94" fill="#000" stroke="#333" stroke-width="0.9"/>
<line x1="86.45" y1="437.31399999999996" x2="86.45" y2="425.9266666666667" stroke="#333" stroke-width="1"/>
<line x1="80.45" y1="425.9266666666667" x2="92.45" y2="425.9266666666667" stroke="#444" stroke-width="1"/>
<rect x="75.2" y="437.31" width="22.5" height="47.39" fill="#707070" stroke="#333" stroke-width="0.9"/>
<line x1="119.85" y1="431.804" x2="119.85" y2="422.988" stroke="#333" stroke-width="1"/>
<line x1="113.85" y1="422.988" x2="125.85" y2="422.988" stroke="#444" stroke-width="1"/>
<rect x="108.5" y="431.80" width="22.69999999999999" height="52.90" fill="#999" stroke="#333" stroke-width="0.9"/>
<line x1="153.1" y1="414.172" x2="153.1" y2="406.45799999999997" stroke="#333" stroke-width="1"/>
<line x1="147.1" y1="406.45799999999997" x2="159.1" y2="406.45799999999997" stroke="#444" stroke-width="1"/>
<circle cx="152.7" cy="403.96" r="1.35" fill="#111"/>
<rect x="141.6" y="414.17" width="23.0" height="70.53" fill="#bbb" stroke="#333" stroke-width="0.9"/>
<line x1="30.5" y1="374.0" x2="30.5" y2="485.2" stroke="#444" stroke-width="1"/>
<line x1="30.0" y1="484.7" x2="175.5" y2="484.7" stroke="#000" stroke-width="1.5"/>
<line x1="28.0" y1="484.7" x2="30.5" y2="484.7" stroke="#333" stroke-width="1"/>
<text x="27.7" y="488.59999999999997" font-size="11.8" text-anchor="end" fill="#111" stroke="#111" stroke-width="0.25" >0</text>
<line x1="28.0" y1="447.96666666666664" x2="30.5" y2="447.96666666666664" stroke="#333" stroke-width="1"/>
<text x="27.7" y="451.8666666666666" font-size="11.8" text-anchor="end" fill="#111" stroke="#111" stroke-width="0.25" >10</text>
<line x1="28.0" y1="411.23333333333335" x2="30.5" y2="411.23333333333335" stroke="#333" stroke-width="1"/>
<text x="27.7" y="415.1333333333333" font-size="11.8" text-anchor="end" fill="#111" stroke="#111" stroke-width="0.25" >20</text>
<line x1="28.0" y1="374.5" x2="30.5" y2="374.5" stroke="#333" stroke-width="1"/>
<text x="27.7" y="378.4" font-size="11.8" text-anchor="end" fill="#111" stroke="#111" stroke-width="0.25" >30</text>
<text x="54.099999999999994" y="499" font-size="11" font-weight="bold" text-anchor="middle" fill="#111" stroke="#111" stroke-width="0.25" >Scr</text>
<text x="86.15" y="499" font-size="11" font-weight="bold" text-anchor="middle" fill="#111" stroke="#111" stroke-width="0.25" >A</text>
<text x="119.55" y="499" font-size="11" font-weight="bold" text-anchor="middle" fill="#111" stroke="#111" stroke-width="0.25" >B</text>
<text x="152.79999999999998" y="499" font-size="11" font-weight="bold" text-anchor="middle" fill="#111" stroke="#111" stroke-width="0.25" >C</text>
<text x="102.2" y="383.5" font-size="9.5" font-weight="bold" text-anchor="middle" fill="#111" stroke="#111" stroke-width="0.25" >3</text>
<text transform="translate(10.8 479.5) rotate(-90)" font-size="11.5" fill="#111"><tspan font-size="10.5">%</tspan> CD13 <tspan dy="-3.3" font-size="8.3">high positive</tspan></text>
</svg>
</body></html>
